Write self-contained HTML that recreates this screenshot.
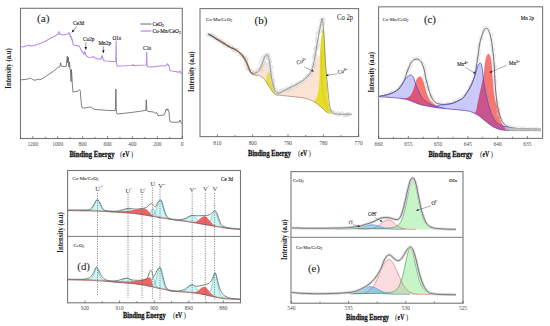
<!DOCTYPE html>
<html><head><meta charset="utf-8"><style>
html,body{margin:0;padding:0;background:#fff;}
svg{display:block;}
text{font-family:"Liberation Serif",serif;}
</style></head><body>
<svg width="550" height="326" viewBox="0 0 550 326">
<rect width="550" height="326" fill="#fff"/>
<rect x="20.5" y="8.3" width="161.8" height="130.2" fill="none" stroke="#777777" stroke-width="1.1"/><line x1="182.2" y1="138.5" x2="182.2" y2="136.1" stroke="#555" stroke-width="0.7"/><line x1="157.3" y1="138.5" x2="157.3" y2="136.1" stroke="#555" stroke-width="0.7"/><line x1="132.4" y1="138.5" x2="132.4" y2="136.1" stroke="#555" stroke-width="0.7"/><line x1="107.5" y1="138.5" x2="107.5" y2="136.1" stroke="#555" stroke-width="0.7"/><line x1="82.6" y1="138.5" x2="82.6" y2="136.1" stroke="#555" stroke-width="0.7"/><line x1="57.7" y1="138.5" x2="57.7" y2="136.1" stroke="#555" stroke-width="0.7"/><line x1="32.8" y1="138.5" x2="32.8" y2="136.1" stroke="#555" stroke-width="0.7"/><line x1="169.75" y1="138.5" x2="169.75" y2="136.9" stroke="#555" stroke-width="0.7"/><line x1="144.85" y1="138.5" x2="144.85" y2="136.9" stroke="#555" stroke-width="0.7"/><line x1="119.95" y1="138.5" x2="119.95" y2="136.9" stroke="#555" stroke-width="0.7"/><line x1="95.05" y1="138.5" x2="95.05" y2="136.9" stroke="#555" stroke-width="0.7"/><line x1="70.15" y1="138.5" x2="70.15" y2="136.9" stroke="#555" stroke-width="0.7"/><line x1="45.25" y1="138.5" x2="45.25" y2="136.9" stroke="#555" stroke-width="0.7"/><line x1="20.35" y1="138.5" x2="20.35" y2="136.9" stroke="#555" stroke-width="0.7"/><text x="182.2" y="145.6" font-size="5.4" text-anchor="middle" font-weight="normal" fill="#4a4a4a" >0</text><text x="157.3" y="145.6" font-size="5.4" text-anchor="middle" font-weight="normal" fill="#4a4a4a" >200</text><text x="132.4" y="145.6" font-size="5.4" text-anchor="middle" font-weight="normal" fill="#4a4a4a" >400</text><text x="107.5" y="145.6" font-size="5.4" text-anchor="middle" font-weight="normal" fill="#4a4a4a" >600</text><text x="82.6" y="145.6" font-size="5.4" text-anchor="middle" font-weight="normal" fill="#4a4a4a" >800</text><text x="57.7" y="145.6" font-size="5.4" text-anchor="middle" font-weight="normal" fill="#4a4a4a" >1000</text><text x="32.8" y="145.6" font-size="5.4" text-anchor="middle" font-weight="normal" fill="#4a4a4a" >1200</text><text x="69.4" y="156.5" font-size="7.3" font-weight="bold" fill="#141414" stroke="#141414" stroke-width="0.28" textLength="45.1" lengthAdjust="spacingAndGlyphs">Binding Energy</text><text x="120.1" y="156.5" font-size="7.3" fill="#333">(</text><text x="122.6" y="156.5" font-size="7.3" font-weight="bold" fill="#141414" stroke="#141414" stroke-width="0.22" textLength="6.7" lengthAdjust="spacingAndGlyphs">eV</text><text x="130.7" y="156.5" font-size="7.3" fill="#333">)</text><text transform="translate(8.3,68.5) rotate(-90)" x="-20.25" font-size="7.4" font-weight="bold" fill="#1a1a1a" dy="0.35em" textLength="40.5" lengthAdjust="spacingAndGlyphs">Intensity (a.u)</text><text x="37" y="22.1" font-size="11.4" fill="#222" stroke="#222" stroke-width="0.05">(a)</text><line x1="140.5" y1="24" x2="151.4" y2="24" stroke="#555" stroke-width="0.9"/><line x1="140.5" y1="31" x2="151.4" y2="31" stroke="#c4a4ee" stroke-width="1.6"/><text x="152.4" y="25.8" font-size="5.3" text-anchor="start" font-weight="normal" fill="#1e1e1e" stroke="#1e1e1e" stroke-width="0.14" >CeO<tspan font-size="3.6" dy="1">2</tspan></text><text x="152.4" y="32.8" font-size="5.3" text-anchor="start" font-weight="normal" fill="#1e1e1e" stroke="#1e1e1e" stroke-width="0.14" >Co-Mn/CeO<tspan font-size="3.6" dy="1">2</tspan></text><path d="M20.6,47 L24,46.6 L27,45.8 L28.5,45 L30,46 L33,45.6 L36,45 L40,43.5 L45,41.5 L50,38.5 L55,36 L58,34 L59,31.5 L59.6,34 L62,34.6 L64,35 L66,34.3 L67.5,34 L68.3,33.8 L69,32.5 L69.6,35 L70,34.2 L70.6,37.5 L71,36.2 L71.6,40 L72.2,39 L72.8,42.5 L73.3,45 L74.5,45.2 L77,45.6 L79.5,46.4 L81,50 L82.5,52 L83.5,53 L84,54.5 L84.6,51.5 L85.3,53 L86,55.5 L88,57 L90,57.5 L92,57.2 L93,56.4 L94,57.4 L96,58.4 L100,59.2 L101,58.5 L101.5,56.5 L102.2,55.5 L102.7,58 L103.2,60 L105,61 L110,61.3 L115,61.6 L115.8,61.5 L116.1,41 L116.5,63 L117.3,66.2 L125,65.8 L132,65.5 L132.7,64.3 L133.3,65.6 L140,65.2 L146.3,65 L146.7,52 L147.1,66.5 L148,67 L155,66.6 L160,66 L165,65.6 L166.5,65.2 L167.3,63.8 L168,64.5 L169.3,67 L169.8,70.5 L172,71 L176,71.6 L179,72.2 L180,71 L180.8,73 L182,74" fill="none" stroke="#b792e8" stroke-width="1.15" stroke-linejoin="round"/><path d="M20.6,79.8 L24,79.6 L26.6,79.2 L28,79 L29.5,78.4 L31,78.2 L32.3,79.6 L35,80.2 L37,79.6 L38.3,79.2 L40,79.8 L44,77.6 L50,73.5 L55,70 L58,67.5 L60,66.5 L60.6,62.8 L61.2,66.2 L64,66.5 L66.2,66.4 L66.8,60 L67.3,56.2 L67.8,63 L68.4,57.5 L68.9,67 L69.5,62 L70,69.5 L70.5,70 L71,81.5 L71.4,69.5 L71.9,76 L72.3,84 L73,92 L75,91.6 L78,91.2 L79.4,89.6 L80.2,90.5 L80.8,98 L81.6,106 L82.5,108 L85,108 L88,107.3 L91,107 L92.5,108.3 L95,109.5 L100,109.8 L105,110.2 L110,110.5 L115.3,110.6 L115.9,89 L116.4,112.5 L117.3,114 L125,113.2 L135,112 L145.8,110.4 L146.3,99.8 L146.8,110.8 L148,111.3 L150,111.6 L153.7,112 L155,113.5 L156.6,112.6 L158,115.6 L160,115.4 L164,115 L165,113 L166.3,109 L167,110.5 L167.6,108.8 L168.4,110 L169,112 L169.8,121.5 L172,122.2 L176,122.3 L179.3,122 L180,120 L180.7,121.8 L181.5,123.5 L182,124" fill="none" stroke="#555" stroke-width="0.75" stroke-linejoin="round"/><text x="73" y="25.3" font-size="5.3" text-anchor="start" font-weight="normal" fill="#222" stroke="#222" stroke-width="0.14" >Ce3d</text><line x1="76.6" y1="26.4" x2="71.8" y2="32.4" stroke="#333" stroke-width="0.5"/><path d="M71.8,32.4 L72.67,29.39 L74.55,30.89 Z" fill="#111"/><text x="83" y="41.4" font-size="5.3" text-anchor="start" font-weight="normal" fill="#222" stroke="#222" stroke-width="0.14" >Co2p</text><line x1="85.8" y1="42.3" x2="85.8" y2="49.8" stroke="#333" stroke-width="0.5"/><path d="M85.8,49.8 L84.55,47 L87.05,47 Z" fill="#111"/><text x="98.4" y="44.8" font-size="5.3" text-anchor="start" font-weight="normal" fill="#222" stroke="#222" stroke-width="0.14" >Mn2p</text><line x1="103.4" y1="46.3" x2="103.4" y2="53" stroke="#333" stroke-width="0.5"/><path d="M103.4,53 L102.15,50.2 L104.65,50.2 Z" fill="#111"/><text x="112.5" y="39.8" font-size="5.3" text-anchor="start" font-weight="normal" fill="#222" stroke="#222" stroke-width="0.14" >O1s</text><text x="142.9" y="50.2" font-size="5.3" text-anchor="start" font-weight="normal" fill="#222" stroke="#222" stroke-width="0.14" >C1s</text>
<rect x="200" y="8.6" width="158.6" height="128" fill="none" stroke="#777777" stroke-width="1.1"/><line x1="358.6" y1="136.6" x2="358.6" y2="134.2" stroke="#555" stroke-width="0.7"/><line x1="323.3" y1="136.6" x2="323.3" y2="134.2" stroke="#555" stroke-width="0.7"/><line x1="288" y1="136.6" x2="288" y2="134.2" stroke="#555" stroke-width="0.7"/><line x1="252.7" y1="136.6" x2="252.7" y2="134.2" stroke="#555" stroke-width="0.7"/><line x1="217.4" y1="136.6" x2="217.4" y2="134.2" stroke="#555" stroke-width="0.7"/><line x1="340.95" y1="136.6" x2="340.95" y2="135" stroke="#555" stroke-width="0.7"/><line x1="305.65" y1="136.6" x2="305.65" y2="135" stroke="#555" stroke-width="0.7"/><line x1="270.35" y1="136.6" x2="270.35" y2="135" stroke="#555" stroke-width="0.7"/><line x1="235.05" y1="136.6" x2="235.05" y2="135" stroke="#555" stroke-width="0.7"/><text x="358.6" y="145.2" font-size="5.4" text-anchor="middle" font-weight="normal" fill="#4a4a4a" >770</text><text x="323.3" y="145.2" font-size="5.4" text-anchor="middle" font-weight="normal" fill="#4a4a4a" >780</text><text x="288" y="145.2" font-size="5.4" text-anchor="middle" font-weight="normal" fill="#4a4a4a" >790</text><text x="252.7" y="145.2" font-size="5.4" text-anchor="middle" font-weight="normal" fill="#4a4a4a" >800</text><text x="217.4" y="145.2" font-size="5.4" text-anchor="middle" font-weight="normal" fill="#4a4a4a" >810</text><text x="248" y="155.9" font-size="7.3" font-weight="bold" fill="#141414" stroke="#141414" stroke-width="0.28" textLength="43" lengthAdjust="spacingAndGlyphs">Binding Energy</text><text x="297.9" y="155.9" font-size="7.3" fill="#333">(</text><text x="300.4" y="155.9" font-size="7.3" font-weight="bold" fill="#141414" stroke="#141414" stroke-width="0.22" textLength="6.7" lengthAdjust="spacingAndGlyphs">eV</text><text x="308.5" y="155.9" font-size="7.3" fill="#333">)</text><text transform="translate(191.8,71.7) rotate(-90)" x="-20.25" font-size="7.4" font-weight="bold" fill="#1a1a1a" dy="0.35em" textLength="40.5" lengthAdjust="spacingAndGlyphs">Intensity (a.u)</text><text x="254.6" y="24" font-size="10.9" fill="#222" stroke="#222" stroke-width="0.14">(b)</text><text x="206" y="21.2" font-size="4.9" text-anchor="start" font-weight="normal" fill="#1e1e1e" stroke="#1e1e1e" stroke-width="0.06" >Co-Mn/CeO<tspan font-size="3.5" dy="1">2</tspan></text><text x="337" y="19.9" font-size="7.3" text-anchor="start" font-weight="normal" fill="#222" stroke="#222" stroke-width="0.04" textLength="16" lengthAdjust="spacingAndGlyphs">Co 2p</text><path d="M253.5,74.3 C254,74.18 255.67,73.88 256.5,73.6 C257.33,73.32 257.87,73.2 258.5,72.6 C259.13,72 259.75,71.02 260.3,70 C260.85,68.98 261.32,67.67 261.8,66.5 C262.28,65.33 262.75,63.92 263.2,63 C263.65,62.08 264.1,61.37 264.5,61 C264.9,60.63 265.27,60.55 265.6,60.8 C265.93,61.05 266.22,61.63 266.5,62.5 C266.78,63.37 267.05,64.58 267.3,66 C267.55,67.42 267.77,69.33 268,71 C268.23,72.67 268.45,73.3 268.7,76 C268.95,78.7 269.87,86.12 269.5,87.2 C269.13,88.28 267.33,83.78 266.5,82.5 C265.67,81.22 265.25,80.42 264.5,79.5 C263.75,78.58 262.98,77.65 262,77 C261.02,76.35 259.6,75.9 258.6,75.6 C257.6,75.3 256.43,75.27 256,75.2 Z" fill="#fbe3d3"/><path d="M275.4,94.6 C275.67,94.4 276.23,93.68 277,93.4 C277.77,93.12 279.08,93.18 280,92.9 C280.92,92.62 281.5,92.2 282.5,91.7 C283.5,91.2 284.75,90.55 286,89.9 C287.25,89.25 288.83,88.38 290,87.8 C291.17,87.22 292,86.87 293,86.4 C294,85.93 295,85.4 296,85 C297,84.6 298,84.43 299,84 C300,83.57 301,83 302,82.4 C303,81.8 304.17,81 305,80.4 C305.83,79.8 306.33,79.42 307,78.8 C307.67,78.18 308.42,77.4 309,76.7 C309.58,76 310,75.42 310.5,74.6 C311,73.78 311.5,72.9 312,71.8 C312.5,70.7 313,69.38 313.5,68 C314,66.62 314.5,64.92 315,63.5 C315.5,62.08 316,60.67 316.5,59.5 C317,58.33 317.53,57.17 318,56.5 C318.47,55.83 318.93,54.92 319.3,55.5 C319.67,56.08 320.02,55.92 320.2,60 C320.38,64.08 320.43,73.33 320.4,80 C320.37,86.67 319.65,95.27 320,100 C320.35,104.73 322.83,107.65 322.5,108.4 C322.17,109.15 319.42,105.63 318,104.5 C316.58,103.37 315.33,102.38 314,101.6 C312.67,100.82 311.5,100.37 310,99.8 C308.5,99.23 306.67,98.6 305,98.2 C303.33,97.8 301.67,97.62 300,97.4 C298.33,97.18 296.67,97.08 295,96.9 C293.33,96.72 291.67,96.48 290,96.3 C288.33,96.12 287,96.02 285,95.8 C283,95.58 279.17,95.13 278,95 Z" fill="#fbe3d3"/><path d="M267.2,73.2 C267.77,73.1 269.87,71.8 270.6,72.6 C271.33,73.4 271.27,76.43 271.6,78 C271.93,79.57 272.27,80.58 272.6,82 C272.93,83.42 273.27,85.08 273.6,86.5 C273.93,87.92 274.27,89.32 274.6,90.5 C274.93,91.68 275.33,92.8 275.6,93.6 C275.87,94.4 276.23,95.13 276.2,95.3 C276.17,95.47 275.95,95.12 275.4,94.6 C274.85,94.08 273.88,93.43 272.9,92.2 C271.92,90.97 270.57,88.82 269.5,87.2 C268.43,85.58 267.02,83.95 266.5,82.5 C265.98,81.05 266.42,79.17 266.4,78.5 Z" fill="#e6de26"/><path d="M323.1,26.5 L322.2,31 L321.1,38 L320.4,46 L320,55 L319.8,65 L319.7,75 L319.4,82 L318.6,90 L317.6,95 L316.2,98.5 L314.8,100.6 L313.6,101.8 L318,104.5 L322.5,108.4 L326,111.5 L328.3,113.2 L332.6,114.3 L331,111.5 L329.5,108 L328.5,102 L327.8,97.5 L327.2,88 L326.6,80 L326,65 L325.4,55 L324.8,42 L324.2,33 L323.7,28.5Z" fill="#e6de26"/><path d="M321.4,50 L321.6,70 L322.2,88 L324.5,101 L328,110 L331,113.6" fill="none" stroke="#c8c018" stroke-width="0.5"/><g fill="none" stroke="#cdcdcd" stroke-width="0.6"><circle cx="207.79" cy="34.82" r="1.6"/><circle cx="210.76" cy="34.77" r="1.6"/><circle cx="212.29" cy="35.88" r="1.6"/><circle cx="212.5" cy="35.85" r="1.6"/><circle cx="214.98" cy="37.27" r="1.6"/><circle cx="216.7" cy="39.13" r="1.6"/><circle cx="218.98" cy="40.39" r="1.6"/><circle cx="220" cy="40.84" r="1.6"/><circle cx="221.6" cy="41.4" r="1.6"/><circle cx="224.37" cy="44.02" r="1.6"/><circle cx="223.68" cy="43.22" r="1.6"/><circle cx="227.22" cy="44.04" r="1.6"/><circle cx="227.29" cy="46.23" r="1.6"/><circle cx="231.39" cy="46.63" r="1.6"/><circle cx="233.25" cy="49.15" r="1.6"/><circle cx="233.62" cy="49.9" r="1.6"/><circle cx="236.06" cy="49.79" r="1.6"/><circle cx="237.26" cy="49.94" r="1.6"/><circle cx="237.65" cy="51.33" r="1.6"/><circle cx="240.76" cy="54.19" r="1.6"/><circle cx="242.19" cy="55.7" r="1.6"/><circle cx="244.38" cy="57.67" r="1.6"/><circle cx="243.97" cy="57.21" r="1.6"/><circle cx="246.01" cy="58.99" r="1.6"/><circle cx="245.86" cy="60.83" r="1.6"/><circle cx="246.71" cy="63.88" r="1.6"/><circle cx="247.95" cy="66.39" r="1.6"/><circle cx="247.86" cy="68.53" r="1.6"/><circle cx="248.51" cy="69.21" r="1.6"/><circle cx="251.24" cy="71" r="1.6"/><circle cx="251.9" cy="71.53" r="1.6"/><circle cx="253.46" cy="73.49" r="1.6"/><circle cx="255.12" cy="72.29" r="1.6"/><circle cx="256.15" cy="73.53" r="1.6"/><circle cx="257.4" cy="70.58" r="1.6"/><circle cx="259.98" cy="69.38" r="1.6"/><circle cx="261.32" cy="69.14" r="1.6"/><circle cx="262" cy="66.02" r="1.6"/><circle cx="261.74" cy="65.36" r="1.6"/><circle cx="263.57" cy="63.28" r="1.6"/><circle cx="263.77" cy="60.95" r="1.6"/><circle cx="265.13" cy="58.05" r="1.6"/><circle cx="264.21" cy="56.38" r="1.6"/><circle cx="266.49" cy="54.53" r="1.6"/><circle cx="268.15" cy="54.83" r="1.6"/><circle cx="267.65" cy="55.65" r="1.6"/><circle cx="268.21" cy="58.14" r="1.6"/><circle cx="270.1" cy="61.34" r="1.6"/><circle cx="268.8" cy="64.64" r="1.6"/><circle cx="269.63" cy="66.39" r="1.6"/><circle cx="271.4" cy="66.99" r="1.6"/><circle cx="270.53" cy="70.27" r="1.6"/><circle cx="269.75" cy="71.71" r="1.6"/><circle cx="271.85" cy="73.35" r="1.6"/><circle cx="271.48" cy="75.39" r="1.6"/><circle cx="272.26" cy="77.84" r="1.6"/><circle cx="272.14" cy="80.02" r="1.6"/><circle cx="273.49" cy="81.11" r="1.6"/><circle cx="272.68" cy="83.19" r="1.6"/><circle cx="273.26" cy="85.46" r="1.6"/><circle cx="272.94" cy="86.59" r="1.6"/><circle cx="273.81" cy="88.91" r="1.6"/><circle cx="276.11" cy="90.61" r="1.6"/><circle cx="276.37" cy="92.73" r="1.6"/><circle cx="278.07" cy="93.4" r="1.6"/><circle cx="280.25" cy="93.02" r="1.6"/><circle cx="280.67" cy="91.08" r="1.6"/><circle cx="281.77" cy="90.46" r="1.6"/><circle cx="283.69" cy="90.23" r="1.6"/><circle cx="286.69" cy="89.93" r="1.6"/><circle cx="288.34" cy="89.4" r="1.6"/><circle cx="289.54" cy="87.95" r="1.6"/><circle cx="290.96" cy="88.27" r="1.6"/><circle cx="292.06" cy="85.38" r="1.6"/><circle cx="295.94" cy="85.7" r="1.6"/><circle cx="296.32" cy="84.8" r="1.6"/><circle cx="297.78" cy="83.14" r="1.6"/><circle cx="300.49" cy="81.87" r="1.6"/><circle cx="301.82" cy="81.94" r="1.6"/><circle cx="304.35" cy="79.81" r="1.6"/><circle cx="304.56" cy="79.4" r="1.6"/><circle cx="306.89" cy="76.78" r="1.6"/><circle cx="307.3" cy="75.7" r="1.6"/><circle cx="309.3" cy="75.02" r="1.6"/><circle cx="310.3" cy="74.14" r="1.6"/><circle cx="311.53" cy="72.61" r="1.6"/><circle cx="310.37" cy="70.72" r="1.6"/><circle cx="312.97" cy="67.85" r="1.6"/><circle cx="313.91" cy="65.94" r="1.6"/><circle cx="313.28" cy="64.95" r="1.6"/><circle cx="314.14" cy="63.11" r="1.6"/><circle cx="314.3" cy="59.68" r="1.6"/><circle cx="315.28" cy="57.6" r="1.6"/><circle cx="314.3" cy="57.14" r="1.6"/><circle cx="314.61" cy="54.58" r="1.6"/><circle cx="315.37" cy="54.16" r="1.6"/><circle cx="315.72" cy="50.53" r="1.6"/><circle cx="315.2" cy="48.87" r="1.6"/><circle cx="317" cy="48.18" r="1.6"/><circle cx="316.48" cy="46.82" r="1.6"/><circle cx="318.01" cy="45.03" r="1.6"/><circle cx="317.15" cy="42.81" r="1.6"/><circle cx="317.37" cy="40.53" r="1.6"/><circle cx="316.93" cy="39.71" r="1.6"/><circle cx="317.45" cy="37.44" r="1.6"/><circle cx="317.77" cy="33.68" r="1.6"/><circle cx="318.32" cy="32.18" r="1.6"/><circle cx="320.52" cy="30.86" r="1.6"/><circle cx="320.76" cy="30.24" r="1.6"/><circle cx="319.39" cy="27.84" r="1.6"/><circle cx="321.15" cy="25.57" r="1.6"/><circle cx="321.52" cy="23.62" r="1.6"/><circle cx="321.34" cy="20.15" r="1.6"/><circle cx="322.65" cy="18.62" r="1.6"/><circle cx="323.28" cy="19.84" r="1.6"/><circle cx="323.26" cy="23.85" r="1.6"/></g><g fill="none" stroke="#dedede" stroke-width="0.55"><circle cx="209.43" cy="35.38" r="1.7"/><circle cx="209.4" cy="34.64" r="1.7"/><circle cx="211.98" cy="38.05" r="1.7"/><circle cx="215.92" cy="37.14" r="1.7"/><circle cx="218.57" cy="39.18" r="1.7"/><circle cx="218.84" cy="40.55" r="1.7"/><circle cx="221.19" cy="41.46" r="1.7"/><circle cx="221.76" cy="42.2" r="1.7"/><circle cx="224.45" cy="45.29" r="1.7"/><circle cx="229.36" cy="45.49" r="1.7"/><circle cx="230.91" cy="49.27" r="1.7"/><circle cx="233.39" cy="48.53" r="1.7"/><circle cx="235.74" cy="50.69" r="1.7"/><circle cx="236.71" cy="50.53" r="1.7"/><circle cx="237.71" cy="53.91" r="1.7"/><circle cx="241.25" cy="55.12" r="1.7"/><circle cx="244.79" cy="57.74" r="1.7"/><circle cx="246.59" cy="58.48" r="1.7"/><circle cx="246.3" cy="62.43" r="1.7"/><circle cx="245.72" cy="63.89" r="1.7"/><circle cx="246.45" cy="66.03" r="1.7"/><circle cx="248.48" cy="68.13" r="1.7"/><circle cx="251.14" cy="72.34" r="1.7"/><circle cx="254.89" cy="72.65" r="1.7"/><circle cx="255.25" cy="74.22" r="1.7"/><circle cx="257.16" cy="72.01" r="1.7"/><circle cx="261.34" cy="68.42" r="1.7"/><circle cx="258.87" cy="68.69" r="1.7"/><circle cx="260.69" cy="64.27" r="1.7"/><circle cx="261.04" cy="61.58" r="1.7"/><circle cx="262.32" cy="59.82" r="1.7"/><circle cx="262.71" cy="57.67" r="1.7"/><circle cx="264.82" cy="57.22" r="1.7"/><circle cx="267.99" cy="55.81" r="1.7"/><circle cx="269.73" cy="57.32" r="1.7"/><circle cx="269.86" cy="61.83" r="1.7"/><circle cx="268.03" cy="63.95" r="1.7"/><circle cx="269.56" cy="62.88" r="1.7"/><circle cx="268.97" cy="68.22" r="1.7"/><circle cx="269.56" cy="70.17" r="1.7"/><circle cx="269.23" cy="71.83" r="1.7"/><circle cx="269.71" cy="74.33" r="1.7"/><circle cx="269.62" cy="78.8" r="1.7"/><circle cx="272.58" cy="80.21" r="1.7"/><circle cx="273.36" cy="82.66" r="1.7"/><circle cx="272.91" cy="83.04" r="1.7"/><circle cx="275.03" cy="86.96" r="1.7"/><circle cx="275.68" cy="89.87" r="1.7"/><circle cx="277.91" cy="94.13" r="1.7"/><circle cx="279.7" cy="93.07" r="1.7"/><circle cx="279.77" cy="92.96" r="1.7"/><circle cx="284.58" cy="91.37" r="1.7"/><circle cx="285.87" cy="88.2" r="1.7"/><circle cx="288.75" cy="89.64" r="1.7"/><circle cx="288.5" cy="88" r="1.7"/><circle cx="292.38" cy="86.71" r="1.7"/><circle cx="296.52" cy="86.7" r="1.7"/><circle cx="298.68" cy="83.17" r="1.7"/></g><g fill="none" stroke="#cdcdcd" stroke-width="0.6"><circle cx="330.06" cy="111.01" r="1.6"/><circle cx="331.65" cy="110.99" r="1.6"/><circle cx="332.94" cy="112.72" r="1.6"/><circle cx="334.6" cy="113.07" r="1.6"/><circle cx="337.24" cy="114.53" r="1.6"/><circle cx="338.6" cy="113.25" r="1.6"/><circle cx="339.74" cy="114.38" r="1.6"/><circle cx="342.05" cy="113.37" r="1.6"/><circle cx="344.05" cy="115.13" r="1.6"/><circle cx="345.8" cy="115.12" r="1.6"/><circle cx="347.58" cy="114.79" r="1.6"/><circle cx="347.77" cy="113.91" r="1.6"/><circle cx="349.45" cy="114.39" r="1.6"/></g><defs><linearGradient id="brg" gradientUnits="userSpaceOnUse" x1="208" y1="0" x2="254" y2="0"><stop offset="0" stop-color="#5a5a5a"/><stop offset="0.3" stop-color="#7a5a44"/><stop offset="1" stop-color="#94643e"/></linearGradient></defs><path d="M253.5,74.3 C253.92,74.45 255.15,74.98 256,75.2 C256.85,75.42 257.6,75.3 258.6,75.6 C259.6,75.9 261.02,76.35 262,77 C262.98,77.65 263.75,78.58 264.5,79.5 C265.25,80.42 265.67,81.22 266.5,82.5 C267.33,83.78 268.43,85.58 269.5,87.2 C270.57,88.82 271.92,90.97 272.9,92.2 C273.88,93.43 274.55,94.13 275.4,94.6 C276.25,95.07 276.4,94.8 278,95 C279.6,95.2 283,95.58 285,95.8 C287,96.02 288.33,96.12 290,96.3 C291.67,96.48 293.33,96.72 295,96.9 C296.67,97.08 298.33,97.18 300,97.4 C301.67,97.62 303.33,97.8 305,98.2 C306.67,98.6 308.5,99.23 310,99.8 C311.5,100.37 312.67,100.82 314,101.6 C315.33,102.38 316.58,103.37 318,104.5 C319.42,105.63 321.17,107.23 322.5,108.4 C323.83,109.57 325.03,110.7 326,111.5 C326.97,112.3 327.92,112.92 328.3,113.2" fill="none" stroke="#a88468" stroke-width="0.75"/><path d="M208.4,34 C209,34.33 210.73,35.23 212,36 C213.27,36.77 214.67,37.77 216,38.6 C217.33,39.43 218.67,40.2 220,41 C221.33,41.8 222.67,42.57 224,43.4 C225.33,44.23 226.67,45.23 228,46 C229.33,46.77 230.67,47.33 232,48 C233.33,48.67 234.67,49.17 236,50 C237.33,50.83 238.83,51.97 240,53 C241.17,54.03 242,54.87 243,56.2 C244,57.53 245.1,59.2 246,61 C246.9,62.8 247.73,65.33 248.4,67 C249.07,68.67 249.47,70 250,71 C250.53,72 251.02,72.45 251.6,73 C252.18,73.55 253.18,74.08 253.5,74.3" fill="none" stroke="url(#brg)" stroke-width="1.45"/><path d="M253.5,73.8 C254.07,73.53 256.02,72.67 256.9,72.2 C257.78,71.73 258.25,71.6 258.8,71 C259.35,70.4 259.75,69.52 260.2,68.6 C260.65,67.68 261.07,66.6 261.5,65.5 C261.93,64.4 262.38,63.17 262.8,62 C263.22,60.83 263.58,59.5 264,58.5 C264.42,57.5 264.93,56.57 265.3,56 C265.67,55.43 265.92,55.27 266.2,55.1 C266.48,54.93 266.73,54.92 267,55 C267.27,55.08 267.52,55.15 267.8,55.6 C268.08,56.05 268.43,56.8 268.7,57.7 C268.97,58.6 269.18,59.75 269.4,61 C269.62,62.25 269.8,63.7 270,65.2 C270.2,66.7 270.4,68.3 270.6,70 C270.8,71.7 270.97,73.73 271.2,75.4 C271.43,77.07 271.72,78.6 272,80 C272.28,81.4 272.57,82.47 272.9,83.8 C273.23,85.13 273.58,86.73 274,88 C274.42,89.27 274.98,90.6 275.4,91.4 C275.82,92.2 276.07,92.5 276.5,92.8 C276.93,93.1 277.42,93.22 278,93.2 C278.58,93.18 279.3,92.98 280,92.7 C280.7,92.42 281.2,92 282.2,91.5 C283.2,91 284.7,90.37 286,89.7 C287.3,89.03 288.83,88.1 290,87.5 C291.17,86.9 292,86.57 293,86.1 C294,85.63 295,85.2 296,84.7 C297,84.2 298,83.7 299,83.1 C300,82.5 301,81.82 302,81.1 C303,80.38 304.17,79.48 305,78.8 C305.83,78.12 306.33,77.67 307,77 C307.67,76.33 308.42,75.55 309,74.8 C309.58,74.05 310,73.38 310.5,72.5 C311,71.62 311.52,70.75 312,69.5 C312.48,68.25 313.03,66.42 313.4,65 C313.77,63.58 313.93,62.43 314.2,61 C314.47,59.57 314.67,58.32 315,56.4 C315.33,54.48 315.82,51.8 316.2,49.5 C316.58,47.2 316.92,44.77 317.3,42.6 C317.68,40.43 318.12,38.55 318.5,36.5 C318.88,34.45 319.22,32.47 319.6,30.3 C319.98,28.13 320.42,25.42 320.8,23.5 C321.18,21.58 321.6,19.3 321.9,18.8 C322.2,18.3 322.4,19.6 322.6,20.5 C322.8,21.4 322.92,22.45 323.1,24.2 C323.28,25.95 323.52,28.7 323.7,31 C323.88,33.3 324.05,35.5 324.2,38 C324.35,40.5 324.48,43.45 324.6,46 C324.72,48.55 324.73,50.13 324.9,53.3 C325.07,56.47 325.35,61.38 325.6,65 C325.85,68.62 326.13,72.17 326.4,75 C326.67,77.83 326.95,79.5 327.2,82 C327.45,84.5 327.67,87.5 327.9,90 C328.13,92.5 328.37,94.83 328.6,97 C328.83,99.17 329.05,101.17 329.3,103 C329.55,104.83 329.82,106.75 330.1,108 C330.38,109.25 330.62,109.78 331,110.5 C331.38,111.22 331.9,111.83 332.4,112.3 C332.9,112.77 333.4,113.03 334,113.3 C334.6,113.57 335,113.75 336,113.9 C337,114.05 337.33,114.13 340,114.2 C342.67,114.27 350,114.28 352,114.3" fill="none" stroke="#858585" stroke-width="0.8"/><text x="297" y="64.4" font-size="5.3" fill="#222" stroke="#222" stroke-width="0.1" transform="rotate(-14,297,64.4)">Co<tspan font-size="3.5" dy="-2.1">2+</tspan></text><line x1="304.2" y1="67" x2="313.8" y2="71.4" stroke="#333" stroke-width="0.4"/><path d="M313.8,71.4 L311.29,71.35 L312.13,69.53 Z" fill="#111"/><text x="337.9" y="73.7" font-size="5.3" fill="#222" stroke="#222" stroke-width="0.1" transform="rotate(-8,337.9,73.7)">Co<tspan font-size="3.5" dy="-2.1">3+</tspan></text><line x1="337.6" y1="73.8" x2="326" y2="75.4" stroke="#333" stroke-width="0.4"/><path d="M326,75.4 L328.14,74.1 L328.42,76.08 Z" fill="#111"/>
<rect x="378.6" y="6.8" width="164" height="131.6" fill="none" stroke="#777777" stroke-width="1.1"/><line x1="527.4" y1="138.4" x2="527.4" y2="136" stroke="#555" stroke-width="0.7"/><line x1="497.64" y1="138.4" x2="497.64" y2="136" stroke="#555" stroke-width="0.7"/><line x1="467.88" y1="138.4" x2="467.88" y2="136" stroke="#555" stroke-width="0.7"/><line x1="438.12" y1="138.4" x2="438.12" y2="136" stroke="#555" stroke-width="0.7"/><line x1="408.36" y1="138.4" x2="408.36" y2="136" stroke="#555" stroke-width="0.7"/><line x1="378.6" y1="138.4" x2="378.6" y2="136" stroke="#555" stroke-width="0.7"/><line x1="512.52" y1="138.4" x2="512.52" y2="136.8" stroke="#555" stroke-width="0.7"/><line x1="482.76" y1="138.4" x2="482.76" y2="136.8" stroke="#555" stroke-width="0.7"/><line x1="453" y1="138.4" x2="453" y2="136.8" stroke="#555" stroke-width="0.7"/><line x1="423.24" y1="138.4" x2="423.24" y2="136.8" stroke="#555" stroke-width="0.7"/><line x1="393.48" y1="138.4" x2="393.48" y2="136.8" stroke="#555" stroke-width="0.7"/><text x="527.4" y="145.6" font-size="5.4" text-anchor="middle" font-weight="normal" fill="#4a4a4a" >635</text><text x="497.64" y="145.6" font-size="5.4" text-anchor="middle" font-weight="normal" fill="#4a4a4a" >640</text><text x="467.88" y="145.6" font-size="5.4" text-anchor="middle" font-weight="normal" fill="#4a4a4a" >645</text><text x="438.12" y="145.6" font-size="5.4" text-anchor="middle" font-weight="normal" fill="#4a4a4a" >650</text><text x="408.36" y="145.6" font-size="5.4" text-anchor="middle" font-weight="normal" fill="#4a4a4a" >655</text><text x="378.6" y="145.6" font-size="5.4" text-anchor="middle" font-weight="normal" fill="#4a4a4a" >660</text><text x="428.4" y="156.7" font-size="7.3" font-weight="bold" fill="#141414" stroke="#141414" stroke-width="0.28" textLength="44.1" lengthAdjust="spacingAndGlyphs">Binding Energy</text><text x="479.9" y="156.7" font-size="7.3" fill="#333">(</text><text x="482.4" y="156.7" font-size="7.3" font-weight="bold" fill="#141414" stroke="#141414" stroke-width="0.22" textLength="6.7" lengthAdjust="spacingAndGlyphs">eV</text><text x="490.5" y="156.7" font-size="7.3" fill="#333">)</text><text transform="translate(371,72.3) rotate(-90)" x="-20.25" font-size="7.4" font-weight="bold" fill="#1a1a1a" dy="0.35em" textLength="40.5" lengthAdjust="spacingAndGlyphs">Intensity (a.u)</text><text x="423.9" y="22.9" font-size="10.9" fill="#222" stroke="#222" stroke-width="0.14">(c)</text><text x="382.4" y="21.2" font-size="4.9" text-anchor="start" font-weight="normal" fill="#1e1e1e" stroke="#1e1e1e" stroke-width="0.06" >Co-Mn/CeO<tspan font-size="3.5" dy="1">2</tspan></text><text x="520.8" y="20.4" font-size="5.3" text-anchor="start" font-weight="normal" fill="#1e1e1e" stroke="#1e1e1e" stroke-width="0.14" textLength="13.1" lengthAdjust="spacingAndGlyphs">Mn 2p</text><defs><clipPath id="bclip"><path d="M379,96.4 L387,94.8 L392,93.2 L395,91.6 L398,89.2 L401.4,85 L404,81 L406,78.3 L408.3,76 L410.3,74.9 L411.8,75.3 L413,76.6 L414,78.6 L414.7,81 L415.5,83.2 L416.3,85.5 L417.4,88.3 L418.6,91 L419.9,93.9 L421.3,96.5 L423.6,99.3 L426.3,101.5 L428.5,103 L430.7,104.2 L434,105.6 L437,106.6 L440,107.4 L445,108.4 L445,108.57 L440,108 L434,107.3 L428,106.2 L422,105 L417,103.4 L411,101 L406,99.2 L400,98.3 L395,97.8 L387,97.2 L379,96.6Z"/><path d="M436,106.6 L440.5,105 L444.5,104.8 L447.9,104.4 L452,103.6 L456.5,101.8 L460,100 L462.9,98.4 L465.5,95 L468.3,90.8 L470.5,87 L473.3,80.5 L475,75.5 L476.2,71.5 L477.6,67 L479.2,63.6 L480.8,63.2 L481.9,66 L482.7,72 L483.4,79 L484.5,86 L485.6,92 L487,98.5 L488.5,104.5 L490,109.5 L492,115.2 L494.5,119.6 L497.1,122.8 L500,124.8 L503.9,126.3 L508,127.2 L515,127.6 L515,130.55 L510,130.5 L505.5,130.3 L501,129.8 L497.5,128.8 L494,127.3 L491,125.4 L487.5,122.8 L484,120 L481,117.4 L478.5,115.6 L476,114 L473.5,112.8 L470.5,111.6 L467,110.8 L462,110.2 L455,109.5 L447,108.8 L440,108 L436,107.53Z"/></clipPath></defs><path d="M379,96.4 L387,94.8 L392,93.2 L395,91.6 L398,89.2 L401.4,85 L404,81 L406,78.3 L408.3,76 L410.3,74.9 L411.8,75.3 L413,76.6 L414,78.6 L414.7,81 L415.5,83.2 L416.3,85.5 L417.4,88.3 L418.6,91 L419.9,93.9 L421.3,96.5 L423.6,99.3 L426.3,101.5 L428.5,103 L430.7,104.2 L434,105.6 L437,106.6 L440,107.4 L445,108.4 L445,108.57 L440,108 L434,107.3 L428,106.2 L422,105 L417,103.4 L411,101 L406,99.2 L400,98.3 L395,97.8 L387,97.2 L379,96.6Z" fill="#cacafa"/><path d="M436,106.6 L440.5,105 L444.5,104.8 L447.9,104.4 L452,103.6 L456.5,101.8 L460,100 L462.9,98.4 L465.5,95 L468.3,90.8 L470.5,87 L473.3,80.5 L475,75.5 L476.2,71.5 L477.6,67 L479.2,63.6 L480.8,63.2 L481.9,66 L482.7,72 L483.4,79 L484.5,86 L485.6,92 L487,98.5 L488.5,104.5 L490,109.5 L492,115.2 L494.5,119.6 L497.1,122.8 L500,124.8 L503.9,126.3 L508,127.2 L515,127.6 L515,130.55 L510,130.5 L505.5,130.3 L501,129.8 L497.5,128.8 L494,127.3 L491,125.4 L487.5,122.8 L484,120 L481,117.4 L478.5,115.6 L476,114 L473.5,112.8 L470.5,111.6 L467,110.8 L462,110.2 L455,109.5 L447,108.8 L440,108 L436,107.53Z" fill="#cacafa"/><path d="M402,98.9 L404.2,98.9 L407.5,98.1 L409.2,96.9 L410.8,95.4 L412,93.6 L413,91.5 L413.9,89 L414.7,86.6 L415.3,84.2 L415.8,82.1 L416.6,80 L417.5,78.3 L418.5,77.2 L419.7,76.8 L420.8,77.2 L421.9,78.6 L422.9,81 L423.8,84 L424.8,87.6 L425.8,91.2 L426.9,94.6 L428.2,97.6 L429.8,100.2 L431.8,102.5 L434,104.4 L436.5,105.9 L439,106.9 L439,107.88 L434,107.3 L428,106.2 L422,105 L417,103.4 L411,101 L406,99.2 L402,98.6Z" fill="#f8786f"/><path d="M473,112.6 L475,113.6 L476.4,111 L477.4,106 L478.6,100 L480,93.5 L481.4,87 L482.3,83 L483.2,78.5 L484,74.6 L484.6,70 L485.2,63.5 L486.2,58.5 L487.3,55.2 L488.4,54 L489.5,55.2 L490.6,58.8 L491.3,64.2 L491.8,70 L492.2,77.5 L492.8,86 L493.6,93 L494.6,99.5 L496,104.5 L497.6,108.5 L498.8,113.5 L499.6,118.4 L500.6,121.8 L502.2,124.6 L503.5,126.6 L505.5,128.8 L508,130.1 L508,130.41 L505.5,130.3 L501,129.8 L497.5,128.8 L494,127.3 L491,125.4 L487.5,122.8 L484,120 L481,117.4 L478.5,115.6 L476,114 L473.5,112.8 L473,112.6Z" fill="#f8786f"/><g clip-path="url(#bclip)"><path d="M402,98.9 L404.2,98.9 L407.5,98.1 L409.2,96.9 L410.8,95.4 L412,93.6 L413,91.5 L413.9,89 L414.7,86.6 L415.3,84.2 L415.8,82.1 L416.6,80 L417.5,78.3 L418.5,77.2 L419.7,76.8 L420.8,77.2 L421.9,78.6 L422.9,81 L423.8,84 L424.8,87.6 L425.8,91.2 L426.9,94.6 L428.2,97.6 L429.8,100.2 L431.8,102.5 L434,104.4 L436.5,105.9 L439,106.9 L439,107.88 L434,107.3 L428,106.2 L422,105 L417,103.4 L411,101 L406,99.2 L402,98.6Z" fill="#dc5478"/><path d="M473,112.6 L475,113.6 L476.4,111 L477.4,106 L478.6,100 L480,93.5 L481.4,87 L482.3,83 L483.2,78.5 L484,74.6 L484.6,70 L485.2,63.5 L486.2,58.5 L487.3,55.2 L488.4,54 L489.5,55.2 L490.6,58.8 L491.3,64.2 L491.8,70 L492.2,77.5 L492.8,86 L493.6,93 L494.6,99.5 L496,104.5 L497.6,108.5 L498.8,113.5 L499.6,118.4 L500.6,121.8 L502.2,124.6 L503.5,126.6 L505.5,128.8 L508,130.1 L508,130.41 L505.5,130.3 L501,129.8 L497.5,128.8 L494,127.3 L491,125.4 L487.5,122.8 L484,120 L481,117.4 L478.5,115.6 L476,114 L473.5,112.8 L473,112.6Z" fill="#c8558c"/></g><g fill="none" stroke="#d6d6d6" stroke-width="0.55"><circle cx="377.98" cy="96.97" r="1.5"/><circle cx="381.62" cy="97.07" r="1.5"/><circle cx="383.3" cy="94.48" r="1.5"/><circle cx="385.16" cy="95.58" r="1.5"/><circle cx="387.35" cy="93.32" r="1.5"/><circle cx="390.45" cy="93.1" r="1.5"/><circle cx="392.52" cy="91.95" r="1.5"/><circle cx="394.71" cy="91.53" r="1.5"/><circle cx="396.67" cy="90.35" r="1.5"/><circle cx="398.25" cy="90.58" r="1.5"/><circle cx="398.47" cy="88.64" r="1.5"/><circle cx="400.44" cy="86.8" r="1.5"/><circle cx="402.67" cy="84.52" r="1.5"/><circle cx="402.58" cy="82.83" r="1.5"/><circle cx="404.36" cy="80.83" r="1.5"/><circle cx="405.36" cy="78.96" r="1.5"/><circle cx="404.91" cy="77.15" r="1.5"/><circle cx="406.08" cy="74.87" r="1.5"/><circle cx="406.71" cy="71.22" r="1.5"/><circle cx="407.99" cy="70.92" r="1.5"/><circle cx="409.45" cy="69" r="1.5"/><circle cx="408.49" cy="67.29" r="1.5"/><circle cx="410.83" cy="66.45" r="1.5"/><circle cx="410.9" cy="63.86" r="1.5"/><circle cx="411.49" cy="61.56" r="1.5"/><circle cx="413.78" cy="59.12" r="1.5"/><circle cx="415.27" cy="58.86" r="1.5"/><circle cx="417.19" cy="59.18" r="1.5"/><circle cx="420.34" cy="60.41" r="1.5"/><circle cx="421.87" cy="62.74" r="1.5"/><circle cx="422.96" cy="65.07" r="1.5"/><circle cx="423.74" cy="64.95" r="1.5"/><circle cx="424.25" cy="68.06" r="1.5"/><circle cx="424.42" cy="68.17" r="1.5"/><circle cx="425.24" cy="70.99" r="1.5"/><circle cx="425.51" cy="74.21" r="1.5"/><circle cx="424.23" cy="75.75" r="1.5"/><circle cx="424.77" cy="78.15" r="1.5"/><circle cx="427.14" cy="81.4" r="1.5"/><circle cx="426.11" cy="82.38" r="1.5"/><circle cx="426.52" cy="83.84" r="1.5"/><circle cx="428.29" cy="86.23" r="1.5"/><circle cx="428.07" cy="87.62" r="1.5"/><circle cx="428.18" cy="88.85" r="1.5"/><circle cx="430.5" cy="91.49" r="1.5"/><circle cx="430.77" cy="95.04" r="1.5"/><circle cx="431.27" cy="96.6" r="1.5"/><circle cx="431.07" cy="96.77" r="1.5"/><circle cx="433.54" cy="98.46" r="1.5"/><circle cx="433.44" cy="99.72" r="1.5"/><circle cx="433.8" cy="102.07" r="1.5"/><circle cx="436.87" cy="102.43" r="1.5"/><circle cx="439.16" cy="104.88" r="1.5"/><circle cx="441.13" cy="103.09" r="1.5"/><circle cx="445.4" cy="104.29" r="1.5"/><circle cx="447.8" cy="104.38" r="1.5"/><circle cx="448.43" cy="103.13" r="1.5"/><circle cx="450.54" cy="104.29" r="1.5"/><circle cx="453.36" cy="101.79" r="1.5"/><circle cx="454.62" cy="101.31" r="1.5"/><circle cx="456.95" cy="100.77" r="1.5"/><circle cx="458.29" cy="99.32" r="1.5"/><circle cx="460.58" cy="98.41" r="1.5"/><circle cx="463.95" cy="96.7" r="1.5"/><circle cx="463.73" cy="95.9" r="1.5"/><circle cx="465.51" cy="95.51" r="1.5"/><circle cx="466.98" cy="93.01" r="1.5"/><circle cx="466.95" cy="91.24" r="1.5"/><circle cx="469.63" cy="87.72" r="1.5"/><circle cx="471.05" cy="86.48" r="1.5"/><circle cx="472.39" cy="85.61" r="1.5"/><circle cx="472.33" cy="81.5" r="1.5"/><circle cx="473.99" cy="80.31" r="1.5"/><circle cx="473.44" cy="77.17" r="1.5"/><circle cx="474.86" cy="74.84" r="1.5"/><circle cx="475.17" cy="73.04" r="1.5"/><circle cx="476.01" cy="72.28" r="1.5"/><circle cx="475.3" cy="69.86" r="1.5"/><circle cx="476.96" cy="67.66" r="1.5"/><circle cx="476.5" cy="65.87" r="1.5"/><circle cx="477.61" cy="63.52" r="1.5"/><circle cx="478.02" cy="60.06" r="1.5"/><circle cx="477.14" cy="59.27" r="1.5"/><circle cx="477.85" cy="57.38" r="1.5"/><circle cx="478.31" cy="54.42" r="1.5"/><circle cx="479" cy="53.41" r="1.5"/><circle cx="479.01" cy="50.18" r="1.5"/><circle cx="478.24" cy="46.68" r="1.5"/><circle cx="479.2" cy="44.94" r="1.5"/><circle cx="479.6" cy="43.56" r="1.5"/><circle cx="480.19" cy="39.25" r="1.5"/><circle cx="482.17" cy="38.27" r="1.5"/><circle cx="481.04" cy="37.77" r="1.5"/><circle cx="482.73" cy="34.27" r="1.5"/><circle cx="483.12" cy="31.42" r="1.5"/><circle cx="483.8" cy="30.53" r="1.5"/><circle cx="484.83" cy="27.62" r="1.5"/><circle cx="486.46" cy="27.88" r="1.5"/><circle cx="489.36" cy="29.12" r="1.5"/><circle cx="488.21" cy="31.46" r="1.5"/><circle cx="491.04" cy="34.46" r="1.5"/><circle cx="491.57" cy="34.95" r="1.5"/><circle cx="490.97" cy="38.97" r="1.5"/><circle cx="491.61" cy="40.37" r="1.5"/><circle cx="492.66" cy="44.11" r="1.5"/><circle cx="491.21" cy="45.19" r="1.5"/><circle cx="492.45" cy="48.63" r="1.5"/><circle cx="493.05" cy="49.37" r="1.5"/><circle cx="492.23" cy="52.17" r="1.5"/><circle cx="492.46" cy="54.93" r="1.5"/><circle cx="494.33" cy="55.89" r="1.5"/><circle cx="494.25" cy="56.34" r="1.5"/><circle cx="492.58" cy="60.45" r="1.5"/><circle cx="493.53" cy="62.88" r="1.5"/><circle cx="494.46" cy="64.54" r="1.5"/><circle cx="495.03" cy="66.64" r="1.5"/><circle cx="494.47" cy="66.86" r="1.5"/><circle cx="493.35" cy="69.93" r="1.5"/><circle cx="495.15" cy="71.54" r="1.5"/><circle cx="494.07" cy="75.86" r="1.5"/><circle cx="493.97" cy="77.87" r="1.5"/><circle cx="495.37" cy="81.03" r="1.5"/><circle cx="494.4" cy="80.94" r="1.5"/><circle cx="494.96" cy="83.69" r="1.5"/><circle cx="494.82" cy="84.99" r="1.5"/><circle cx="494.99" cy="88.21" r="1.5"/><circle cx="494.96" cy="91.42" r="1.5"/><circle cx="495.44" cy="93.4" r="1.5"/><circle cx="495.89" cy="96.78" r="1.5"/><circle cx="496.22" cy="100.08" r="1.5"/><circle cx="496.81" cy="101.78" r="1.5"/><circle cx="497.58" cy="102.8" r="1.5"/><circle cx="497.75" cy="105.42" r="1.5"/><circle cx="499.04" cy="108.85" r="1.5"/><circle cx="498.2" cy="109.95" r="1.5"/><circle cx="498.3" cy="113.93" r="1.5"/><circle cx="499.3" cy="115.2" r="1.5"/><circle cx="501.43" cy="118.82" r="1.5"/><circle cx="501.23" cy="119.64" r="1.5"/><circle cx="502.89" cy="122.69" r="1.5"/><circle cx="504.14" cy="124.63" r="1.5"/><circle cx="506.82" cy="126.53" r="1.5"/><circle cx="507.21" cy="127.71" r="1.5"/><circle cx="509.67" cy="127.16" r="1.5"/><circle cx="513.09" cy="127.49" r="1.5"/><circle cx="515.8" cy="129.04" r="1.5"/><circle cx="515.94" cy="128.07" r="1.5"/><circle cx="518.52" cy="127.81" r="1.5"/><circle cx="521.71" cy="129.42" r="1.5"/><circle cx="521.63" cy="128.46" r="1.5"/><circle cx="524.45" cy="128.19" r="1.5"/><circle cx="526.01" cy="129.71" r="1.5"/><circle cx="528.97" cy="129.39" r="1.5"/><circle cx="531.47" cy="128.64" r="1.5"/><circle cx="534.75" cy="129.7" r="1.5"/><circle cx="535.32" cy="129.09" r="1.5"/><circle cx="537.26" cy="128.88" r="1.5"/><circle cx="539.24" cy="129.89" r="1.5"/></g><path d="M379,96.3 C380,96.12 383,95.7 385,95.2 C387,94.7 389.33,93.9 391,93.3 C392.67,92.7 393.87,92.13 395,91.6 C396.13,91.07 396.97,90.73 397.8,90.1 C398.63,89.47 399.32,88.62 400,87.8 C400.68,86.98 401.35,86.07 401.9,85.2 C402.45,84.33 402.83,83.53 403.3,82.6 C403.77,81.67 404.3,80.62 404.7,79.6 C405.1,78.58 405.37,77.6 405.7,76.5 C406.03,75.4 406.35,74.08 406.7,73 C407.05,71.92 407.45,70.93 407.8,70 C408.15,69.07 408.4,68.35 408.8,67.4 C409.2,66.45 409.73,65.2 410.2,64.3 C410.67,63.4 411.05,62.7 411.6,62 C412.15,61.3 412.7,60.58 413.5,60.1 C414.3,59.62 415.52,59.18 416.4,59.1 C417.28,59.02 418,59.15 418.8,59.6 C419.6,60.05 420.57,60.93 421.2,61.8 C421.83,62.67 422.15,63.67 422.6,64.8 C423.05,65.93 423.53,67.32 423.9,68.6 C424.27,69.88 424.52,71.1 424.8,72.5 C425.08,73.9 425.32,75.58 425.6,77 C425.88,78.42 426.2,79.75 426.5,81 C426.8,82.25 427.08,83.23 427.4,84.5 C427.72,85.77 428.03,87.27 428.4,88.6 C428.77,89.93 429.17,91.23 429.6,92.5 C430.03,93.77 430.5,95.07 431,96.2 C431.5,97.33 432,98.37 432.6,99.3 C433.2,100.23 433.83,101.12 434.6,101.8 C435.37,102.48 436.22,103 437.2,103.4 C438.18,103.8 439.28,104.03 440.5,104.2 C441.72,104.37 443.27,104.43 444.5,104.4 C445.73,104.37 446.65,104.2 447.9,104 C449.15,103.8 450.57,103.63 452,103.2 C453.43,102.77 455.17,102 456.5,101.4 C457.83,100.8 458.93,100.17 460,99.6 C461.07,99.03 461.98,98.85 462.9,98 C463.82,97.15 464.6,95.8 465.5,94.5 C466.4,93.2 467.47,91.58 468.3,90.2 C469.13,88.82 469.78,87.65 470.5,86.2 C471.22,84.75 471.98,82.93 472.6,81.5 C473.22,80.07 473.73,79.08 474.2,77.6 C474.67,76.12 475.03,74.53 475.4,72.6 C475.77,70.67 475.98,68.63 476.4,66 C476.82,63.37 477.35,60.48 477.9,56.8 C478.45,53.12 479.13,47.12 479.7,43.9 C480.27,40.68 480.83,39.18 481.3,37.5 C481.77,35.82 482,35.12 482.5,33.8 C483,32.48 483.68,30.52 484.3,29.6 C484.92,28.68 485.58,28.33 486.2,28.3 C486.82,28.27 487.4,28.48 488,29.4 C488.6,30.32 489.3,32.28 489.8,33.8 C490.3,35.32 490.6,36.5 491,38.5 C491.4,40.5 491.78,42.75 492.2,45.8 C492.62,48.85 493.13,53.12 493.5,56.8 C493.87,60.48 494.17,64.03 494.4,67.9 C494.63,71.77 494.67,75.98 494.9,80 C495.13,84.02 495.45,88.17 495.8,92 C496.15,95.83 496.55,100 497,103 C497.45,106 498.07,108.08 498.5,110 C498.93,111.92 499.13,112.92 499.6,114.5 C500.07,116.08 500.73,118.12 501.3,119.5 C501.87,120.88 502.3,121.82 503,122.8 C503.7,123.78 504.52,124.7 505.5,125.4 C506.48,126.1 507.32,126.52 508.9,127 C510.48,127.48 512.32,128 515,128.3 C517.68,128.6 520.67,128.65 525,128.8 C529.33,128.95 538.33,129.13 541,129.2" fill="none" stroke="#6e6e6e" stroke-width="1.0"/><path d="M402,98.9 C402.37,98.9 403.28,99.03 404.2,98.9 C405.12,98.77 406.67,98.43 407.5,98.1 C408.33,97.77 408.65,97.35 409.2,96.9 C409.75,96.45 410.33,95.95 410.8,95.4 C411.27,94.85 411.63,94.25 412,93.6 C412.37,92.95 412.68,92.27 413,91.5 C413.32,90.73 413.62,89.82 413.9,89 C414.18,88.18 414.47,87.4 414.7,86.6 C414.93,85.8 415.12,84.95 415.3,84.2 C415.48,83.45 415.58,82.8 415.8,82.1 C416.02,81.4 416.32,80.63 416.6,80 C416.88,79.37 417.18,78.77 417.5,78.3 C417.82,77.83 418.13,77.45 418.5,77.2 C418.87,76.95 419.32,76.8 419.7,76.8 C420.08,76.8 420.43,76.9 420.8,77.2 C421.17,77.5 421.55,77.97 421.9,78.6 C422.25,79.23 422.58,80.1 422.9,81 C423.22,81.9 423.48,82.9 423.8,84 C424.12,85.1 424.47,86.4 424.8,87.6 C425.13,88.8 425.45,90.03 425.8,91.2 C426.15,92.37 426.5,93.53 426.9,94.6 C427.3,95.67 427.72,96.67 428.2,97.6 C428.68,98.53 429.2,99.38 429.8,100.2 C430.4,101.02 431.1,101.8 431.8,102.5 C432.5,103.2 433.22,103.83 434,104.4 C434.78,104.97 435.67,105.48 436.5,105.9 C437.33,106.32 438.58,106.73 439,106.9" fill="none" stroke="#e04858" stroke-width="0.5"/><path d="M473,112.6 C473.33,112.77 474.43,113.87 475,113.6 C475.57,113.33 476,112.27 476.4,111 C476.8,109.73 477.03,107.83 477.4,106 C477.77,104.17 478.17,102.08 478.6,100 C479.03,97.92 479.53,95.67 480,93.5 C480.47,91.33 481.02,88.75 481.4,87 C481.78,85.25 482,84.42 482.3,83 C482.6,81.58 482.92,79.9 483.2,78.5 C483.48,77.1 483.77,76.02 484,74.6 C484.23,73.18 484.4,71.85 484.6,70 C484.8,68.15 484.93,65.42 485.2,63.5 C485.47,61.58 485.85,59.88 486.2,58.5 C486.55,57.12 486.93,55.95 487.3,55.2 C487.67,54.45 488.03,54 488.4,54 C488.77,54 489.13,54.4 489.5,55.2 C489.87,56 490.3,57.3 490.6,58.8 C490.9,60.3 491.1,62.33 491.3,64.2 C491.5,66.07 491.65,67.78 491.8,70 C491.95,72.22 492.03,74.83 492.2,77.5 C492.37,80.17 492.57,83.42 492.8,86 C493.03,88.58 493.3,90.75 493.6,93 C493.9,95.25 494.2,97.58 494.6,99.5 C495,101.42 495.5,103 496,104.5 C496.5,106 497.13,107 497.6,108.5 C498.07,110 498.47,111.85 498.8,113.5 C499.13,115.15 499.3,117.02 499.6,118.4 C499.9,119.78 500.17,120.77 500.6,121.8 C501.03,122.83 501.72,123.8 502.2,124.6 C502.68,125.4 502.95,125.9 503.5,126.6 C504.05,127.3 504.75,128.22 505.5,128.8 C506.25,129.38 507.58,129.88 508,130.1" fill="none" stroke="#e04858" stroke-width="0.5"/><path d="M379,96.6 C380.33,96.7 384.33,97 387,97.2 C389.67,97.4 392.83,97.62 395,97.8 C397.17,97.98 398.17,98.07 400,98.3 C401.83,98.53 404.17,98.75 406,99.2 C407.83,99.65 409.17,100.3 411,101 C412.83,101.7 415.17,102.73 417,103.4 C418.83,104.07 420.17,104.53 422,105 C423.83,105.47 426,105.82 428,106.2 C430,106.58 432,107 434,107.3 C436,107.6 437.83,107.75 440,108 C442.17,108.25 444.5,108.55 447,108.8 C449.5,109.05 452.5,109.27 455,109.5 C457.5,109.73 460,109.98 462,110.2 C464,110.42 465.58,110.57 467,110.8 C468.42,111.03 469.42,111.27 470.5,111.6 C471.58,111.93 472.58,112.4 473.5,112.8 C474.42,113.2 475.17,113.53 476,114 C476.83,114.47 477.67,115.03 478.5,115.6 C479.33,116.17 480.08,116.67 481,117.4 C481.92,118.13 482.92,119.1 484,120 C485.08,120.9 486.33,121.9 487.5,122.8 C488.67,123.7 489.92,124.65 491,125.4 C492.08,126.15 492.92,126.73 494,127.3 C495.08,127.87 496.33,128.38 497.5,128.8 C498.67,129.22 499.67,129.55 501,129.8 C502.33,130.05 504,130.18 505.5,130.3 C507,130.42 509.25,130.47 510,130.5" fill="none" stroke="#6a48c8" stroke-width="0.8"/><path d="M505.5,130.3 C506.25,130.33 507.58,130.45 510,130.5 C512.42,130.55 514.83,130.58 520,130.6 C525.17,130.62 537.5,130.6 541,130.6" fill="none" stroke="#909090" stroke-width="0.8"/><path d="M379,96.4 C380.33,96.13 384.83,95.33 387,94.8 C389.17,94.27 390.67,93.73 392,93.2 C393.33,92.67 394,92.27 395,91.6 C396,90.93 396.93,90.3 398,89.2 C399.07,88.1 400.4,86.37 401.4,85 C402.4,83.63 403.23,82.12 404,81 C404.77,79.88 405.28,79.13 406,78.3 C406.72,77.47 407.58,76.57 408.3,76 C409.02,75.43 409.72,75.02 410.3,74.9 C410.88,74.78 411.35,75.02 411.8,75.3 C412.25,75.58 412.63,76.05 413,76.6 C413.37,77.15 413.72,77.87 414,78.6 C414.28,79.33 414.45,80.23 414.7,81 C414.95,81.77 415.23,82.45 415.5,83.2 C415.77,83.95 415.98,84.65 416.3,85.5 C416.62,86.35 417.02,87.38 417.4,88.3 C417.78,89.22 418.18,90.07 418.6,91 C419.02,91.93 419.45,92.98 419.9,93.9 C420.35,94.82 420.68,95.6 421.3,96.5 C421.92,97.4 422.77,98.47 423.6,99.3 C424.43,100.13 425.48,100.88 426.3,101.5 C427.12,102.12 427.77,102.55 428.5,103 C429.23,103.45 429.78,103.77 430.7,104.2 C431.62,104.63 432.95,105.2 434,105.6 C435.05,106 436,106.3 437,106.6 C438,106.9 438.67,107.1 440,107.4 C441.33,107.7 444.17,108.23 445,108.4" fill="none" stroke="#5a4ad8" stroke-width="0.8"/><path d="M436,106.6 C436.75,106.33 439.08,105.3 440.5,105 C441.92,104.7 443.27,104.9 444.5,104.8 C445.73,104.7 446.65,104.6 447.9,104.4 C449.15,104.2 450.57,104.03 452,103.6 C453.43,103.17 455.17,102.4 456.5,101.8 C457.83,101.2 458.93,100.57 460,100 C461.07,99.43 461.98,99.23 462.9,98.4 C463.82,97.57 464.6,96.27 465.5,95 C466.4,93.73 467.47,92.13 468.3,90.8 C469.13,89.47 469.67,88.72 470.5,87 C471.33,85.28 472.55,82.42 473.3,80.5 C474.05,78.58 474.52,77 475,75.5 C475.48,74 475.77,72.92 476.2,71.5 C476.63,70.08 477.1,68.32 477.6,67 C478.1,65.68 478.67,64.23 479.2,63.6 C479.73,62.97 480.35,62.8 480.8,63.2 C481.25,63.6 481.58,64.53 481.9,66 C482.22,67.47 482.45,69.83 482.7,72 C482.95,74.17 483.1,76.67 483.4,79 C483.7,81.33 484.13,83.83 484.5,86 C484.87,88.17 485.18,89.92 485.6,92 C486.02,94.08 486.52,96.42 487,98.5 C487.48,100.58 488,102.67 488.5,104.5 C489,106.33 489.42,107.72 490,109.5 C490.58,111.28 491.25,113.52 492,115.2 C492.75,116.88 493.65,118.33 494.5,119.6 C495.35,120.87 496.18,121.93 497.1,122.8 C498.02,123.67 498.87,124.22 500,124.8 C501.13,125.38 502.57,125.9 503.9,126.3 C505.23,126.7 507.32,127.05 508,127.2" fill="none" stroke="#5a4ad8" stroke-width="0.8"/><path d="M505,128.6 L541,129.6" fill="none" stroke="#bdbdbd" stroke-width="1.6"/><text x="456.9" y="66.1" font-size="5.3" fill="#222" stroke="#222" stroke-width="0.1">Mn<tspan font-size="3.5" dy="-2.1">4+</tspan></text><line x1="465.4" y1="67.4" x2="475.6" y2="73.6" stroke="#333" stroke-width="0.4"/><path d="M475.6,73.6 L473.12,73.26 L474.15,71.55 Z" fill="#111"/><text x="508.7" y="64.6" font-size="5.3" fill="#222" stroke="#222" stroke-width="0.1">Mn<tspan font-size="3.5" dy="-2.1">3+</tspan></text><line x1="506.6" y1="65.4" x2="489.6" y2="72.4" stroke="#333" stroke-width="0.4"/><path d="M489.6,72.4 L491.35,70.6 L492.11,72.45 Z" fill="#111"/>
<rect x="67.6" y="170.5" width="172.9" height="132.3" fill="none" stroke="#777777" stroke-width="1.1"/><line x1="67.6" y1="236.4" x2="240.5" y2="236.4" stroke="#777777" stroke-width="1"/><line x1="223.4" y1="302.8" x2="223.4" y2="300.4" stroke="#555" stroke-width="0.7"/><line x1="188.8" y1="302.8" x2="188.8" y2="300.4" stroke="#555" stroke-width="0.7"/><line x1="154.2" y1="302.8" x2="154.2" y2="300.4" stroke="#555" stroke-width="0.7"/><line x1="119.6" y1="302.8" x2="119.6" y2="300.4" stroke="#555" stroke-width="0.7"/><line x1="85" y1="302.8" x2="85" y2="300.4" stroke="#555" stroke-width="0.7"/><line x1="206.1" y1="302.8" x2="206.1" y2="301.2" stroke="#555" stroke-width="0.7"/><line x1="171.5" y1="302.8" x2="171.5" y2="301.2" stroke="#555" stroke-width="0.7"/><line x1="136.9" y1="302.8" x2="136.9" y2="301.2" stroke="#555" stroke-width="0.7"/><line x1="102.3" y1="302.8" x2="102.3" y2="301.2" stroke="#555" stroke-width="0.7"/><text x="223.4" y="309.6" font-size="5.4" text-anchor="middle" font-weight="normal" fill="#4a4a4a" >880</text><text x="188.8" y="309.6" font-size="5.4" text-anchor="middle" font-weight="normal" fill="#4a4a4a" >890</text><text x="154.2" y="309.6" font-size="5.4" text-anchor="middle" font-weight="normal" fill="#4a4a4a" >900</text><text x="119.6" y="309.6" font-size="5.4" text-anchor="middle" font-weight="normal" fill="#4a4a4a" >910</text><text x="85" y="309.6" font-size="5.4" text-anchor="middle" font-weight="normal" fill="#4a4a4a" >920</text><text x="123" y="318" font-size="7.3" font-weight="bold" fill="#141414" stroke="#141414" stroke-width="0.28" textLength="42.7" lengthAdjust="spacingAndGlyphs">Binding Energy</text><text x="172.9" y="318" font-size="7.3" fill="#333">(</text><text x="175.4" y="318" font-size="7.3" font-weight="bold" fill="#141414" stroke="#141414" stroke-width="0.22" textLength="6.7" lengthAdjust="spacingAndGlyphs">eV</text><text x="183.5" y="318" font-size="7.3" fill="#333">)</text><text transform="translate(60.2,232.4) rotate(-90)" x="-20.25" font-size="7.4" font-weight="bold" fill="#1a1a1a" dy="0.35em" textLength="40.5" lengthAdjust="spacingAndGlyphs">Intensity (a.u)</text><text x="77.3" y="269.5" font-size="10.9" fill="#222" stroke="#222" stroke-width="0.06">(d)</text><text x="72.4" y="180" font-size="4.9" text-anchor="start" font-weight="normal" fill="#1e1e1e" stroke="#1e1e1e" stroke-width="0.06" >Co-Mn/CeO<tspan font-size="3.5" dy="1">2</tspan></text><text x="73.6" y="247" font-size="4.9" text-anchor="start" font-weight="normal" fill="#1e1e1e" stroke="#1e1e1e" stroke-width="0.06" >CeO<tspan font-size="3.5" dy="1">2</tspan></text><text x="221" y="181.2" font-size="5.1" text-anchor="start" font-weight="normal" fill="#1e1e1e" stroke="#1e1e1e" stroke-width="0.14" >Ce 3d</text><path d="M80.4,210.69 L80.73,210.69 L81.07,210.69 L81.4,210.69 L81.73,210.69 L82.06,210.69 L82.4,210.69 L82.73,210.69 L83.06,210.69 L83.39,210.69 L83.73,210.69 L84.06,210.69 L84.39,210.69 L84.72,210.68 L85.06,210.68 L85.39,210.68 L85.72,210.67 L86.06,210.66 L86.39,210.66 L86.72,210.65 L87.05,210.63 L87.39,210.62 L87.72,210.6 L88.05,210.57 L88.38,210.54 L88.72,210.5 L89.05,210.44 L89.38,210.37 L89.71,210.28 L90.05,210.17 L90.38,210.03 L90.71,209.86 L91.05,209.64 L91.38,209.38 L91.71,209.06 L92.04,208.69 L92.38,208.25 L92.71,207.75 L93.04,207.18 L93.37,206.56 L93.71,205.88 L94.04,205.16 L94.37,204.4 L94.7,203.64 L95.04,202.89 L95.37,202.16 L95.7,201.5 L96.04,200.93 L96.37,200.48 L96.7,200.16 L97.03,200 L97.37,200.02 L97.7,200.2 L98.03,200.54 L98.36,201.03 L98.7,201.62 L99.03,202.31 L99.36,203.06 L99.7,203.84 L100.03,204.63 L100.36,205.41 L100.69,206.16 L101.03,206.86 L101.36,207.52 L101.69,208.11 L102.02,208.64 L102.36,209.1 L102.69,209.5 L103.02,209.85 L103.35,210.13 L103.69,210.38 L104.02,210.58 L104.35,210.74 L104.69,210.87 L105.02,210.98 L105.35,211.07 L105.68,211.15 L106.02,211.21 L106.35,211.27 L106.68,211.31 L107.01,211.35 L107.35,211.39 L107.68,211.42 L108.01,211.45 L108.34,211.48 L108.68,211.51 L109.01,211.54 L109.34,211.56 L109.68,211.59 L110.01,211.61 L110.34,211.63 L110.67,211.66 L111.01,211.68 L111.34,211.7 L111.67,211.72 L112,211.74 L112.34,211.77 L112.67,211.79 L113,211.81 L113.33,211.83 L113.67,211.85 L114,211.87 L114,211.95 L113.67,211.93 L113.33,211.92 L113,211.9 L112.67,211.88 L112.34,211.87 L112,211.85 L111.67,211.83 L111.34,211.82 L111.01,211.8 L110.67,211.78 L110.34,211.77 L110.01,211.75 L109.68,211.73 L109.34,211.72 L109.01,211.7 L108.68,211.68 L108.34,211.67 L108.01,211.65 L107.68,211.63 L107.35,211.62 L107.01,211.6 L106.68,211.58 L106.35,211.57 L106.02,211.55 L105.68,211.53 L105.35,211.52 L105.02,211.5 L104.69,211.49 L104.35,211.47 L104.02,211.46 L103.69,211.45 L103.35,211.43 L103.02,211.42 L102.69,211.41 L102.36,211.39 L102.02,211.38 L101.69,211.37 L101.36,211.35 L101.03,211.34 L100.69,211.33 L100.36,211.31 L100.03,211.3 L99.7,211.29 L99.36,211.27 L99.03,211.26 L98.7,211.25 L98.36,211.23 L98.03,211.22 L97.7,211.21 L97.37,211.19 L97.03,211.18 L96.7,211.17 L96.37,211.15 L96.04,211.14 L95.7,211.13 L95.37,211.11 L95.04,211.1 L94.7,211.09 L94.37,211.07 L94.04,211.06 L93.71,211.05 L93.37,211.03 L93.04,211.02 L92.71,211.01 L92.38,211 L92.04,210.98 L91.71,210.97 L91.38,210.96 L91.05,210.94 L90.71,210.93 L90.38,210.92 L90.05,210.9 L89.71,210.9 L89.38,210.89 L89.05,210.89 L88.72,210.88 L88.38,210.88 L88.05,210.87 L87.72,210.87 L87.39,210.86 L87.05,210.86 L86.72,210.86 L86.39,210.85 L86.06,210.85 L85.72,210.84 L85.39,210.84 L85.06,210.83 L84.72,210.83 L84.39,210.82 L84.06,210.82 L83.73,210.82 L83.39,210.81 L83.06,210.81 L82.73,210.8 L82.4,210.8 L82.06,210.79 L81.73,210.79 L81.4,210.78 L81.07,210.78 L80.73,210.78 L80.4,210.77Z" fill="#ccf7f6"/><path d="M110.16,211.76 L110.49,211.77 L110.83,211.79 L111.16,211.81 L111.49,211.82 L111.82,211.84 L112.16,211.85 L112.49,211.87 L112.82,211.88 L113.16,211.9 L113.49,211.91 L113.82,211.92 L114.15,211.94 L114.49,211.95 L114.82,211.96 L115.15,211.97 L115.49,211.98 L115.82,211.99 L116.15,211.99 L116.48,211.99 L116.82,211.99 L117.15,211.98 L117.48,211.97 L117.82,211.95 L118.15,211.92 L118.48,211.89 L118.81,211.84 L119.15,211.79 L119.48,211.72 L119.81,211.65 L120.14,211.56 L120.48,211.46 L120.81,211.36 L121.14,211.23 L121.48,211.1 L121.81,210.96 L122.14,210.8 L122.47,210.64 L122.81,210.47 L123.14,210.3 L123.47,210.12 L123.81,209.94 L124.14,209.77 L124.47,209.59 L124.8,209.43 L125.14,209.28 L125.47,209.14 L125.8,209.02 L126.14,208.92 L126.47,208.84 L126.8,208.78 L127.13,208.74 L127.47,208.74 L127.8,208.75 L128.13,208.8 L128.47,208.86 L128.8,208.96 L129.13,209.08 L129.46,209.22 L129.8,209.38 L130.13,209.56 L130.46,209.76 L130.8,209.96 L131.13,210.18 L131.46,210.41 L131.79,210.64 L132.13,210.87 L132.46,211.1 L132.79,211.33 L133.13,211.55 L133.46,211.77 L133.79,211.97 L134.12,212.17 L134.46,212.35 L134.79,212.53 L135.12,212.7 L135.46,212.87 L135.79,213.02 L136.12,213.17 L136.45,213.3 L136.79,213.43 L137.12,213.54 L137.45,213.65 L137.78,213.75 L138.12,213.84 L138.45,213.92 L138.78,214 L139.12,214.08 L139.45,214.15 L139.78,214.21 L140.11,214.27 L140.45,214.33 L140.78,214.39 L141.11,214.45 L141.45,214.5 L141.78,214.55 L142.11,214.6 L142.44,214.66 L142.78,214.71 L143.11,214.77 L143.44,214.82 L143.78,214.88 L144.11,214.93 L144.44,214.98 L144.77,215.03 L145.11,215.09 L145.44,215.14 L145.44,215.14 L145.11,215.09 L144.77,215.04 L144.44,214.98 L144.11,214.93 L143.78,214.88 L143.44,214.83 L143.11,214.77 L142.78,214.72 L142.44,214.67 L142.11,214.62 L141.78,214.57 L141.45,214.52 L141.11,214.47 L140.78,214.43 L140.45,214.38 L140.11,214.33 L139.78,214.28 L139.45,214.24 L139.12,214.19 L138.78,214.14 L138.45,214.09 L138.12,214.05 L137.78,214 L137.45,213.95 L137.12,213.9 L136.79,213.86 L136.45,213.81 L136.12,213.76 L135.79,213.71 L135.46,213.67 L135.12,213.62 L134.79,213.58 L134.46,213.55 L134.12,213.52 L133.79,213.49 L133.46,213.46 L133.13,213.43 L132.79,213.4 L132.46,213.37 L132.13,213.34 L131.79,213.31 L131.46,213.28 L131.13,213.25 L130.8,213.22 L130.46,213.19 L130.13,213.16 L129.8,213.13 L129.46,213.1 L129.13,213.07 L128.8,213.04 L128.47,213.01 L128.13,212.98 L127.8,212.95 L127.47,212.92 L127.13,212.89 L126.8,212.86 L126.47,212.83 L126.14,212.8 L125.8,212.77 L125.47,212.74 L125.14,212.71 L124.8,212.69 L124.47,212.66 L124.14,212.64 L123.81,212.62 L123.47,212.59 L123.14,212.57 L122.81,212.55 L122.47,212.52 L122.14,212.5 L121.81,212.48 L121.48,212.45 L121.14,212.43 L120.81,212.41 L120.48,212.38 L120.14,212.36 L119.81,212.34 L119.48,212.31 L119.15,212.29 L118.81,212.27 L118.48,212.24 L118.15,212.22 L117.82,212.2 L117.48,212.17 L117.15,212.15 L116.82,212.13 L116.48,212.1 L116.15,212.08 L115.82,212.06 L115.49,212.03 L115.15,212.01 L114.82,211.99 L114.49,211.97 L114.15,211.96 L113.82,211.94 L113.49,211.92 L113.16,211.91 L112.82,211.89 L112.49,211.87 L112.16,211.86 L111.82,211.84 L111.49,211.82 L111.16,211.81 L110.83,211.79 L110.49,211.77 L110.16,211.76Z" fill="#ccf7f6"/><path d="M145.44,215.14 L145.77,215.19 L146.1,215.24 L146.43,215.29 L146.75,215.33 L147.08,215.36 L147.41,215.39 L147.74,215.39 L148.07,215.37 L148.4,215.3 L148.73,215.18 L149.06,214.99 L149.38,214.71 L149.71,214.32 L150.04,213.82 L150.37,213.2 L150.7,212.48 L151.03,211.69 L151.36,210.86 L151.69,210.07 L152.01,209.37 L152.34,208.84 L152.67,208.51 L153,208.44 L153.33,208.64 L153.66,209.08 L153.99,209.74 L154.31,210.56 L154.64,211.47 L154.97,212.42 L155.3,213.34 L155.63,214.18 L155.96,214.92 L156.29,215.54 L156.62,216.04 L156.94,216.44 L157.27,216.74 L157.6,216.97 L157.93,217.14 L158.26,217.27 L158.59,217.38 L158.92,217.46 L159.25,217.54 L159.57,217.6 L159.9,217.66 L160.23,217.72 L160.56,217.78 L160.56,217.78 L160.23,217.72 L159.9,217.67 L159.57,217.61 L159.25,217.56 L158.92,217.5 L158.59,217.44 L158.26,217.39 L157.93,217.33 L157.6,217.27 L157.27,217.22 L156.94,217.16 L156.62,217.11 L156.29,217.05 L155.96,216.99 L155.63,216.93 L155.3,216.87 L154.97,216.81 L154.64,216.75 L154.31,216.69 L153.99,216.63 L153.66,216.56 L153.33,216.5 L153,216.44 L152.67,216.38 L152.34,216.32 L152.01,216.26 L151.69,216.2 L151.36,216.14 L151.03,216.08 L150.7,216.02 L150.37,215.95 L150.04,215.89 L149.71,215.83 L149.38,215.77 L149.06,215.71 L148.73,215.66 L148.4,215.61 L148.07,215.55 L147.74,215.5 L147.41,215.45 L147.08,215.4 L146.75,215.35 L146.43,215.3 L146.1,215.24 L145.77,215.19 L145.44,215.14Z" fill="#ccf7f6"/><path d="M147.92,215.53 L148.25,215.58 L148.58,215.63 L148.91,215.67 L149.24,215.73 L149.57,215.78 L149.9,215.83 L150.22,215.87 L150.55,215.91 L150.88,215.93 L151.21,215.94 L151.54,215.94 L151.87,215.91 L152.2,215.85 L152.53,215.75 L152.86,215.61 L153.19,215.42 L153.52,215.16 L153.85,214.82 L154.17,214.4 L154.5,213.89 L154.83,213.29 L155.16,212.57 L155.49,211.76 L155.82,210.84 L156.15,209.83 L156.48,208.74 L156.81,207.58 L157.14,206.39 L157.47,205.2 L157.8,204.03 L158.12,202.93 L158.45,201.93 L158.78,201.13 L159.11,200.82 L159.44,200.51 L159.77,200.2 L160.1,199.89 L160.43,200.09 L160.76,200.5 L161.09,200.91 L161.42,201.51 L161.75,202.49 L162.08,203.61 L162.4,204.82 L162.73,206.1 L163.06,207.41 L163.39,208.71 L163.72,209.97 L164.05,211.17 L164.38,212.3 L164.71,213.32 L165.04,214.25 L165.37,215.08 L165.7,215.8 L166.03,216.42 L166.35,216.95 L166.68,217.4 L167.01,217.77 L167.34,218.08 L167.67,218.33 L168,218.54 L168.33,218.71 L168.66,218.86 L168.99,218.98 L169.32,219.08 L169.65,219.16 L169.98,219.24 L170.3,219.3 L170.63,219.36 L170.96,219.42 L171.29,219.47 L171.62,219.52 L171.95,219.56 L172.28,219.61 L172.28,219.61 L171.95,219.57 L171.62,219.52 L171.29,219.48 L170.96,219.43 L170.63,219.39 L170.3,219.34 L169.98,219.3 L169.65,219.24 L169.32,219.19 L168.99,219.14 L168.66,219.09 L168.33,219.04 L168,218.99 L167.67,218.94 L167.34,218.88 L167.01,218.83 L166.68,218.78 L166.35,218.73 L166.03,218.68 L165.7,218.63 L165.37,218.58 L165.04,218.52 L164.71,218.47 L164.38,218.42 L164.05,218.37 L163.72,218.32 L163.39,218.26 L163.06,218.21 L162.73,218.15 L162.4,218.1 L162.08,218.04 L161.75,217.98 L161.42,217.93 L161.09,217.87 L160.76,217.81 L160.43,217.76 L160.1,217.7 L159.77,217.65 L159.44,217.59 L159.11,217.53 L158.78,217.48 L158.45,217.42 L158.12,217.36 L157.8,217.31 L157.47,217.25 L157.14,217.19 L156.81,217.14 L156.48,217.08 L156.15,217.03 L155.82,216.97 L155.49,216.91 L155.16,216.84 L154.83,216.78 L154.5,216.72 L154.17,216.66 L153.85,216.6 L153.52,216.54 L153.19,216.48 L152.86,216.42 L152.53,216.36 L152.2,216.29 L151.87,216.23 L151.54,216.17 L151.21,216.11 L150.88,216.05 L150.55,215.99 L150.22,215.93 L149.9,215.87 L149.57,215.81 L149.24,215.74 L148.91,215.69 L148.58,215.63 L148.25,215.58 L147.92,215.53Z" fill="#ccf7f6"/><path d="M174.56,219.93 L174.89,219.97 L175.23,220.02 L175.56,220.06 L175.89,220.11 L176.22,220.15 L176.56,220.19 L176.89,220.24 L177.22,220.28 L177.56,220.32 L177.89,220.36 L178.22,220.4 L178.55,220.44 L178.89,220.48 L179.22,220.51 L179.55,220.54 L179.89,220.57 L180.22,220.59 L180.55,220.61 L180.88,220.62 L181.22,220.62 L181.55,220.62 L181.88,220.6 L182.22,220.58 L182.55,220.54 L182.88,220.49 L183.21,220.42 L183.55,220.34 L183.88,220.24 L184.21,220.12 L184.54,219.99 L184.88,219.83 L185.21,219.66 L185.54,219.46 L185.88,219.25 L186.21,219.02 L186.54,218.77 L186.87,218.51 L187.21,218.24 L187.54,217.95 L187.87,217.66 L188.21,217.38 L188.54,217.1 L188.87,216.82 L189.2,216.56 L189.54,216.32 L189.87,216.2 L190.2,216.09 L190.54,215.97 L190.87,215.86 L191.2,215.74 L191.53,215.63 L191.87,215.51 L192.2,215.45 L192.53,215.53 L192.87,215.64 L193.2,215.8 L193.53,216 L193.86,216.24 L194.2,216.51 L194.53,216.81 L194.86,217.14 L195.2,217.49 L195.53,217.86 L195.86,218.24 L196.19,218.62 L196.53,219.01 L196.86,219.4 L197.19,219.78 L197.53,220.16 L197.86,220.53 L198.19,220.88 L198.52,221.21 L198.86,221.53 L199.19,221.83 L199.52,222.11 L199.86,222.37 L200.19,222.61 L200.52,222.83 L200.85,223.04 L201.19,223.22 L201.52,223.39 L201.85,223.55 L202.18,223.69 L202.52,223.82 L202.85,223.94 L203.18,224.05 L203.52,224.15 L203.85,224.25 L204.18,224.34 L204.51,224.42 L204.85,224.5 L205.18,224.57 L205.51,224.65 L205.85,224.71 L206.18,224.78 L206.51,224.85 L206.84,224.91 L207.18,224.97 L207.51,225.04 L207.84,225.1 L208.18,225.16 L208.51,225.22 L208.84,225.28 L209.17,225.34 L209.51,225.4 L209.84,225.46 L209.84,225.46 L209.51,225.4 L209.17,225.34 L208.84,225.28 L208.51,225.22 L208.18,225.16 L207.84,225.11 L207.51,225.05 L207.18,224.99 L206.84,224.93 L206.51,224.87 L206.18,224.81 L205.85,224.75 L205.51,224.69 L205.18,224.63 L204.85,224.57 L204.51,224.52 L204.18,224.46 L203.85,224.4 L203.52,224.34 L203.18,224.28 L202.85,224.22 L202.52,224.17 L202.18,224.11 L201.85,224.05 L201.52,223.99 L201.19,223.93 L200.85,223.87 L200.52,223.82 L200.19,223.76 L199.86,223.7 L199.52,223.64 L199.19,223.58 L198.86,223.52 L198.52,223.47 L198.19,223.41 L197.86,223.35 L197.53,223.29 L197.19,223.23 L196.86,223.18 L196.53,223.13 L196.19,223.07 L195.86,223.02 L195.53,222.97 L195.2,222.92 L194.86,222.87 L194.53,222.82 L194.2,222.76 L193.86,222.71 L193.53,222.66 L193.2,222.61 L192.87,222.56 L192.53,222.51 L192.2,222.45 L191.87,222.4 L191.53,222.35 L191.2,222.3 L190.87,222.25 L190.54,222.19 L190.2,222.14 L189.87,222.09 L189.54,222.04 L189.2,221.99 L188.87,221.94 L188.54,221.88 L188.21,221.83 L187.87,221.78 L187.54,221.74 L187.21,221.69 L186.87,221.64 L186.54,221.6 L186.21,221.55 L185.88,221.5 L185.54,221.46 L185.21,221.41 L184.88,221.36 L184.54,221.32 L184.21,221.27 L183.88,221.22 L183.55,221.18 L183.21,221.13 L182.88,221.08 L182.55,221.04 L182.22,220.99 L181.88,220.94 L181.55,220.9 L181.22,220.85 L180.88,220.8 L180.55,220.76 L180.22,220.71 L179.89,220.66 L179.55,220.62 L179.22,220.57 L178.89,220.52 L178.55,220.48 L178.22,220.43 L177.89,220.38 L177.56,220.34 L177.22,220.29 L176.89,220.25 L176.56,220.2 L176.22,220.16 L175.89,220.11 L175.56,220.06 L175.23,220.02 L174.89,219.97 L174.56,219.93Z" fill="#ccf7f6"/><path d="M197.8,223.22 L198.13,223.28 L198.47,223.33 L198.8,223.38 L199.13,223.44 L199.46,223.49 L199.8,223.54 L200.13,223.59 L200.46,223.64 L200.79,223.7 L201.13,223.75 L201.46,223.8 L201.79,223.84 L202.12,223.89 L202.46,223.94 L202.79,223.99 L203.12,224.03 L203.46,224.07 L203.79,224.12 L204.12,224.15 L204.45,224.19 L204.79,224.22 L205.12,224.24 L205.45,224.26 L205.78,224.27 L206.12,224.26 L206.45,224.24 L206.78,224.19 L207.11,224.12 L207.45,224.01 L207.78,223.86 L208.11,223.66 L208.45,223.4 L208.78,223.08 L209.11,222.68 L209.44,222.2 L209.78,221.63 L210.11,220.97 L210.44,220.22 L210.77,219.39 L211.11,218.48 L211.44,217.52 L211.77,216.51 L212.1,215.49 L212.44,214.48 L212.77,213.52 L213.1,212.64 L213.44,211.88 L213.77,211.28 L214.1,210.95 L214.43,210.71 L214.77,210.76 L215.1,211.06 L215.43,211.58 L215.76,212.29 L216.1,213.16 L216.43,214.16 L216.76,215.24 L217.1,216.37 L217.43,217.51 L217.76,218.63 L218.09,219.71 L218.43,220.74 L218.76,221.69 L219.09,222.55 L219.42,223.33 L219.76,224.01 L220.09,224.61 L220.42,225.13 L220.75,225.57 L221.09,225.95 L221.42,226.26 L221.75,226.53 L222.09,226.75 L222.42,226.93 L222.75,227.08 L223.08,227.21 L223.42,227.32 L223.75,227.41 L224.08,227.5 L224.41,227.58 L224.75,227.65 L225.08,227.72 L225.41,227.78 L225.74,227.84 L226.08,227.9 L226.41,227.96 L226.74,228.02 L227.08,228.07 L227.41,228.13 L227.74,228.18 L228.07,228.23 L228.41,228.29 L228.74,228.34 L229.07,228.39 L229.4,228.44 L229.74,228.49 L230.07,228.54 L230.4,228.59 L230.73,228.64 L231.07,228.68 L231.4,228.71 L231.4,228.83 L231.07,228.8 L230.73,228.76 L230.4,228.72 L230.07,228.68 L229.74,228.63 L229.4,228.59 L229.07,228.54 L228.74,228.5 L228.41,228.45 L228.07,228.41 L227.74,228.37 L227.41,228.32 L227.08,228.28 L226.74,228.23 L226.41,228.19 L226.08,228.14 L225.74,228.1 L225.41,228.05 L225.08,228.01 L224.75,227.97 L224.41,227.92 L224.08,227.88 L223.75,227.83 L223.42,227.79 L223.08,227.74 L222.75,227.7 L222.42,227.66 L222.09,227.61 L221.75,227.56 L221.42,227.5 L221.09,227.44 L220.75,227.38 L220.42,227.32 L220.09,227.27 L219.76,227.21 L219.42,227.15 L219.09,227.09 L218.76,227.03 L218.43,226.97 L218.09,226.92 L217.76,226.86 L217.43,226.8 L217.1,226.74 L216.76,226.68 L216.43,226.63 L216.1,226.57 L215.76,226.51 L215.43,226.45 L215.1,226.39 L214.77,226.33 L214.43,226.28 L214.1,226.22 L213.77,226.16 L213.44,226.1 L213.1,226.04 L212.77,225.98 L212.44,225.92 L212.1,225.86 L211.77,225.8 L211.44,225.74 L211.11,225.69 L210.77,225.63 L210.44,225.57 L210.11,225.51 L209.78,225.45 L209.44,225.39 L209.11,225.33 L208.78,225.27 L208.45,225.21 L208.11,225.15 L207.78,225.09 L207.45,225.04 L207.11,224.98 L206.78,224.92 L206.45,224.86 L206.12,224.8 L205.78,224.74 L205.45,224.68 L205.12,224.62 L204.79,224.56 L204.45,224.5 L204.12,224.45 L203.79,224.39 L203.46,224.33 L203.12,224.27 L202.79,224.21 L202.46,224.16 L202.12,224.1 L201.79,224.04 L201.46,223.98 L201.13,223.92 L200.79,223.86 L200.46,223.81 L200.13,223.75 L199.8,223.69 L199.46,223.63 L199.13,223.57 L198.8,223.51 L198.47,223.46 L198.13,223.4 L197.8,223.34Z" fill="#ccf7f6"/><path d="M80.4,210.69 L80.73,210.69 L81.07,210.69 L81.4,210.69 L81.73,210.69 L82.06,210.69 L82.4,210.69 L82.73,210.69 L83.06,210.69 L83.39,210.69 L83.73,210.69 L84.06,210.69 L84.39,210.69 L84.72,210.68 L85.06,210.68 L85.39,210.68 L85.72,210.67 L86.06,210.66 L86.39,210.66 L86.72,210.65 L87.05,210.63 L87.39,210.62 L87.72,210.6 L88.05,210.57 L88.38,210.54 L88.72,210.5 L89.05,210.44 L89.38,210.37 L89.71,210.28 L90.05,210.17 L90.38,210.03 L90.71,209.86 L91.05,209.64 L91.38,209.38 L91.71,209.06 L92.04,208.69 L92.38,208.25 L92.71,207.75 L93.04,207.18 L93.37,206.56 L93.71,205.88 L94.04,205.16 L94.37,204.4 L94.7,203.64 L95.04,202.89 L95.37,202.16 L95.7,201.5 L96.04,200.93 L96.37,200.48 L96.7,200.16 L97.03,200 L97.37,200.02 L97.7,200.2 L98.03,200.54 L98.36,201.03 L98.7,201.62 L99.03,202.31 L99.36,203.06 L99.7,203.84 L100.03,204.63 L100.36,205.41 L100.69,206.16 L101.03,206.86 L101.36,207.52 L101.69,208.11 L102.02,208.64 L102.36,209.1 L102.69,209.5 L103.02,209.85 L103.35,210.13 L103.69,210.38 L104.02,210.58 L104.35,210.74 L104.69,210.87 L105.02,210.98 L105.35,211.07 L105.68,211.15 L106.02,211.21 L106.35,211.27 L106.68,211.31 L107.01,211.35 L107.35,211.39 L107.68,211.42 L108.01,211.45 L108.34,211.48 L108.68,211.51 L109.01,211.54 L109.34,211.56 L109.68,211.59 L110.01,211.61 L110.34,211.63 L110.67,211.66 L111.01,211.68 L111.34,211.7 L111.67,211.72 L112,211.74 L112.34,211.77 L112.67,211.79 L113,211.81 L113.33,211.83 L113.67,211.85 L114,211.87" fill="none" stroke="#2f9a9a" stroke-width="0.45"/><path d="M110.16,211.76 L110.49,211.77 L110.83,211.79 L111.16,211.81 L111.49,211.82 L111.82,211.84 L112.16,211.85 L112.49,211.87 L112.82,211.88 L113.16,211.9 L113.49,211.91 L113.82,211.92 L114.15,211.94 L114.49,211.95 L114.82,211.96 L115.15,211.97 L115.49,211.98 L115.82,211.99 L116.15,211.99 L116.48,211.99 L116.82,211.99 L117.15,211.98 L117.48,211.97 L117.82,211.95 L118.15,211.92 L118.48,211.89 L118.81,211.84 L119.15,211.79 L119.48,211.72 L119.81,211.65 L120.14,211.56 L120.48,211.46 L120.81,211.36 L121.14,211.23 L121.48,211.1 L121.81,210.96 L122.14,210.8 L122.47,210.64 L122.81,210.47 L123.14,210.3 L123.47,210.12 L123.81,209.94 L124.14,209.77 L124.47,209.59 L124.8,209.43 L125.14,209.28 L125.47,209.14 L125.8,209.02 L126.14,208.92 L126.47,208.84 L126.8,208.78 L127.13,208.74 L127.47,208.74 L127.8,208.75 L128.13,208.8 L128.47,208.86 L128.8,208.96 L129.13,209.08 L129.46,209.22 L129.8,209.38 L130.13,209.56 L130.46,209.76 L130.8,209.96 L131.13,210.18 L131.46,210.41 L131.79,210.64 L132.13,210.87 L132.46,211.1 L132.79,211.33 L133.13,211.55 L133.46,211.77 L133.79,211.97 L134.12,212.17 L134.46,212.35 L134.79,212.53 L135.12,212.7 L135.46,212.87 L135.79,213.02 L136.12,213.17 L136.45,213.3 L136.79,213.43 L137.12,213.54 L137.45,213.65 L137.78,213.75 L138.12,213.84 L138.45,213.92 L138.78,214 L139.12,214.08 L139.45,214.15 L139.78,214.21 L140.11,214.27 L140.45,214.33 L140.78,214.39 L141.11,214.45 L141.45,214.5 L141.78,214.55 L142.11,214.6 L142.44,214.66 L142.78,214.71 L143.11,214.77 L143.44,214.82 L143.78,214.88 L144.11,214.93 L144.44,214.98 L144.77,215.03 L145.11,215.09 L145.44,215.14" fill="none" stroke="#2f9a9a" stroke-width="0.45"/><path d="M145.44,215.14 L145.77,215.19 L146.1,215.24 L146.43,215.29 L146.75,215.33 L147.08,215.36 L147.41,215.39 L147.74,215.39 L148.07,215.37 L148.4,215.3 L148.73,215.18 L149.06,214.99 L149.38,214.71 L149.71,214.32 L150.04,213.82 L150.37,213.2 L150.7,212.48 L151.03,211.69 L151.36,210.86 L151.69,210.07 L152.01,209.37 L152.34,208.84 L152.67,208.51 L153,208.44 L153.33,208.64 L153.66,209.08 L153.99,209.74 L154.31,210.56 L154.64,211.47 L154.97,212.42 L155.3,213.34 L155.63,214.18 L155.96,214.92 L156.29,215.54 L156.62,216.04 L156.94,216.44 L157.27,216.74 L157.6,216.97 L157.93,217.14 L158.26,217.27 L158.59,217.38 L158.92,217.46 L159.25,217.54 L159.57,217.6 L159.9,217.66 L160.23,217.72 L160.56,217.78" fill="none" stroke="#2f9a9a" stroke-width="0.45"/><path d="M147.92,215.53 L148.25,215.58 L148.58,215.63 L148.91,215.67 L149.24,215.73 L149.57,215.78 L149.9,215.83 L150.22,215.87 L150.55,215.91 L150.88,215.93 L151.21,215.94 L151.54,215.94 L151.87,215.91 L152.2,215.85 L152.53,215.75 L152.86,215.61 L153.19,215.42 L153.52,215.16 L153.85,214.82 L154.17,214.4 L154.5,213.89 L154.83,213.29 L155.16,212.57 L155.49,211.76 L155.82,210.84 L156.15,209.83 L156.48,208.74 L156.81,207.58 L157.14,206.39 L157.47,205.2 L157.8,204.03 L158.12,202.93 L158.45,201.93 L158.78,201.13 L159.11,200.82 L159.44,200.51 L159.77,200.2 L160.1,199.89 L160.43,200.09 L160.76,200.5 L161.09,200.91 L161.42,201.51 L161.75,202.49 L162.08,203.61 L162.4,204.82 L162.73,206.1 L163.06,207.41 L163.39,208.71 L163.72,209.97 L164.05,211.17 L164.38,212.3 L164.71,213.32 L165.04,214.25 L165.37,215.08 L165.7,215.8 L166.03,216.42 L166.35,216.95 L166.68,217.4 L167.01,217.77 L167.34,218.08 L167.67,218.33 L168,218.54 L168.33,218.71 L168.66,218.86 L168.99,218.98 L169.32,219.08 L169.65,219.16 L169.98,219.24 L170.3,219.3 L170.63,219.36 L170.96,219.42 L171.29,219.47 L171.62,219.52 L171.95,219.56 L172.28,219.61" fill="none" stroke="#2f9a9a" stroke-width="0.45"/><path d="M174.56,219.93 L174.89,219.97 L175.23,220.02 L175.56,220.06 L175.89,220.11 L176.22,220.15 L176.56,220.19 L176.89,220.24 L177.22,220.28 L177.56,220.32 L177.89,220.36 L178.22,220.4 L178.55,220.44 L178.89,220.48 L179.22,220.51 L179.55,220.54 L179.89,220.57 L180.22,220.59 L180.55,220.61 L180.88,220.62 L181.22,220.62 L181.55,220.62 L181.88,220.6 L182.22,220.58 L182.55,220.54 L182.88,220.49 L183.21,220.42 L183.55,220.34 L183.88,220.24 L184.21,220.12 L184.54,219.99 L184.88,219.83 L185.21,219.66 L185.54,219.46 L185.88,219.25 L186.21,219.02 L186.54,218.77 L186.87,218.51 L187.21,218.24 L187.54,217.95 L187.87,217.66 L188.21,217.38 L188.54,217.1 L188.87,216.82 L189.2,216.56 L189.54,216.32 L189.87,216.2 L190.2,216.09 L190.54,215.97 L190.87,215.86 L191.2,215.74 L191.53,215.63 L191.87,215.51 L192.2,215.45 L192.53,215.53 L192.87,215.64 L193.2,215.8 L193.53,216 L193.86,216.24 L194.2,216.51 L194.53,216.81 L194.86,217.14 L195.2,217.49 L195.53,217.86 L195.86,218.24 L196.19,218.62 L196.53,219.01 L196.86,219.4 L197.19,219.78 L197.53,220.16 L197.86,220.53 L198.19,220.88 L198.52,221.21 L198.86,221.53 L199.19,221.83 L199.52,222.11 L199.86,222.37 L200.19,222.61 L200.52,222.83 L200.85,223.04 L201.19,223.22 L201.52,223.39 L201.85,223.55 L202.18,223.69 L202.52,223.82 L202.85,223.94 L203.18,224.05 L203.52,224.15 L203.85,224.25 L204.18,224.34 L204.51,224.42 L204.85,224.5 L205.18,224.57 L205.51,224.65 L205.85,224.71 L206.18,224.78 L206.51,224.85 L206.84,224.91 L207.18,224.97 L207.51,225.04 L207.84,225.1 L208.18,225.16 L208.51,225.22 L208.84,225.28 L209.17,225.34 L209.51,225.4 L209.84,225.46" fill="none" stroke="#2f9a9a" stroke-width="0.45"/><path d="M197.8,223.22 L198.13,223.28 L198.47,223.33 L198.8,223.38 L199.13,223.44 L199.46,223.49 L199.8,223.54 L200.13,223.59 L200.46,223.64 L200.79,223.7 L201.13,223.75 L201.46,223.8 L201.79,223.84 L202.12,223.89 L202.46,223.94 L202.79,223.99 L203.12,224.03 L203.46,224.07 L203.79,224.12 L204.12,224.15 L204.45,224.19 L204.79,224.22 L205.12,224.24 L205.45,224.26 L205.78,224.27 L206.12,224.26 L206.45,224.24 L206.78,224.19 L207.11,224.12 L207.45,224.01 L207.78,223.86 L208.11,223.66 L208.45,223.4 L208.78,223.08 L209.11,222.68 L209.44,222.2 L209.78,221.63 L210.11,220.97 L210.44,220.22 L210.77,219.39 L211.11,218.48 L211.44,217.52 L211.77,216.51 L212.1,215.49 L212.44,214.48 L212.77,213.52 L213.1,212.64 L213.44,211.88 L213.77,211.28 L214.1,210.95 L214.43,210.71 L214.77,210.76 L215.1,211.06 L215.43,211.58 L215.76,212.29 L216.1,213.16 L216.43,214.16 L216.76,215.24 L217.1,216.37 L217.43,217.51 L217.76,218.63 L218.09,219.71 L218.43,220.74 L218.76,221.69 L219.09,222.55 L219.42,223.33 L219.76,224.01 L220.09,224.61 L220.42,225.13 L220.75,225.57 L221.09,225.95 L221.42,226.26 L221.75,226.53 L222.09,226.75 L222.42,226.93 L222.75,227.08 L223.08,227.21 L223.42,227.32 L223.75,227.41 L224.08,227.5 L224.41,227.58 L224.75,227.65 L225.08,227.72 L225.41,227.78 L225.74,227.84 L226.08,227.9 L226.41,227.96 L226.74,228.02 L227.08,228.07 L227.41,228.13 L227.74,228.18 L228.07,228.23 L228.41,228.29 L228.74,228.34 L229.07,228.39 L229.4,228.44 L229.74,228.49 L230.07,228.54 L230.4,228.59 L230.73,228.64 L231.07,228.68 L231.4,228.71" fill="none" stroke="#2f9a9a" stroke-width="0.45"/><path d="M82.8,279.89 L83.13,279.89 L83.47,279.88 L83.8,279.87 L84.13,279.87 L84.46,279.86 L84.8,279.85 L85.13,279.84 L85.46,279.82 L85.79,279.81 L86.13,279.79 L86.46,279.77 L86.79,279.75 L87.12,279.73 L87.46,279.7 L87.79,279.67 L88.12,279.63 L88.45,279.59 L88.79,279.53 L89.12,279.47 L89.45,279.39 L89.78,279.3 L90.12,279.19 L90.45,279.05 L90.78,278.88 L91.11,278.67 L91.45,278.39 L91.78,278.06 L92.11,277.64 L92.44,277.14 L92.78,276.55 L93.11,275.85 L93.44,275.06 L93.77,274.17 L94.11,273.2 L94.44,272.17 L94.77,271.1 L95.1,270.05 L95.44,269.08 L95.77,268.25 L96.1,267.64 L96.43,267.33 L96.77,267.35 L97.1,267.7 L97.43,268.35 L97.76,269.22 L98.1,270.23 L98.43,271.32 L98.76,272.42 L99.09,273.5 L99.43,274.51 L99.76,275.44 L100.09,276.27 L100.42,277.01 L100.76,277.64 L101.09,278.18 L101.42,278.63 L101.75,279.01 L102.09,279.32 L102.42,279.58 L102.75,279.79 L103.08,279.96 L103.42,280.11 L103.75,280.23 L104.08,280.34 L104.41,280.43 L104.75,280.51 L105.08,280.58 L105.41,280.66 L105.74,280.73 L106.08,280.79 L106.41,280.86 L106.74,280.92 L107.07,280.97 L107.41,281.03 L107.74,281.08 L108.07,281.13 L108.4,281.18 L108.74,281.23 L109.07,281.28 L109.4,281.32 L109.73,281.37 L110.07,281.41 L110.4,281.46 L110.4,281.7 L110.07,281.67 L109.73,281.64 L109.4,281.61 L109.07,281.58 L108.74,281.55 L108.4,281.52 L108.07,281.49 L107.74,281.46 L107.41,281.42 L107.07,281.39 L106.74,281.36 L106.41,281.33 L106.08,281.3 L105.74,281.27 L105.41,281.24 L105.08,281.21 L104.75,281.18 L104.41,281.16 L104.08,281.14 L103.75,281.12 L103.42,281.11 L103.08,281.09 L102.75,281.07 L102.42,281.05 L102.09,281.03 L101.75,281.01 L101.42,280.99 L101.09,280.97 L100.76,280.95 L100.42,280.93 L100.09,280.91 L99.76,280.89 L99.43,280.87 L99.09,280.85 L98.76,280.83 L98.43,280.81 L98.1,280.79 L97.76,280.77 L97.43,280.75 L97.1,280.73 L96.77,280.71 L96.43,280.69 L96.1,280.67 L95.77,280.65 L95.44,280.63 L95.1,280.61 L94.77,280.59 L94.44,280.57 L94.11,280.55 L93.77,280.53 L93.44,280.51 L93.11,280.49 L92.78,280.47 L92.44,280.45 L92.11,280.43 L91.78,280.41 L91.45,280.39 L91.11,280.37 L90.78,280.35 L90.45,280.33 L90.12,280.31 L89.78,280.3 L89.45,280.29 L89.12,280.28 L88.79,280.27 L88.45,280.27 L88.12,280.26 L87.79,280.25 L87.46,280.24 L87.12,280.24 L86.79,280.23 L86.46,280.22 L86.13,280.21 L85.79,280.21 L85.46,280.2 L85.13,280.19 L84.8,280.18 L84.46,280.18 L84.13,280.17 L83.8,280.16 L83.47,280.15 L83.13,280.15 L82.8,280.14Z" fill="#ccf7f6"/><path d="M110.6,281.72 L110.93,281.75 L111.27,281.78 L111.6,281.81 L111.93,281.84 L112.26,281.87 L112.6,281.9 L112.93,281.93 L113.26,281.96 L113.59,281.99 L113.93,282.02 L114.26,282.04 L114.59,282.07 L114.92,282.09 L115.26,282.11 L115.59,282.12 L115.92,282.14 L116.26,282.15 L116.59,282.15 L116.92,282.15 L117.25,282.14 L117.59,282.13 L117.92,282.1 L118.25,282.07 L118.58,282.03 L118.92,281.97 L119.25,281.9 L119.58,281.82 L119.91,281.72 L120.25,281.61 L120.58,281.47 L120.91,281.33 L121.25,281.16 L121.58,280.98 L121.91,280.79 L122.24,280.59 L122.58,280.38 L122.91,280.16 L123.24,279.93 L123.57,279.7 L123.91,279.48 L124.24,279.26 L124.57,279.05 L124.9,278.85 L125.24,278.67 L125.57,278.51 L125.9,278.38 L126.24,278.34 L126.57,278.3 L126.9,278.26 L127.23,278.22 L127.57,278.26 L127.9,278.39 L128.23,278.52 L128.56,278.65 L128.9,278.78 L129.23,278.9 L129.56,279.03 L129.9,279.23 L130.23,279.47 L130.56,279.73 L130.89,280 L131.23,280.28 L131.56,280.55 L131.89,280.83 L132.22,281.11 L132.56,281.39 L132.89,281.66 L133.22,281.92 L133.55,282.17 L133.89,282.4 L134.22,282.62 L134.55,282.82 L134.89,283 L135.22,283.17 L135.55,283.33 L135.88,283.47 L136.22,283.6 L136.55,283.72 L136.88,283.82 L137.21,283.92 L137.55,284.01 L137.88,284.09 L138.21,284.17 L138.54,284.23 L138.88,284.3 L139.21,284.36 L139.54,284.42 L139.88,284.47 L140.21,284.52 L140.54,284.57 L140.87,284.62 L141.21,284.67 L141.54,284.71 L141.87,284.76 L142.2,284.8 L142.54,284.84 L142.87,284.89 L143.2,284.93 L143.53,284.97 L143.87,285.02 L144.2,285.06 L144.2,285.06 L143.87,285.02 L143.53,284.98 L143.2,284.93 L142.87,284.89 L142.54,284.85 L142.2,284.81 L141.87,284.76 L141.54,284.72 L141.21,284.68 L140.87,284.64 L140.54,284.59 L140.21,284.55 L139.88,284.51 L139.54,284.47 L139.21,284.42 L138.88,284.38 L138.54,284.34 L138.21,284.3 L137.88,284.25 L137.55,284.21 L137.21,284.17 L136.88,284.12 L136.55,284.08 L136.22,284.04 L135.88,284 L135.55,283.95 L135.22,283.91 L134.89,283.87 L134.55,283.83 L134.22,283.78 L133.89,283.74 L133.55,283.7 L133.22,283.66 L132.89,283.61 L132.56,283.57 L132.22,283.53 L131.89,283.49 L131.56,283.47 L131.23,283.44 L130.89,283.42 L130.56,283.39 L130.23,283.37 L129.9,283.34 L129.56,283.32 L129.23,283.29 L128.9,283.27 L128.56,283.24 L128.23,283.22 L127.9,283.19 L127.57,283.17 L127.23,283.14 L126.9,283.12 L126.57,283.09 L126.24,283.07 L125.9,283.04 L125.57,283.02 L125.24,282.99 L124.9,282.97 L124.57,282.94 L124.24,282.92 L123.91,282.89 L123.57,282.87 L123.24,282.84 L122.91,282.82 L122.58,282.79 L122.24,282.77 L121.91,282.74 L121.58,282.72 L121.25,282.69 L120.91,282.67 L120.58,282.64 L120.25,282.62 L119.91,282.59 L119.58,282.56 L119.25,282.53 L118.92,282.5 L118.58,282.47 L118.25,282.44 L117.92,282.41 L117.59,282.37 L117.25,282.34 L116.92,282.31 L116.59,282.28 L116.26,282.25 L115.92,282.22 L115.59,282.19 L115.26,282.16 L114.92,282.13 L114.59,282.1 L114.26,282.06 L113.93,282.03 L113.59,282 L113.26,281.97 L112.93,281.94 L112.6,281.91 L112.26,281.88 L111.93,281.85 L111.6,281.82 L111.27,281.78 L110.93,281.75 L110.6,281.72Z" fill="#ccf7f6"/><path d="M145.96,285.45 L146.29,285.52 L146.62,285.6 L146.96,285.67 L147.29,285.73 L147.62,285.79 L147.95,285.82 L148.28,285.82 L148.62,285.77 L148.95,285.65 L149.28,285.43 L149.61,285.09 L149.95,284.61 L150.28,283.95 L150.61,283.13 L150.94,282.16 L151.27,281.09 L151.61,279.99 L151.94,278.95 L152.27,278.07 L152.6,277.44 L152.93,277.14 L153.27,277.21 L153.6,277.65 L153.93,278.43 L154.26,279.46 L154.59,280.65 L154.93,281.9 L155.26,283.12 L155.59,284.24 L155.92,285.21 L156.25,286.01 L156.59,286.65 L156.92,287.14 L157.25,287.51 L157.58,287.78 L157.92,287.97 L158.25,288.12 L158.58,288.24 L158.91,288.34 L159.24,288.42 L159.58,288.5 L159.91,288.58 L160.24,288.65 L160.24,288.65 L159.91,288.58 L159.58,288.51 L159.24,288.44 L158.91,288.37 L158.58,288.3 L158.25,288.23 L157.92,288.16 L157.58,288.08 L157.25,288.01 L156.92,287.94 L156.59,287.87 L156.25,287.8 L155.92,287.73 L155.59,287.66 L155.26,287.59 L154.93,287.52 L154.59,287.45 L154.26,287.38 L153.93,287.31 L153.6,287.23 L153.27,287.16 L152.93,287.09 L152.6,287.02 L152.27,286.95 L151.94,286.87 L151.61,286.79 L151.27,286.71 L150.94,286.63 L150.61,286.55 L150.28,286.47 L149.95,286.39 L149.61,286.31 L149.28,286.24 L148.95,286.16 L148.62,286.08 L148.28,286 L147.95,285.92 L147.62,285.84 L147.29,285.76 L146.96,285.68 L146.62,285.6 L146.29,285.53 L145.96,285.45Z" fill="#ccf7f6"/><path d="M144.6,284.89 L144.93,284.96 L145.26,285.03 L145.59,285.09 L145.92,285.16 L146.25,285.23 L146.58,285.29 L146.91,285.35 L147.24,285.42 L147.57,285.48 L147.9,285.54 L148.23,285.59 L148.56,285.65 L148.89,285.7 L149.22,285.75 L149.55,285.8 L149.87,285.85 L150.2,285.88 L150.53,285.92 L150.86,285.94 L151.19,285.96 L151.52,285.96 L151.85,285.94 L152.18,285.9 L152.51,285.82 L152.84,285.7 L153.17,285.53 L153.5,285.29 L153.83,284.98 L154.16,284.58 L154.49,284.07 L154.82,283.44 L155.15,282.68 L155.48,281.78 L155.81,280.75 L156.14,279.57 L156.47,278.28 L156.8,276.87 L157.13,275.4 L157.46,273.9 L157.79,272.41 L158.12,271.01 L158.45,269.77 L158.78,268.76 L159.11,268.06 L159.44,267.73 L159.76,267.8 L160.09,268.27 L160.42,269.11 L160.75,270.25 L161.08,271.63 L161.41,273.17 L161.74,274.79 L162.07,276.43 L162.4,278.04 L162.73,279.58 L163.06,281.01 L163.39,282.32 L163.72,283.49 L164.05,284.53 L164.38,285.42 L164.71,286.18 L165.04,286.83 L165.37,287.37 L165.7,287.82 L166.03,288.19 L166.36,288.5 L166.69,288.76 L167.02,288.98 L167.35,289.16 L167.68,289.32 L168.01,289.52 L168.34,289.73 L168.67,289.94 L169,290.15 L169.33,290.37 L169.65,290.58 L169.98,290.79 L170.31,290.83 L170.64,290.87 L170.97,290.9 L171.3,290.94 L171.63,290.97 L171.96,291.01 L172.29,291.04 L172.62,291.08 L172.95,291.11 L173.28,291.15 L173.61,291.18 L173.94,291.21 L174.27,291.25 L174.6,291.28 L174.6,291.15 L174.27,291.11 L173.94,291.07 L173.61,291.03 L173.28,290.99 L172.95,290.95 L172.62,290.91 L172.29,290.88 L171.96,290.84 L171.63,290.8 L171.3,290.76 L170.97,290.72 L170.64,290.68 L170.31,290.64 L169.98,290.6 L169.65,290.53 L169.33,290.47 L169,290.4 L168.67,290.33 L168.34,290.27 L168.01,290.2 L167.68,290.14 L167.35,290.07 L167.02,290 L166.69,289.94 L166.36,289.87 L166.03,289.81 L165.7,289.74 L165.37,289.67 L165.04,289.61 L164.71,289.54 L164.38,289.48 L164.05,289.41 L163.72,289.34 L163.39,289.28 L163.06,289.21 L162.73,289.15 L162.4,289.08 L162.07,289.01 L161.74,288.95 L161.41,288.88 L161.08,288.82 L160.75,288.75 L160.42,288.68 L160.09,288.62 L159.76,288.55 L159.44,288.48 L159.11,288.41 L158.78,288.34 L158.45,288.27 L158.12,288.2 L157.79,288.13 L157.46,288.06 L157.13,287.99 L156.8,287.92 L156.47,287.85 L156.14,287.78 L155.81,287.71 L155.48,287.64 L155.15,287.57 L154.82,287.49 L154.49,287.42 L154.16,287.35 L153.83,287.28 L153.5,287.21 L153.17,287.14 L152.84,287.07 L152.51,287 L152.18,286.92 L151.85,286.85 L151.52,286.77 L151.19,286.69 L150.86,286.61 L150.53,286.53 L150.2,286.45 L149.87,286.38 L149.55,286.3 L149.22,286.22 L148.89,286.14 L148.56,286.06 L148.23,285.99 L147.9,285.91 L147.57,285.83 L147.24,285.75 L146.91,285.67 L146.58,285.59 L146.25,285.52 L145.92,285.44 L145.59,285.36 L145.26,285.28 L144.93,285.2 L144.6,285.12Z" fill="#ccf7f6"/><path d="M174.34,291.26 L174.67,291.29 L175,291.33 L175.33,291.36 L175.67,291.4 L176,291.36 L176.33,291.35 L176.66,291.39 L176.99,291.43 L177.32,291.46 L177.65,291.5 L177.99,291.53 L178.32,291.56 L178.65,291.59 L178.98,291.62 L179.31,291.64 L179.64,291.66 L179.97,291.68 L180.3,291.68 L180.64,291.67 L180.97,291.65 L181.3,291.63 L181.63,291.59 L181.96,291.55 L182.29,291.49 L182.62,291.42 L182.96,291.34 L183.29,291.24 L183.62,291.12 L183.95,290.98 L184.28,290.83 L184.61,290.66 L184.94,290.46 L185.28,290.25 L185.61,290.01 L185.94,289.75 L186.27,289.48 L186.6,289.19 L186.93,288.88 L187.26,288.56 L187.6,288.23 L187.93,287.89 L188.26,287.56 L188.59,287.22 L188.92,286.89 L189.25,286.57 L189.58,286.27 L189.91,285.99 L190.25,285.75 L190.58,285.54 L190.91,285.36 L191.24,285.22 L191.57,285.12 L191.9,285.07 L192.23,285.06 L192.57,285.09 L192.9,285.18 L193.23,285.31 L193.56,285.48 L193.89,285.69 L194.22,285.95 L194.55,286.23 L194.89,286.55 L195.22,286.89 L195.55,287.26 L195.88,287.64 L196.21,288.03 L196.54,288.43 L196.87,288.83 L197.2,289.23 L197.54,289.63 L197.87,290.01 L198.2,290.4 L198.53,290.78 L198.86,291.14 L199.19,291.48 L199.52,291.81 L199.86,292.11 L200.19,292.39 L200.52,292.66 L200.85,292.9 L201.18,293.12 L201.51,293.33 L201.84,293.51 L202.18,293.69 L202.51,293.84 L202.84,293.99 L203.17,294.12 L203.5,294.24 L203.83,294.36 L204.16,294.46 L204.5,294.56 L204.83,294.65 L205.16,294.74 L205.49,294.84 L205.82,294.93 L206.15,295.02 L206.48,295.1 L206.81,295.19 L207.15,295.27 L207.48,295.35 L207.81,295.43 L208.14,295.51 L208.47,295.59 L208.8,295.66 L209.13,295.74 L209.47,295.82 L209.8,295.89 L210.13,295.97 L210.46,296.05 L210.46,296.05 L210.13,295.97 L209.8,295.9 L209.47,295.82 L209.13,295.75 L208.8,295.67 L208.47,295.59 L208.14,295.52 L207.81,295.44 L207.48,295.37 L207.15,295.29 L206.81,295.21 L206.48,295.14 L206.15,295.06 L205.82,294.99 L205.49,294.91 L205.16,294.84 L204.83,294.77 L204.5,294.71 L204.16,294.64 L203.83,294.58 L203.5,294.52 L203.17,294.46 L202.84,294.4 L202.51,294.34 L202.18,294.28 L201.84,294.21 L201.51,294.15 L201.18,294.09 L200.85,294.03 L200.52,293.97 L200.19,293.91 L199.86,293.84 L199.52,293.78 L199.19,293.72 L198.86,293.66 L198.53,293.6 L198.2,293.54 L197.87,293.49 L197.54,293.45 L197.2,293.41 L196.87,293.37 L196.54,293.34 L196.21,293.3 L195.88,293.26 L195.55,293.22 L195.22,293.19 L194.89,293.15 L194.55,293.11 L194.22,293.08 L193.89,293.04 L193.56,293 L193.23,292.96 L192.9,292.93 L192.57,292.89 L192.23,292.85 L191.9,292.81 L191.57,292.78 L191.24,292.74 L190.91,292.7 L190.58,292.66 L190.25,292.63 L189.91,292.59 L189.58,292.57 L189.25,292.54 L188.92,292.51 L188.59,292.49 L188.26,292.46 L187.93,292.43 L187.6,292.41 L187.26,292.38 L186.93,292.35 L186.6,292.33 L186.27,292.3 L185.94,292.28 L185.61,292.25 L185.28,292.22 L184.94,292.2 L184.61,292.17 L184.28,292.14 L183.95,292.12 L183.62,292.09 L183.29,292.06 L182.96,292.04 L182.62,292.01 L182.29,291.98 L181.96,291.96 L181.63,291.93 L181.3,291.9 L180.97,291.88 L180.64,291.85 L180.3,291.82 L179.97,291.8 L179.64,291.76 L179.31,291.72 L178.98,291.68 L178.65,291.64 L178.32,291.6 L177.99,291.56 L177.65,291.52 L177.32,291.48 L176.99,291.44 L176.66,291.4 L176.33,291.36 L176,291.32 L175.67,291.28 L175.33,291.24 L175,291.2 L174.67,291.16 L174.34,291.12Z" fill="#ccf7f6"/><path d="M200.7,293.54 L201.03,293.58 L201.36,293.62 L201.69,293.66 L202.02,293.69 L202.36,293.73 L202.69,293.76 L203.02,293.79 L203.35,293.82 L203.68,293.84 L204.01,293.86 L204.34,293.88 L204.67,293.89 L205,293.9 L205.33,293.92 L205.67,293.93 L206,293.93 L206.33,293.92 L206.66,293.9 L206.99,293.87 L207.32,293.82 L207.65,293.75 L207.98,293.64 L208.31,293.5 L208.64,293.31 L208.98,293.05 L209.31,292.73 L209.64,292.31 L209.97,291.79 L210.3,291.14 L210.63,290.36 L210.96,289.41 L211.29,288.31 L211.62,287.04 L211.96,285.6 L212.29,284 L212.62,282.28 L212.95,280.48 L213.28,278.64 L213.61,276.85 L213.94,275.2 L214.27,274.1 L214.6,273.62 L214.93,273.14 L215.27,273.22 L215.6,273.85 L215.93,274.48 L216.26,275.74 L216.59,277.54 L216.92,279.49 L217.25,281.48 L217.58,283.44 L217.91,285.32 L218.24,287.04 L218.58,288.6 L218.91,290 L219.24,291.23 L219.57,292.29 L219.9,293.2 L220.23,293.97 L220.56,294.62 L220.89,295.16 L221.22,295.61 L221.56,295.98 L221.89,296.3 L222.22,296.56 L222.55,296.79 L222.88,296.99 L223.21,297.16 L223.54,297.32 L223.87,297.46 L224.2,297.59 L224.53,297.71 L224.87,297.82 L225.2,297.91 L225.53,297.99 L225.86,298.06 L226.19,298.13 L226.52,298.19 L226.85,298.25 L227.18,298.31 L227.51,298.37 L227.84,298.42 L228.18,298.47 L228.51,298.52 L228.84,298.57 L229.17,298.62 L229.5,298.66 L229.5,299.12 L229.17,299.1 L228.84,299.07 L228.51,299.05 L228.18,299.03 L227.84,299 L227.51,298.98 L227.18,298.96 L226.85,298.93 L226.52,298.91 L226.19,298.88 L225.86,298.86 L225.53,298.84 L225.2,298.81 L224.87,298.78 L224.53,298.73 L224.2,298.69 L223.87,298.64 L223.54,298.59 L223.21,298.54 L222.88,298.5 L222.55,298.45 L222.22,298.4 L221.89,298.36 L221.56,298.31 L221.22,298.26 L220.89,298.21 L220.56,298.17 L220.23,298.12 L219.9,298.07 L219.57,298.02 L219.24,297.98 L218.91,297.93 L218.58,297.88 L218.24,297.83 L217.91,297.78 L217.58,297.7 L217.25,297.63 L216.92,297.55 L216.59,297.47 L216.26,297.39 L215.93,297.32 L215.6,297.24 L215.27,297.16 L214.93,297.08 L214.6,297.01 L214.27,296.93 L213.94,296.85 L213.61,296.78 L213.28,296.7 L212.95,296.62 L212.62,296.54 L212.29,296.47 L211.96,296.39 L211.62,296.31 L211.29,296.24 L210.96,296.16 L210.63,296.09 L210.3,296.01 L209.97,295.94 L209.64,295.86 L209.31,295.78 L208.98,295.71 L208.64,295.63 L208.31,295.56 L207.98,295.48 L207.65,295.41 L207.32,295.33 L206.99,295.25 L206.66,295.18 L206.33,295.1 L206,295.03 L205.67,294.95 L205.33,294.88 L205,294.8 L204.67,294.74 L204.34,294.68 L204.01,294.62 L203.68,294.55 L203.35,294.49 L203.02,294.43 L202.69,294.37 L202.36,294.31 L202.02,294.25 L201.69,294.19 L201.36,294.12 L201.03,294.06 L200.7,294Z" fill="#ccf7f6"/><path d="M82.8,279.89 L83.13,279.89 L83.47,279.88 L83.8,279.87 L84.13,279.87 L84.46,279.86 L84.8,279.85 L85.13,279.84 L85.46,279.82 L85.79,279.81 L86.13,279.79 L86.46,279.77 L86.79,279.75 L87.12,279.73 L87.46,279.7 L87.79,279.67 L88.12,279.63 L88.45,279.59 L88.79,279.53 L89.12,279.47 L89.45,279.39 L89.78,279.3 L90.12,279.19 L90.45,279.05 L90.78,278.88 L91.11,278.67 L91.45,278.39 L91.78,278.06 L92.11,277.64 L92.44,277.14 L92.78,276.55 L93.11,275.85 L93.44,275.06 L93.77,274.17 L94.11,273.2 L94.44,272.17 L94.77,271.1 L95.1,270.05 L95.44,269.08 L95.77,268.25 L96.1,267.64 L96.43,267.33 L96.77,267.35 L97.1,267.7 L97.43,268.35 L97.76,269.22 L98.1,270.23 L98.43,271.32 L98.76,272.42 L99.09,273.5 L99.43,274.51 L99.76,275.44 L100.09,276.27 L100.42,277.01 L100.76,277.64 L101.09,278.18 L101.42,278.63 L101.75,279.01 L102.09,279.32 L102.42,279.58 L102.75,279.79 L103.08,279.96 L103.42,280.11 L103.75,280.23 L104.08,280.34 L104.41,280.43 L104.75,280.51 L105.08,280.58 L105.41,280.66 L105.74,280.73 L106.08,280.79 L106.41,280.86 L106.74,280.92 L107.07,280.97 L107.41,281.03 L107.74,281.08 L108.07,281.13 L108.4,281.18 L108.74,281.23 L109.07,281.28 L109.4,281.32 L109.73,281.37 L110.07,281.41 L110.4,281.46" fill="none" stroke="#2f9a9a" stroke-width="0.45"/><path d="M110.6,281.72 L110.93,281.75 L111.27,281.78 L111.6,281.81 L111.93,281.84 L112.26,281.87 L112.6,281.9 L112.93,281.93 L113.26,281.96 L113.59,281.99 L113.93,282.02 L114.26,282.04 L114.59,282.07 L114.92,282.09 L115.26,282.11 L115.59,282.12 L115.92,282.14 L116.26,282.15 L116.59,282.15 L116.92,282.15 L117.25,282.14 L117.59,282.13 L117.92,282.1 L118.25,282.07 L118.58,282.03 L118.92,281.97 L119.25,281.9 L119.58,281.82 L119.91,281.72 L120.25,281.61 L120.58,281.47 L120.91,281.33 L121.25,281.16 L121.58,280.98 L121.91,280.79 L122.24,280.59 L122.58,280.38 L122.91,280.16 L123.24,279.93 L123.57,279.7 L123.91,279.48 L124.24,279.26 L124.57,279.05 L124.9,278.85 L125.24,278.67 L125.57,278.51 L125.9,278.38 L126.24,278.34 L126.57,278.3 L126.9,278.26 L127.23,278.22 L127.57,278.26 L127.9,278.39 L128.23,278.52 L128.56,278.65 L128.9,278.78 L129.23,278.9 L129.56,279.03 L129.9,279.23 L130.23,279.47 L130.56,279.73 L130.89,280 L131.23,280.28 L131.56,280.55 L131.89,280.83 L132.22,281.11 L132.56,281.39 L132.89,281.66 L133.22,281.92 L133.55,282.17 L133.89,282.4 L134.22,282.62 L134.55,282.82 L134.89,283 L135.22,283.17 L135.55,283.33 L135.88,283.47 L136.22,283.6 L136.55,283.72 L136.88,283.82 L137.21,283.92 L137.55,284.01 L137.88,284.09 L138.21,284.17 L138.54,284.23 L138.88,284.3 L139.21,284.36 L139.54,284.42 L139.88,284.47 L140.21,284.52 L140.54,284.57 L140.87,284.62 L141.21,284.67 L141.54,284.71 L141.87,284.76 L142.2,284.8 L142.54,284.84 L142.87,284.89 L143.2,284.93 L143.53,284.97 L143.87,285.02 L144.2,285.06" fill="none" stroke="#2f9a9a" stroke-width="0.45"/><path d="M145.96,285.45 L146.29,285.52 L146.62,285.6 L146.96,285.67 L147.29,285.73 L147.62,285.79 L147.95,285.82 L148.28,285.82 L148.62,285.77 L148.95,285.65 L149.28,285.43 L149.61,285.09 L149.95,284.61 L150.28,283.95 L150.61,283.13 L150.94,282.16 L151.27,281.09 L151.61,279.99 L151.94,278.95 L152.27,278.07 L152.6,277.44 L152.93,277.14 L153.27,277.21 L153.6,277.65 L153.93,278.43 L154.26,279.46 L154.59,280.65 L154.93,281.9 L155.26,283.12 L155.59,284.24 L155.92,285.21 L156.25,286.01 L156.59,286.65 L156.92,287.14 L157.25,287.51 L157.58,287.78 L157.92,287.97 L158.25,288.12 L158.58,288.24 L158.91,288.34 L159.24,288.42 L159.58,288.5 L159.91,288.58 L160.24,288.65" fill="none" stroke="#2f9a9a" stroke-width="0.45"/><path d="M144.6,284.89 L144.93,284.96 L145.26,285.03 L145.59,285.09 L145.92,285.16 L146.25,285.23 L146.58,285.29 L146.91,285.35 L147.24,285.42 L147.57,285.48 L147.9,285.54 L148.23,285.59 L148.56,285.65 L148.89,285.7 L149.22,285.75 L149.55,285.8 L149.87,285.85 L150.2,285.88 L150.53,285.92 L150.86,285.94 L151.19,285.96 L151.52,285.96 L151.85,285.94 L152.18,285.9 L152.51,285.82 L152.84,285.7 L153.17,285.53 L153.5,285.29 L153.83,284.98 L154.16,284.58 L154.49,284.07 L154.82,283.44 L155.15,282.68 L155.48,281.78 L155.81,280.75 L156.14,279.57 L156.47,278.28 L156.8,276.87 L157.13,275.4 L157.46,273.9 L157.79,272.41 L158.12,271.01 L158.45,269.77 L158.78,268.76 L159.11,268.06 L159.44,267.73 L159.76,267.8 L160.09,268.27 L160.42,269.11 L160.75,270.25 L161.08,271.63 L161.41,273.17 L161.74,274.79 L162.07,276.43 L162.4,278.04 L162.73,279.58 L163.06,281.01 L163.39,282.32 L163.72,283.49 L164.05,284.53 L164.38,285.42 L164.71,286.18 L165.04,286.83 L165.37,287.37 L165.7,287.82 L166.03,288.19 L166.36,288.5 L166.69,288.76 L167.02,288.98 L167.35,289.16 L167.68,289.32 L168.01,289.52 L168.34,289.73 L168.67,289.94 L169,290.15 L169.33,290.37 L169.65,290.58 L169.98,290.79 L170.31,290.83 L170.64,290.87 L170.97,290.9 L171.3,290.94 L171.63,290.97 L171.96,291.01 L172.29,291.04 L172.62,291.08 L172.95,291.11 L173.28,291.15 L173.61,291.18 L173.94,291.21 L174.27,291.25 L174.6,291.28" fill="none" stroke="#2f9a9a" stroke-width="0.45"/><path d="M174.34,291.26 L174.67,291.29 L175,291.33 L175.33,291.36 L175.67,291.4 L176,291.36 L176.33,291.35 L176.66,291.39 L176.99,291.43 L177.32,291.46 L177.65,291.5 L177.99,291.53 L178.32,291.56 L178.65,291.59 L178.98,291.62 L179.31,291.64 L179.64,291.66 L179.97,291.68 L180.3,291.68 L180.64,291.67 L180.97,291.65 L181.3,291.63 L181.63,291.59 L181.96,291.55 L182.29,291.49 L182.62,291.42 L182.96,291.34 L183.29,291.24 L183.62,291.12 L183.95,290.98 L184.28,290.83 L184.61,290.66 L184.94,290.46 L185.28,290.25 L185.61,290.01 L185.94,289.75 L186.27,289.48 L186.6,289.19 L186.93,288.88 L187.26,288.56 L187.6,288.23 L187.93,287.89 L188.26,287.56 L188.59,287.22 L188.92,286.89 L189.25,286.57 L189.58,286.27 L189.91,285.99 L190.25,285.75 L190.58,285.54 L190.91,285.36 L191.24,285.22 L191.57,285.12 L191.9,285.07 L192.23,285.06 L192.57,285.09 L192.9,285.18 L193.23,285.31 L193.56,285.48 L193.89,285.69 L194.22,285.95 L194.55,286.23 L194.89,286.55 L195.22,286.89 L195.55,287.26 L195.88,287.64 L196.21,288.03 L196.54,288.43 L196.87,288.83 L197.2,289.23 L197.54,289.63 L197.87,290.01 L198.2,290.4 L198.53,290.78 L198.86,291.14 L199.19,291.48 L199.52,291.81 L199.86,292.11 L200.19,292.39 L200.52,292.66 L200.85,292.9 L201.18,293.12 L201.51,293.33 L201.84,293.51 L202.18,293.69 L202.51,293.84 L202.84,293.99 L203.17,294.12 L203.5,294.24 L203.83,294.36 L204.16,294.46 L204.5,294.56 L204.83,294.65 L205.16,294.74 L205.49,294.84 L205.82,294.93 L206.15,295.02 L206.48,295.1 L206.81,295.19 L207.15,295.27 L207.48,295.35 L207.81,295.43 L208.14,295.51 L208.47,295.59 L208.8,295.66 L209.13,295.74 L209.47,295.82 L209.8,295.89 L210.13,295.97 L210.46,296.05" fill="none" stroke="#2f9a9a" stroke-width="0.45"/><path d="M200.7,293.54 L201.03,293.58 L201.36,293.62 L201.69,293.66 L202.02,293.69 L202.36,293.73 L202.69,293.76 L203.02,293.79 L203.35,293.82 L203.68,293.84 L204.01,293.86 L204.34,293.88 L204.67,293.89 L205,293.9 L205.33,293.92 L205.67,293.93 L206,293.93 L206.33,293.92 L206.66,293.9 L206.99,293.87 L207.32,293.82 L207.65,293.75 L207.98,293.64 L208.31,293.5 L208.64,293.31 L208.98,293.05 L209.31,292.73 L209.64,292.31 L209.97,291.79 L210.3,291.14 L210.63,290.36 L210.96,289.41 L211.29,288.31 L211.62,287.04 L211.96,285.6 L212.29,284 L212.62,282.28 L212.95,280.48 L213.28,278.64 L213.61,276.85 L213.94,275.2 L214.27,274.1 L214.6,273.62 L214.93,273.14 L215.27,273.22 L215.6,273.85 L215.93,274.48 L216.26,275.74 L216.59,277.54 L216.92,279.49 L217.25,281.48 L217.58,283.44 L217.91,285.32 L218.24,287.04 L218.58,288.6 L218.91,290 L219.24,291.23 L219.57,292.29 L219.9,293.2 L220.23,293.97 L220.56,294.62 L220.89,295.16 L221.22,295.61 L221.56,295.98 L221.89,296.3 L222.22,296.56 L222.55,296.79 L222.88,296.99 L223.21,297.16 L223.54,297.32 L223.87,297.46 L224.2,297.59 L224.53,297.71 L224.87,297.82 L225.2,297.91 L225.53,297.99 L225.86,298.06 L226.19,298.13 L226.52,298.19 L226.85,298.25 L227.18,298.31 L227.51,298.37 L227.84,298.42 L228.18,298.47 L228.51,298.52 L228.84,298.57 L229.17,298.62 L229.5,298.66" fill="none" stroke="#2f9a9a" stroke-width="0.45"/><path d="M104,211.46 L104.33,211.45 L104.67,211.43 L105,211.42 L105.33,211.41 L105.67,211.39 L106,211.38 L106.33,211.37 L106.66,211.36 L107,211.35 L107.33,211.34 L107.66,211.33 L108,211.32 L108.33,211.31 L108.66,211.29 L109,211.28 L109.33,211.27 L109.66,211.26 L110,211.25 L110.33,211.24 L110.66,211.24 L111,211.23 L111.33,211.23 L111.66,211.22 L111.99,211.22 L112.33,211.21 L112.66,211.21 L112.99,211.2 L113.33,211.19 L113.66,211.19 L113.99,211.18 L114.33,211.18 L114.66,211.17 L114.99,211.17 L115.33,211.17 L115.66,211.17 L115.99,211.17 L116.33,211.17 L116.66,211.17 L116.99,211.17 L117.32,211.16 L117.66,211.16 L117.99,211.16 L118.32,211.16 L118.66,211.16 L118.99,211.16 L119.32,211.15 L119.66,211.15 L119.99,211.15 L120.32,211.15 L120.66,211.15 L120.99,211.15 L121.32,211.14 L121.65,211.14 L121.99,211.14 L122.32,211.14 L122.65,211.14 L122.99,211.14 L123.32,211.13 L123.65,211.13 L123.99,211.13 L124.32,211.1 L124.65,211.07 L124.99,211.04 L125.32,211.01 L125.65,210.99 L125.99,210.96 L126.32,210.94 L126.65,210.91 L126.98,210.89 L127.32,210.86 L127.65,210.84 L127.98,210.81 L128.32,210.79 L128.65,210.77 L128.98,210.74 L129.32,210.72 L129.65,210.69 L129.98,210.67 L130.32,210.64 L130.65,210.62 L130.98,210.55 L131.31,210.48 L131.65,210.41 L131.98,210.33 L132.31,210.26 L132.65,210.19 L132.98,210.12 L133.31,210.04 L133.65,209.97 L133.98,209.9 L134.31,209.83 L134.65,209.75 L134.98,209.68 L135.31,209.63 L135.65,209.57 L135.98,209.52 L136.31,209.46 L136.64,209.41 L136.98,209.35 L137.31,209.3 L137.64,209.24 L137.98,209.19 L138.31,209.14 L138.64,209.08 L138.98,209.03 L139.31,208.98 L139.64,208.92 L139.98,208.87 L140.31,208.82 L140.64,208.77 L140.98,208.71 L141.31,208.66 L141.64,208.62 L141.97,208.59 L142.31,208.57 L142.64,208.55 L142.97,208.53 L143.31,208.51 L143.64,208.49 L143.97,208.47 L144.31,208.45 L144.64,208.43 L144.97,208.57 L145.31,208.75 L145.64,208.93 L145.97,209.11 L146.3,209.29 L146.64,209.47 L146.97,209.72 L147.3,210.05 L147.64,210.37 L147.97,210.7 L148.3,211.02 L148.64,211.35 L148.97,211.67 L149.3,212.06 L149.64,212.45 L149.97,212.85 L150.3,213.24 L150.64,213.64 L150.97,214.03 L151.3,214.4 L151.63,214.75 L151.97,215.1 L152.3,215.45 L152.63,215.8 L152.97,216.15 L153.3,216.5 L153.3,216.5 L152.97,216.44 L152.63,216.37 L152.3,216.31 L151.97,216.25 L151.63,216.19 L151.3,216.13 L150.97,216.07 L150.64,216 L150.3,215.94 L149.97,215.88 L149.64,215.82 L149.3,215.76 L148.97,215.7 L148.64,215.64 L148.3,215.59 L147.97,215.54 L147.64,215.49 L147.3,215.43 L146.97,215.38 L146.64,215.33 L146.3,215.28 L145.97,215.22 L145.64,215.17 L145.31,215.12 L144.97,215.07 L144.64,215.01 L144.31,214.96 L143.97,214.91 L143.64,214.86 L143.31,214.81 L142.97,214.75 L142.64,214.7 L142.31,214.65 L141.97,214.6 L141.64,214.55 L141.31,214.5 L140.98,214.45 L140.64,214.41 L140.31,214.36 L139.98,214.31 L139.64,214.26 L139.31,214.22 L138.98,214.17 L138.64,214.12 L138.31,214.07 L137.98,214.03 L137.64,213.98 L137.31,213.93 L136.98,213.88 L136.64,213.83 L136.31,213.79 L135.98,213.74 L135.65,213.69 L135.31,213.64 L134.98,213.6 L134.65,213.57 L134.31,213.54 L133.98,213.51 L133.65,213.48 L133.31,213.45 L132.98,213.42 L132.65,213.39 L132.31,213.36 L131.98,213.33 L131.65,213.3 L131.31,213.27 L130.98,213.24 L130.65,213.21 L130.32,213.18 L129.98,213.15 L129.65,213.12 L129.32,213.09 L128.98,213.06 L128.65,213.03 L128.32,213 L127.98,212.97 L127.65,212.94 L127.32,212.91 L126.98,212.88 L126.65,212.85 L126.32,212.82 L125.99,212.79 L125.65,212.76 L125.32,212.73 L124.99,212.7 L124.65,212.68 L124.32,212.65 L123.99,212.63 L123.65,212.61 L123.32,212.58 L122.99,212.56 L122.65,212.54 L122.32,212.51 L121.99,212.49 L121.65,212.47 L121.32,212.44 L120.99,212.42 L120.66,212.4 L120.32,212.37 L119.99,212.35 L119.66,212.33 L119.32,212.3 L118.99,212.28 L118.66,212.26 L118.32,212.23 L117.99,212.21 L117.66,212.19 L117.32,212.16 L116.99,212.14 L116.66,212.12 L116.33,212.09 L115.99,212.07 L115.66,212.05 L115.33,212.02 L114.99,212 L114.66,211.98 L114.33,211.97 L113.99,211.95 L113.66,211.93 L113.33,211.92 L112.99,211.9 L112.66,211.88 L112.33,211.87 L111.99,211.85 L111.66,211.83 L111.33,211.82 L111,211.8 L110.66,211.78 L110.33,211.77 L110,211.75 L109.66,211.73 L109.33,211.72 L109,211.7 L108.66,211.68 L108.33,211.67 L108,211.65 L107.66,211.63 L107.33,211.62 L107,211.6 L106.66,211.58 L106.33,211.57 L106,211.55 L105.67,211.53 L105.33,211.52 L105,211.5 L104.67,211.49 L104.33,211.47 L104,211.46Z" fill="#f06464"/><path d="M191,222.17 L191.33,222.2 L191.66,222.23 L191.99,222.25 L192.33,222.26 L192.66,222.27 L192.99,222.27 L193.32,222.25 L193.65,222.23 L193.98,222.2 L194.31,222.16 L194.64,222.1 L194.98,222.03 L195.31,221.94 L195.64,221.83 L195.97,221.71 L196.3,221.57 L196.63,221.41 L196.96,221.23 L197.3,221.03 L197.63,220.82 L197.96,220.59 L198.29,220.34 L198.62,220.08 L198.95,219.8 L199.28,219.51 L199.61,219.21 L199.95,218.9 L200.28,218.59 L200.61,218.29 L200.94,217.98 L201.27,217.69 L201.6,217.41 L201.93,217.15 L202.27,216.9 L202.6,216.69 L202.93,216.51 L203.26,216.35 L203.59,216.24 L203.92,216.16 L204.25,216.13 L204.58,216.14 L204.92,216.19 L205.25,216.28 L205.58,216.42 L205.91,216.6 L206.24,216.82 L206.57,217.08 L206.9,217.37 L207.23,217.7 L207.57,218.05 L207.9,218.42 L208.23,218.81 L208.56,219.22 L208.89,219.64 L209.22,220.06 L209.55,220.49 L209.89,220.91 L210.22,221.33 L210.55,221.74 L210.88,222.14 L211.21,222.52 L211.54,222.89 L211.87,223.25 L212.2,223.58 L212.54,223.9 L212.87,224.19 L213.2,224.47 L213.53,224.73 L213.86,224.97 L214.19,225.19 L214.52,225.39 L214.86,225.58 L215.19,225.75 L215.52,225.91 L215.85,226.05 L216.18,226.19 L216.51,226.31 L216.84,226.42 L217.17,226.53 L217.51,226.63 L217.84,226.72 L218.17,226.81 L218.5,226.89 L218.5,226.99 L218.17,226.93 L217.84,226.87 L217.51,226.81 L217.17,226.76 L216.84,226.7 L216.51,226.64 L216.18,226.58 L215.85,226.52 L215.52,226.47 L215.19,226.41 L214.86,226.35 L214.52,226.29 L214.19,226.23 L213.86,226.18 L213.53,226.12 L213.2,226.06 L212.87,226 L212.54,225.94 L212.2,225.88 L211.87,225.82 L211.54,225.76 L211.21,225.7 L210.88,225.65 L210.55,225.59 L210.22,225.53 L209.89,225.47 L209.55,225.41 L209.22,225.35 L208.89,225.29 L208.56,225.23 L208.23,225.17 L207.9,225.12 L207.57,225.06 L207.23,225 L206.9,224.94 L206.57,224.88 L206.24,224.82 L205.91,224.76 L205.58,224.7 L205.25,224.64 L204.92,224.59 L204.58,224.53 L204.25,224.47 L203.92,224.41 L203.59,224.35 L203.26,224.3 L202.93,224.24 L202.6,224.18 L202.27,224.12 L201.93,224.06 L201.6,224.01 L201.27,223.95 L200.94,223.89 L200.61,223.83 L200.28,223.77 L199.95,223.72 L199.61,223.66 L199.28,223.6 L198.95,223.54 L198.62,223.48 L198.29,223.43 L197.96,223.37 L197.63,223.31 L197.3,223.25 L196.96,223.19 L196.63,223.14 L196.3,223.09 L195.97,223.04 L195.64,222.99 L195.31,222.94 L194.98,222.89 L194.64,222.83 L194.31,222.78 L193.98,222.73 L193.65,222.68 L193.32,222.63 L192.99,222.58 L192.66,222.52 L192.33,222.47 L191.99,222.42 L191.66,222.37 L191.33,222.32 L191,222.27Z" fill="#f06464"/><path d="M104,281.14 L104.33,281.13 L104.66,281.12 L105,281.12 L105.33,281.12 L105.66,281.12 L105.99,281.13 L106.32,281.13 L106.65,281.13 L106.99,281.14 L107.32,281.14 L107.65,281.14 L107.98,281.15 L108.31,281.15 L108.64,281.15 L108.98,281.16 L109.31,281.16 L109.64,281.16 L109.97,281.17 L110.3,281.17 L110.64,281.18 L110.97,281.19 L111.3,281.2 L111.63,281.21 L111.96,281.22 L112.29,281.23 L112.63,281.24 L112.96,281.25 L113.29,281.25 L113.62,281.26 L113.95,281.27 L114.28,281.28 L114.62,281.29 L114.95,281.3 L115.28,281.31 L115.61,281.32 L115.94,281.33 L116.28,281.34 L116.61,281.35 L116.94,281.37 L117.27,281.38 L117.6,281.4 L117.93,281.41 L118.27,281.42 L118.6,281.44 L118.93,281.45 L119.26,281.47 L119.59,281.48 L119.92,281.5 L120.26,281.51 L120.59,281.51 L120.92,281.52 L121.25,281.53 L121.58,281.54 L121.91,281.55 L122.25,281.56 L122.58,281.56 L122.91,281.57 L123.24,281.58 L123.57,281.59 L123.91,281.6 L124.24,281.59 L124.57,281.58 L124.9,281.57 L125.23,281.56 L125.56,281.55 L125.9,281.54 L126.23,281.53 L126.56,281.51 L126.89,281.5 L127.22,281.49 L127.55,281.48 L127.89,281.47 L128.22,281.46 L128.55,281.45 L128.88,281.44 L129.21,281.43 L129.55,281.41 L129.88,281.4 L130.21,281.39 L130.54,281.38 L130.87,281.37 L131.2,281.36 L131.54,281.35 L131.87,281.34 L132.2,281.34 L132.53,281.31 L132.86,281.27 L133.19,281.22 L133.53,281.18 L133.86,281.14 L134.19,281.1 L134.52,281.06 L134.85,281.01 L135.19,280.97 L135.52,280.93 L135.85,280.89 L136.18,280.84 L136.51,280.8 L136.84,280.76 L137.18,280.71 L137.51,280.65 L137.84,280.58 L138.17,280.52 L138.5,280.46 L138.83,280.4 L139.17,280.34 L139.5,280.28 L139.83,280.21 L140.16,280.15 L140.49,280.09 L140.82,280.03 L141.16,279.97 L141.49,279.91 L141.82,279.84 L142.15,279.77 L142.48,279.65 L142.82,279.53 L143.15,279.41 L143.48,279.29 L143.81,279.17 L144.14,279.05 L144.47,278.93 L144.81,278.85 L145.14,278.76 L145.47,278.68 L145.8,278.6 L146.13,278.51 L146.46,278.43 L146.8,278.35 L147.13,278.24 L147.46,278.1 L147.79,277.95 L148.12,277.81 L148.46,277.67 L148.79,277.53 L149.12,277.38 L149.45,277.29 L149.78,277.47 L150.11,277.65 L150.45,277.83 L150.78,278.22 L151.11,279.25 L151.44,280.29 L151.77,281.69 L152.1,283.43 L152.44,284.91 L152.77,286.02 L153.1,287.13 L153.1,287.13 L152.77,287.06 L152.44,286.98 L152.1,286.91 L151.77,286.83 L151.44,286.75 L151.11,286.67 L150.78,286.59 L150.45,286.51 L150.11,286.43 L149.78,286.35 L149.45,286.28 L149.12,286.2 L148.79,286.12 L148.46,286.04 L148.12,285.96 L147.79,285.88 L147.46,285.8 L147.13,285.72 L146.8,285.65 L146.46,285.57 L146.13,285.49 L145.8,285.41 L145.47,285.33 L145.14,285.25 L144.81,285.17 L144.47,285.1 L144.14,285.05 L143.81,285.01 L143.48,284.97 L143.15,284.93 L142.82,284.88 L142.48,284.84 L142.15,284.8 L141.82,284.76 L141.49,284.71 L141.16,284.67 L140.82,284.63 L140.49,284.59 L140.16,284.54 L139.83,284.5 L139.5,284.46 L139.17,284.42 L138.83,284.37 L138.5,284.33 L138.17,284.29 L137.84,284.25 L137.51,284.2 L137.18,284.16 L136.84,284.12 L136.51,284.08 L136.18,284.04 L135.85,283.99 L135.52,283.95 L135.19,283.91 L134.85,283.87 L134.52,283.82 L134.19,283.78 L133.86,283.74 L133.53,283.7 L133.19,283.65 L132.86,283.61 L132.53,283.57 L132.2,283.53 L131.87,283.49 L131.54,283.47 L131.2,283.44 L130.87,283.42 L130.54,283.39 L130.21,283.37 L129.88,283.34 L129.55,283.32 L129.21,283.29 L128.88,283.27 L128.55,283.24 L128.22,283.22 L127.89,283.19 L127.55,283.17 L127.22,283.14 L126.89,283.12 L126.56,283.09 L126.23,283.07 L125.9,283.04 L125.56,283.02 L125.23,282.99 L124.9,282.97 L124.57,282.94 L124.24,282.92 L123.91,282.89 L123.57,282.87 L123.24,282.84 L122.91,282.82 L122.58,282.79 L122.25,282.77 L121.91,282.74 L121.58,282.72 L121.25,282.69 L120.92,282.67 L120.59,282.64 L120.26,282.62 L119.92,282.59 L119.59,282.56 L119.26,282.53 L118.93,282.5 L118.6,282.47 L118.27,282.44 L117.93,282.41 L117.6,282.38 L117.27,282.35 L116.94,282.31 L116.61,282.28 L116.28,282.25 L115.94,282.22 L115.61,282.19 L115.28,282.16 L114.95,282.13 L114.62,282.1 L114.28,282.07 L113.95,282.04 L113.62,282 L113.29,281.97 L112.96,281.94 L112.63,281.91 L112.29,281.88 L111.96,281.85 L111.63,281.82 L111.3,281.79 L110.97,281.76 L110.64,281.73 L110.3,281.69 L109.97,281.66 L109.64,281.63 L109.31,281.6 L108.98,281.57 L108.64,281.54 L108.31,281.51 L107.98,281.48 L107.65,281.45 L107.32,281.42 L106.99,281.39 L106.65,281.35 L106.32,281.32 L105.99,281.29 L105.66,281.26 L105.33,281.23 L105,281.2 L104.66,281.18 L104.33,281.16 L104,281.14Z" fill="#f06464"/><path d="M191,292.61 L191.33,292.62 L191.66,292.63 L191.99,292.63 L192.33,292.63 L192.66,292.62 L192.99,292.6 L193.32,292.57 L193.65,292.53 L193.98,292.48 L194.31,292.41 L194.64,292.34 L194.98,292.25 L195.31,292.14 L195.64,292.01 L195.97,291.87 L196.3,291.72 L196.63,291.54 L196.96,291.35 L197.3,291.13 L197.63,290.9 L197.96,290.66 L198.29,290.42 L198.62,290.17 L198.95,289.91 L199.28,289.64 L199.61,289.36 L199.95,289.08 L200.28,288.8 L200.61,288.53 L200.94,288.26 L201.27,288.01 L201.6,287.77 L201.93,287.55 L202.27,287.36 L202.6,287.19 L202.93,287.06 L203.26,286.96 L203.59,286.89 L203.92,286.86 L204.25,286.87 L204.58,286.92 L204.92,287.02 L205.25,287.16 L205.58,287.34 L205.91,287.57 L206.24,287.82 L206.57,288.11 L206.9,288.43 L207.23,288.77 L207.57,289.14 L207.9,289.52 L208.23,289.92 L208.56,290.33 L208.89,290.74 L209.22,291.16 L209.55,291.58 L209.89,291.99 L210.22,292.39 L210.55,292.78 L210.88,293.16 L211.21,293.53 L211.54,293.88 L211.87,294.21 L212.2,294.53 L212.54,294.83 L212.87,295.11 L213.2,295.37 L213.53,295.62 L213.86,295.85 L214.19,296.06 L214.52,296.26 L214.86,296.45 L215.19,296.62 L215.52,296.78 L215.85,296.93 L216.18,297.07 L216.51,297.19 L216.84,297.32 L217.17,297.43 L217.51,297.54 L217.84,297.65 L218.17,297.73 L218.5,297.8 L218.5,297.87 L218.17,297.82 L217.84,297.76 L217.51,297.68 L217.17,297.61 L216.84,297.53 L216.51,297.45 L216.18,297.38 L215.85,297.3 L215.52,297.22 L215.19,297.14 L214.86,297.07 L214.52,296.99 L214.19,296.91 L213.86,296.83 L213.53,296.76 L213.2,296.68 L212.87,296.6 L212.54,296.53 L212.2,296.45 L211.87,296.37 L211.54,296.3 L211.21,296.22 L210.88,296.14 L210.55,296.07 L210.22,295.99 L209.89,295.92 L209.55,295.84 L209.22,295.77 L208.89,295.69 L208.56,295.61 L208.23,295.54 L207.9,295.46 L207.57,295.39 L207.23,295.31 L206.9,295.24 L206.57,295.16 L206.24,295.08 L205.91,295.01 L205.58,294.93 L205.25,294.86 L204.92,294.78 L204.58,294.72 L204.25,294.66 L203.92,294.6 L203.59,294.54 L203.26,294.48 L202.93,294.42 L202.6,294.35 L202.27,294.29 L201.93,294.23 L201.6,294.17 L201.27,294.11 L200.94,294.05 L200.61,293.98 L200.28,293.92 L199.95,293.86 L199.61,293.8 L199.28,293.74 L198.95,293.68 L198.62,293.62 L198.29,293.55 L197.96,293.5 L197.63,293.46 L197.3,293.42 L196.96,293.38 L196.63,293.35 L196.3,293.31 L195.97,293.27 L195.64,293.23 L195.31,293.2 L194.98,293.16 L194.64,293.12 L194.31,293.09 L193.98,293.05 L193.65,293.01 L193.32,292.97 L192.99,292.94 L192.66,292.9 L192.33,292.86 L191.99,292.82 L191.66,292.79 L191.33,292.75 L191,292.71Z" fill="#f06464"/><path d="M67.6,209.8 L69.05,209.82 L70.51,209.84 L71.96,209.86 L73.41,209.88 L74.86,209.9 L76.32,209.92 L77.77,209.94 L79.22,209.96 L80.68,209.98 L82.13,209.99 L83.58,210.01 L85.04,210.03 L86.49,210.05 L87.94,210.07 L89.39,210.09 L90.85,210.13 L92.3,210.19 L93.75,210.25 L95.21,210.31 L96.66,210.37 L98.11,210.42 L99.56,210.48 L101.02,210.54 L102.47,210.6 L103.92,210.66 L105.38,210.72 L106.83,210.79 L108.28,210.86 L109.74,210.94 L111.19,211.01 L112.64,211.08 L114.09,211.15 L115.55,211.24 L117,211.34 L118.45,211.44 L119.91,211.54 L121.36,211.65 L122.81,211.75 L124.26,211.85 L125.72,211.96 L127.17,212.1 L128.62,212.23 L130.08,212.36 L131.53,212.49 L132.98,212.62 L134.44,212.75 L135.89,212.93 L137.34,213.13 L138.79,213.34 L140.25,213.55 L141.7,213.76 L143.15,213.98 L144.61,214.21 L146.06,214.44 L147.51,214.67 L148.96,214.89 L150.42,215.16 L151.87,215.43 L153.32,215.7 L154.78,215.97 L156.23,216.24 L157.68,216.49 L159.14,216.74 L160.59,216.98 L162.04,217.23 L163.49,217.48 L164.95,217.71 L166.4,217.94 L167.85,218.16 L169.31,218.39 L170.76,218.6 L172.21,218.8 L173.66,219 L175.12,219.2 L176.57,219.4 L178.02,219.6 L179.48,219.81 L180.93,220.01 L182.38,220.21 L183.84,220.42 L185.29,220.62 L186.74,220.82 L188.19,221.03 L189.65,221.26 L191.1,221.48 L192.55,221.71 L194.01,221.93 L195.46,222.16 L196.91,222.39 L198.36,222.64 L199.82,222.89 L201.27,223.15 L202.72,223.4 L204.18,223.66 L205.63,223.91 L207.08,224.17 L208.54,224.43 L209.99,224.69 L211.44,224.95 L212.89,225.2 L214.35,225.46 L215.8,225.71 L217.25,225.97 L218.71,226.22 L220.16,226.48 L221.61,226.73 L223.06,226.94 L224.52,227.14 L225.97,227.33 L227.42,227.52 L228.88,227.72 L230.33,227.91 L231.78,228.05 L233.24,228.14 L234.69,228.23 L236.14,228.32 L237.59,228.42 L239.05,228.51 L240.5,228.6" fill="none" stroke="#8c8c8c" stroke-width="0.45"/><path d="M67.6,210.6 L69.05,210.62 L70.51,210.64 L71.96,210.66 L73.41,210.68 L74.86,210.7 L76.32,210.72 L77.77,210.74 L79.22,210.76 L80.68,210.78 L82.13,210.79 L83.58,210.81 L85.04,210.83 L86.49,210.85 L87.94,210.87 L89.39,210.89 L90.85,210.93 L92.3,210.99 L93.75,211.05 L95.21,211.11 L96.66,211.17 L98.11,211.22 L99.56,211.28 L101.02,211.34 L102.47,211.4 L103.92,211.46 L105.38,211.52 L106.83,211.59 L108.28,211.66 L109.74,211.74 L111.19,211.81 L112.64,211.88 L114.09,211.95 L115.55,212.04 L117,212.14 L118.45,212.24 L119.91,212.34 L121.36,212.45 L122.81,212.55 L124.26,212.65 L125.72,212.76 L127.17,212.9 L128.62,213.03 L130.08,213.16 L131.53,213.29 L132.98,213.42 L134.44,213.55 L135.89,213.73 L137.34,213.93 L138.79,214.14 L140.25,214.35 L141.7,214.56 L143.15,214.78 L144.61,215.01 L146.06,215.24 L147.51,215.47 L148.96,215.69 L150.42,215.96 L151.87,216.23 L153.32,216.5 L154.78,216.77 L156.23,217.04 L157.68,217.29 L159.14,217.54 L160.59,217.78 L162.04,218.03 L163.49,218.28 L164.95,218.51 L166.4,218.74 L167.85,218.96 L169.31,219.19 L170.76,219.4 L172.21,219.6 L173.66,219.8 L175.12,220 L176.57,220.2 L178.02,220.4 L179.48,220.61 L180.93,220.81 L182.38,221.01 L183.84,221.22 L185.29,221.42 L186.74,221.62 L188.19,221.83 L189.65,222.06 L191.1,222.28 L192.55,222.51 L194.01,222.73 L195.46,222.96 L196.91,223.19 L198.36,223.44 L199.82,223.69 L201.27,223.95 L202.72,224.2 L204.18,224.46 L205.63,224.71 L207.08,224.97 L208.54,225.23 L209.99,225.49 L211.44,225.75 L212.89,226 L214.35,226.26 L215.8,226.51 L217.25,226.77 L218.71,227.02 L220.16,227.28 L221.61,227.53 L223.06,227.74 L224.52,227.94 L225.97,228.13 L227.42,228.32 L228.88,228.52 L230.33,228.71 L231.78,228.85 L233.24,228.94 L234.69,229.03 L236.14,229.12 L237.59,229.22 L239.05,229.31 L240.5,229.4" fill="none" stroke="#9c4444" stroke-width="0.75"/><path d="M67.6,279 L69.05,279.03 L70.51,279.06 L71.96,279.1 L73.41,279.13 L74.86,279.16 L76.32,279.19 L77.77,279.23 L79.22,279.26 L80.68,279.29 L82.13,279.32 L83.58,279.36 L85.04,279.39 L86.49,279.42 L87.94,279.45 L89.39,279.49 L90.85,279.55 L92.3,279.64 L93.75,279.73 L95.21,279.81 L96.66,279.9 L98.11,279.99 L99.56,280.07 L101.02,280.16 L102.47,280.25 L103.92,280.34 L105.38,280.44 L106.83,280.57 L108.28,280.71 L109.74,280.84 L111.19,280.98 L112.64,281.11 L114.09,281.25 L115.55,281.38 L117,281.52 L118.45,281.66 L119.91,281.79 L121.36,281.9 L122.81,282.01 L124.26,282.12 L125.72,282.23 L127.17,282.34 L128.62,282.45 L130.08,282.56 L131.53,282.66 L132.98,282.83 L134.44,283.01 L135.89,283.2 L137.34,283.38 L138.79,283.57 L140.25,283.76 L141.7,283.94 L143.15,284.13 L144.61,284.33 L146.06,284.67 L147.51,285.02 L148.96,285.36 L150.42,285.71 L151.87,286.05 L153.32,286.38 L154.78,286.69 L156.23,287 L157.68,287.31 L159.14,287.62 L160.59,287.92 L162.04,288.21 L163.49,288.5 L164.95,288.79 L166.4,289.08 L167.85,289.37 L169.31,289.66 L170.76,289.89 L172.21,290.07 L173.66,290.24 L175.12,290.41 L176.57,290.59 L178.02,290.76 L179.48,290.94 L180.93,291.07 L182.38,291.19 L183.84,291.31 L185.29,291.42 L186.74,291.54 L188.19,291.66 L189.65,291.77 L191.1,291.92 L192.55,292.09 L194.01,292.25 L195.46,292.41 L196.91,292.58 L198.36,292.77 L199.82,293.04 L201.27,293.31 L202.72,293.58 L204.18,293.85 L205.63,294.14 L207.08,294.48 L208.54,294.81 L209.99,295.14 L211.44,295.47 L212.89,295.81 L214.35,296.15 L215.8,296.49 L217.25,296.83 L218.71,297.1 L220.16,297.31 L221.61,297.52 L223.06,297.72 L224.52,297.93 L225.97,298.07 L227.42,298.17 L228.88,298.28 L230.33,298.38 L231.78,298.48 L233.24,298.54 L234.69,298.59 L236.14,298.65 L237.59,298.7 L239.05,298.75 L240.5,298.8" fill="none" stroke="#8c8c8c" stroke-width="0.45"/><path d="M67.6,279.8 L69.05,279.83 L70.51,279.86 L71.96,279.9 L73.41,279.93 L74.86,279.96 L76.32,279.99 L77.77,280.03 L79.22,280.06 L80.68,280.09 L82.13,280.12 L83.58,280.16 L85.04,280.19 L86.49,280.22 L87.94,280.25 L89.39,280.29 L90.85,280.35 L92.3,280.44 L93.75,280.53 L95.21,280.61 L96.66,280.7 L98.11,280.79 L99.56,280.87 L101.02,280.96 L102.47,281.05 L103.92,281.14 L105.38,281.24 L106.83,281.37 L108.28,281.51 L109.74,281.64 L111.19,281.78 L112.64,281.91 L114.09,282.05 L115.55,282.18 L117,282.32 L118.45,282.46 L119.91,282.59 L121.36,282.7 L122.81,282.81 L124.26,282.92 L125.72,283.03 L127.17,283.14 L128.62,283.25 L130.08,283.36 L131.53,283.46 L132.98,283.63 L134.44,283.81 L135.89,284 L137.34,284.18 L138.79,284.37 L140.25,284.56 L141.7,284.74 L143.15,284.93 L144.61,285.13 L146.06,285.47 L147.51,285.82 L148.96,286.16 L150.42,286.51 L151.87,286.85 L153.32,287.18 L154.78,287.49 L156.23,287.8 L157.68,288.11 L159.14,288.42 L160.59,288.72 L162.04,289.01 L163.49,289.3 L164.95,289.59 L166.4,289.88 L167.85,290.17 L169.31,290.46 L170.76,290.69 L172.21,290.87 L173.66,291.04 L175.12,291.21 L176.57,291.39 L178.02,291.56 L179.48,291.74 L180.93,291.87 L182.38,291.99 L183.84,292.11 L185.29,292.22 L186.74,292.34 L188.19,292.46 L189.65,292.57 L191.1,292.72 L192.55,292.89 L194.01,293.05 L195.46,293.21 L196.91,293.38 L198.36,293.57 L199.82,293.84 L201.27,294.11 L202.72,294.38 L204.18,294.65 L205.63,294.94 L207.08,295.28 L208.54,295.61 L209.99,295.94 L211.44,296.27 L212.89,296.61 L214.35,296.95 L215.8,297.29 L217.25,297.63 L218.71,297.9 L220.16,298.11 L221.61,298.32 L223.06,298.52 L224.52,298.73 L225.97,298.87 L227.42,298.97 L228.88,299.08 L230.33,299.18 L231.78,299.28 L233.24,299.34 L234.69,299.39 L236.14,299.45 L237.59,299.5 L239.05,299.55 L240.5,299.6" fill="none" stroke="#9c4444" stroke-width="0.75"/><path d="M67.6,210.1 C69.67,210.1 76.6,210.13 80,210.1 C83.4,210.07 86.25,210.08 88,209.9 C89.75,209.72 89.75,209.48 90.5,209 C91.25,208.52 91.83,207.92 92.5,207 C93.17,206.08 93.92,204.53 94.5,203.5 C95.08,202.47 95.55,201.45 96,200.8 C96.45,200.15 96.78,199.65 97.2,199.6 C97.62,199.55 98.03,199.93 98.5,200.5 C98.97,201.07 99.5,202.05 100,203 C100.5,203.95 101,205.23 101.5,206.2 C102,207.17 102.48,208.13 103,208.8 C103.52,209.47 103.77,209.83 104.6,210.2 C105.43,210.57 106.6,210.8 108,211 C109.4,211.2 111.33,211.4 113,211.4 C114.67,211.4 116.67,211.2 118,211 C119.33,210.8 119.95,210.48 121,210.2 C122.05,209.92 123.03,209.62 124.3,209.3 C125.57,208.98 127.48,208.42 128.6,208.3 C129.72,208.18 130.1,208.47 131,208.6 C131.9,208.73 133,209.02 134,209.1 C135,209.18 136.12,209.15 137,209.1 C137.88,209.05 138.2,208.95 139.3,208.8 C140.4,208.65 142.35,208.47 143.6,208.2 C144.85,207.93 145.9,207.73 146.8,207.2 C147.7,206.67 148.38,205.55 149,205 C149.62,204.45 150.05,204.13 150.5,203.9 C150.95,203.67 151.33,203.53 151.7,203.6 C152.07,203.67 152.17,203.75 152.7,204.3 C153.23,204.85 154.35,206.62 154.9,206.9 C155.45,207.18 155.65,206.48 156,206 C156.35,205.52 156.57,204.78 157,204 C157.43,203.22 158.07,202 158.6,201.3 C159.13,200.6 159.67,199.72 160.2,199.8 C160.73,199.88 161.25,200.57 161.8,201.8 C162.35,203.03 162.97,205.45 163.5,207.2 C164.03,208.95 164.38,210.73 165,212.3 C165.62,213.87 166.37,215.52 167.2,216.6 C168.03,217.68 168.65,218.25 170,218.8 C171.35,219.35 173.63,219.73 175.3,219.9 C176.97,220.07 178.55,219.97 180,219.8 C181.45,219.63 182.87,219.23 184,218.9 C185.13,218.57 185.97,218.2 186.8,217.8 C187.63,217.4 188.1,216.9 189,216.5 C189.9,216.1 191.2,215.55 192.2,215.4 C193.2,215.25 194.2,215.53 195,215.6 C195.8,215.67 196,215.78 197,215.8 C198,215.82 199.62,215.77 201,215.7 C202.38,215.63 204.13,215.48 205.3,215.4 C206.47,215.32 207.15,215.37 208,215.2 C208.85,215.03 209.65,214.87 210.4,214.4 C211.15,213.93 211.8,213.05 212.5,212.4 C213.2,211.75 214.02,210.63 214.6,210.5 C215.18,210.37 215.58,211.08 216,211.6 C216.42,212.12 216.63,212.45 217.1,213.6 C217.57,214.75 218.23,216.9 218.8,218.5 C219.37,220.1 219.88,221.98 220.5,223.2 C221.12,224.42 221.65,225.13 222.5,225.8 C223.35,226.47 224.35,226.8 225.6,227.2 C226.85,227.6 228.43,227.92 230,228.2 C231.57,228.48 233.25,228.73 235,228.9 C236.75,229.07 239.58,229.15 240.5,229.2" fill="none" stroke="#5e6e6e" stroke-width="0.85"/><path d="M67.6,279.4 C69.67,279.4 77.1,279.45 80,279.4 C82.9,279.35 83.67,279.27 85,279.1 C86.33,278.93 87.08,278.75 88,278.4 C88.92,278.05 89.75,277.65 90.5,277 C91.25,276.35 91.83,275.58 92.5,274.5 C93.17,273.42 93.95,271.62 94.5,270.5 C95.05,269.38 95.45,268.37 95.8,267.8 C96.15,267.23 96.3,267.03 96.6,267.1 C96.9,267.17 97.2,267.55 97.6,268.2 C98,268.85 98.52,270 99,271 C99.48,272 99.92,273.17 100.5,274.2 C101.08,275.23 101.75,276.33 102.5,277.2 C103.25,278.07 104.08,278.85 105,279.4 C105.92,279.95 106.67,280.23 108,280.5 C109.33,280.77 111.33,281.02 113,281 C114.67,280.98 116.67,280.63 118,280.4 C119.33,280.17 120,279.9 121,279.6 C122,279.3 122.93,278.83 124,278.6 C125.07,278.37 126.4,278.1 127.4,278.2 C128.4,278.3 129.18,278.9 130,279.2 C130.82,279.5 131.13,279.82 132.3,280 C133.47,280.18 135.37,280.28 137,280.3 C138.63,280.32 140.77,280.22 142.1,280.1 C143.43,279.98 144.18,279.9 145,279.6 C145.82,279.3 146.45,278.9 147,278.3 C147.55,277.7 147.9,276.98 148.3,276 C148.7,275.02 149,273.35 149.4,272.4 C149.8,271.45 150.25,270.32 150.7,270.3 C151.15,270.28 151.65,271.25 152.1,272.3 C152.55,273.35 152.92,276.15 153.4,276.6 C153.88,277.05 154.33,276.13 155,275 C155.67,273.87 156.65,271.07 157.4,269.8 C158.15,268.53 158.88,267.53 159.5,267.4 C160.12,267.27 160.53,267.48 161.1,269 C161.67,270.52 162.28,274 162.9,276.5 C163.52,279 164.08,281.92 164.8,284 C165.52,286.08 166.33,287.87 167.2,289 C168.07,290.13 168.58,290.4 170,290.8 C171.42,291.2 174.03,291.4 175.7,291.4 C177.37,291.4 178.6,291.1 180,290.8 C181.4,290.5 182.93,290.13 184.1,289.6 C185.27,289.07 186.02,288.3 187,287.6 C187.98,286.9 189.1,285.9 190,285.4 C190.9,284.9 191.65,284.57 192.4,284.6 C193.15,284.63 193.75,285.33 194.5,285.6 C195.25,285.87 195.82,286.2 196.9,286.2 C197.98,286.2 199.6,285.87 201,285.6 C202.4,285.33 204.13,284.9 205.3,284.6 C206.47,284.3 207.15,284.23 208,283.8 C208.85,283.37 209.65,282.9 210.4,282 C211.15,281.1 211.87,279.7 212.5,278.4 C213.13,277.1 213.77,275.12 214.2,274.2 C214.63,273.28 214.77,272.77 215.1,272.9 C215.43,273.03 215.87,274.03 216.2,275 C216.53,275.97 216.67,276.95 217.1,278.7 C217.53,280.45 218.23,283.57 218.8,285.5 C219.37,287.43 219.8,288.78 220.5,290.3 C221.2,291.82 221.87,293.45 223,294.6 C224.13,295.75 225.8,296.57 227.3,297.2 C228.8,297.83 229.8,298.07 232,298.4 C234.2,298.73 239.08,299.07 240.5,299.2" fill="none" stroke="#5e6e6e" stroke-width="0.85"/><line x1="97.5" y1="193" x2="97.5" y2="296" stroke="#5a5a5a" stroke-width="0.75" stroke-dasharray="1.1,1.3"/><line x1="128" y1="194" x2="128" y2="298" stroke="#5a5a5a" stroke-width="0.75" stroke-dasharray="1.1,1.3"/><line x1="142" y1="194" x2="142" y2="298" stroke="#5a5a5a" stroke-width="0.75" stroke-dasharray="1.1,1.3"/><line x1="152.4" y1="187.5" x2="152.4" y2="300" stroke="#5a5a5a" stroke-width="0.75" stroke-dasharray="1.1,1.3"/><line x1="160" y1="189" x2="160" y2="300" stroke="#5a5a5a" stroke-width="0.75" stroke-dasharray="1.1,1.3"/><line x1="192.2" y1="193.5" x2="192.2" y2="300" stroke="#5a5a5a" stroke-width="0.75" stroke-dasharray="1.1,1.3"/><line x1="205.3" y1="193" x2="205.3" y2="300" stroke="#5a5a5a" stroke-width="0.75" stroke-dasharray="1.1,1.3"/><line x1="214.6" y1="193" x2="214.6" y2="300" stroke="#5a5a5a" stroke-width="0.75" stroke-dasharray="1.1,1.3"/><text x="95.3" y="190.6" font-size="6.6" fill="#333">U<tspan font-size="4.8" dx="0.15" dy="-1.2" letter-spacing="-0.15">'''</tspan></text><text x="125.4" y="192.6" font-size="6.6" fill="#333">U<tspan font-size="4.8" dx="0.15" dy="-1.2" letter-spacing="-0.15">''</tspan></text><text x="140.1" y="192.6" font-size="6.6" fill="#333">U<tspan font-size="4.8" dx="0.15" dy="-1.2" letter-spacing="-0.15">'</tspan></text><text x="150.6" y="186.3" font-size="6.6" fill="#333">U</text><text x="158.2" y="187.8" font-size="6.6" fill="#333">V<tspan font-size="4.8" dx="0.15" dy="-1.2" letter-spacing="-0.15">'''</tspan></text><text x="189.6" y="192.2" font-size="6.6" fill="#333">V<tspan font-size="4.8" dx="0.15" dy="-1.2" letter-spacing="-0.15">''</tspan></text><text x="203.0" y="190.6" font-size="6.6" fill="#333">V<tspan font-size="4.8" dx="0.15" dy="-1.2" letter-spacing="-0.15">'</tspan></text><text x="212.5" y="190.7" font-size="6.6" fill="#333">V</text>
<rect x="291" y="171.6" width="172" height="131.6" fill="none" stroke="#777777" stroke-width="1.1"/><line x1="291" y1="237.3" x2="463" y2="237.3" stroke="#777777" stroke-width="1"/><line x1="291.4" y1="303.2" x2="291.4" y2="300.8" stroke="#555" stroke-width="0.7"/><line x1="348.6" y1="303.2" x2="348.6" y2="300.8" stroke="#555" stroke-width="0.7"/><line x1="405.8" y1="303.2" x2="405.8" y2="300.8" stroke="#555" stroke-width="0.7"/><line x1="463" y1="303.2" x2="463" y2="300.8" stroke="#555" stroke-width="0.7"/><line x1="320" y1="303.2" x2="320" y2="301.6" stroke="#555" stroke-width="0.7"/><line x1="377.2" y1="303.2" x2="377.2" y2="301.6" stroke="#555" stroke-width="0.7"/><line x1="434.4" y1="303.2" x2="434.4" y2="301.6" stroke="#555" stroke-width="0.7"/><text x="291.4" y="309.9" font-size="5.4" text-anchor="middle" font-weight="normal" fill="#4a4a4a" >540</text><text x="348.6" y="309.9" font-size="5.4" text-anchor="middle" font-weight="normal" fill="#4a4a4a" >535</text><text x="405.8" y="309.9" font-size="5.4" text-anchor="middle" font-weight="normal" fill="#4a4a4a" >530</text><text x="463" y="309.9" font-size="5.4" text-anchor="middle" font-weight="normal" fill="#4a4a4a" >525</text><text x="346.1" y="320.2" font-size="7.3" font-weight="bold" fill="#141414" stroke="#141414" stroke-width="0.28" textLength="42.9" lengthAdjust="spacingAndGlyphs">Binding Energy</text><text x="395.1" y="320.2" font-size="7.3" fill="#333">(</text><text x="397.6" y="320.2" font-size="7.3" font-weight="bold" fill="#141414" stroke="#141414" stroke-width="0.22" textLength="6.7" lengthAdjust="spacingAndGlyphs">eV</text><text x="405.7" y="320.2" font-size="7.3" fill="#333">)</text><text transform="translate(284,239.8) rotate(-90)" x="-20.25" font-size="7.4" font-weight="bold" fill="#1a1a1a" dy="0.35em" textLength="40.5" lengthAdjust="spacingAndGlyphs">Intensity (a.u)</text><text x="307.9" y="272.4" font-size="10.9" fill="#222" stroke="#222" stroke-width="0.04">(e)</text><text x="293" y="182" font-size="4.9" text-anchor="start" font-weight="normal" fill="#1e1e1e" stroke="#1e1e1e" stroke-width="0.06" >CeO<tspan font-size="3.5" dy="1">2</tspan></text><text x="296" y="248.8" font-size="4.9" text-anchor="start" font-weight="normal" fill="#1e1e1e" stroke="#1e1e1e" stroke-width="0.06" >Co-Mn/CeO<tspan font-size="3.5" dy="1">2</tspan></text><text x="449" y="182.4" font-size="5.0" text-anchor="start" font-weight="normal" fill="#1e1e1e" stroke="#1e1e1e" stroke-width="0.14" >O1s</text><path d="M358,229.02 L358.5,229.02 L358.99,229.03 L359.49,229.03 L359.98,229.03 L360.48,229.03 L360.97,229.04 L361.47,229.04 L361.97,229.04 L362.46,229.04 L362.96,229.04 L363.45,229.04 L363.95,229.04 L364.44,229.04 L364.94,229.04 L365.44,229.03 L365.93,229.02 L366.43,229.01 L366.92,229 L367.42,228.99 L367.91,228.97 L368.41,228.94 L368.91,228.91 L369.4,228.87 L369.9,228.83 L370.39,228.77 L370.89,228.71 L371.38,228.63 L371.88,228.55 L372.38,228.44 L372.87,228.33 L373.37,228.19 L373.86,228.04 L374.36,227.87 L374.85,227.68 L375.35,227.47 L375.85,227.24 L376.34,226.98 L376.84,226.7 L377.33,226.4 L377.83,226.08 L378.32,225.74 L378.82,225.38 L379.32,225 L379.81,224.61 L380.31,224.21 L380.8,223.8 L381.3,223.39 L381.79,222.98 L382.29,222.57 L382.79,222.18 L383.28,221.8 L383.78,221.44 L384.27,221.11 L384.77,220.8 L385.26,220.53 L385.76,220.3 L386.26,220.11 L386.75,219.97 L387.25,219.87 L387.74,219.82 L388.24,219.83 L388.74,219.88 L389.23,219.98 L389.73,220.13 L390.22,220.32 L390.72,220.56 L391.21,220.83 L391.71,221.14 L392.21,221.48 L392.7,221.85 L393.2,222.24 L393.69,222.64 L394.19,223.05 L394.68,223.47 L395.18,223.88 L395.68,224.3 L396.17,224.71 L396.67,225.11 L397.16,225.49 L397.66,225.86 L398.15,226.2 L398.65,226.53 L399.15,226.84 L399.64,227.13 L400.14,227.39 L400.63,227.63 L401.13,227.85 L401.62,228.05 L402.12,228.22 L402.62,228.38 L403.11,228.52 L403.61,228.65 L404.1,228.76 L404.6,228.85 L405.09,228.93 L405.59,229 L406.09,229.07 L406.58,229.12 L407.08,229.16 L407.57,229.2 L408.07,229.23 L408.56,229.26 L409.06,229.28 L409.56,229.3 L410.05,229.31 L410.55,229.33 L411.04,229.34 L411.54,229.35 L412.03,229.36 L412.53,229.37 L413.03,229.37 L413.52,229.38 L414.02,229.38 L414.51,229.39 L415.01,229.39 L415.5,229.4 L416,229.4 L416,229.4 L415.5,229.4 L415.01,229.4 L414.51,229.39 L414.02,229.39 L413.52,229.39 L413.03,229.38 L412.53,229.38 L412.03,229.38 L411.54,229.37 L411.04,229.37 L410.55,229.37 L410.05,229.36 L409.56,229.36 L409.06,229.36 L408.56,229.35 L408.07,229.35 L407.57,229.35 L407.08,229.34 L406.58,229.34 L406.09,229.34 L405.59,229.34 L405.09,229.33 L404.6,229.33 L404.1,229.33 L403.61,229.32 L403.11,229.32 L402.62,229.32 L402.12,229.31 L401.62,229.31 L401.13,229.31 L400.63,229.3 L400.14,229.3 L399.64,229.3 L399.15,229.29 L398.65,229.29 L398.15,229.29 L397.66,229.28 L397.16,229.28 L396.67,229.28 L396.17,229.27 L395.68,229.27 L395.18,229.27 L394.68,229.26 L394.19,229.26 L393.69,229.26 L393.2,229.25 L392.7,229.25 L392.21,229.25 L391.71,229.24 L391.21,229.24 L390.72,229.24 L390.22,229.23 L389.73,229.23 L389.23,229.23 L388.74,229.22 L388.24,229.22 L387.74,229.22 L387.25,229.21 L386.75,229.21 L386.26,229.21 L385.76,229.21 L385.26,229.2 L384.77,229.2 L384.27,229.2 L383.78,229.19 L383.28,229.19 L382.79,229.19 L382.29,229.18 L381.79,229.18 L381.3,229.18 L380.8,229.17 L380.31,229.17 L379.81,229.17 L379.32,229.16 L378.82,229.16 L378.32,229.16 L377.83,229.15 L377.33,229.15 L376.84,229.15 L376.34,229.14 L375.85,229.14 L375.35,229.14 L374.85,229.13 L374.36,229.13 L373.86,229.13 L373.37,229.12 L372.87,229.12 L372.38,229.12 L371.88,229.11 L371.38,229.11 L370.89,229.11 L370.39,229.1 L369.9,229.1 L369.4,229.1 L368.91,229.09 L368.41,229.09 L367.91,229.09 L367.42,229.08 L366.92,229.08 L366.43,229.08 L365.93,229.07 L365.44,229.07 L364.94,229.07 L364.44,229.06 L363.95,229.06 L363.45,229.06 L362.96,229.05 L362.46,229.05 L361.97,229.05 L361.47,229.04 L360.97,229.04 L360.48,229.04 L359.98,229.03 L359.49,229.03 L358.99,229.03 L358.5,229.02 L358,229.02Z" fill="rgba(242,150,162,0.33)"/><path d="M335,228.87 L335.5,228.87 L335.99,228.87 L336.49,228.88 L336.99,228.88 L337.48,228.88 L337.98,228.88 L338.48,228.89 L338.97,228.89 L339.47,228.89 L339.96,228.89 L340.46,228.89 L340.96,228.89 L341.45,228.9 L341.95,228.9 L342.45,228.9 L342.94,228.9 L343.44,228.89 L343.94,228.89 L344.43,228.89 L344.93,228.89 L345.43,228.88 L345.92,228.87 L346.42,228.87 L346.91,228.86 L347.41,228.84 L347.91,228.83 L348.4,228.81 L348.9,228.8 L349.4,228.77 L349.89,228.75 L350.39,228.72 L350.89,228.69 L351.38,228.66 L351.88,228.62 L352.38,228.57 L352.87,228.53 L353.37,228.47 L353.87,228.41 L354.36,228.35 L354.86,228.28 L355.35,228.21 L355.85,228.13 L356.35,228.04 L356.84,227.95 L357.34,227.85 L357.84,227.74 L358.33,227.63 L358.83,227.52 L359.33,227.4 L359.82,227.27 L360.32,227.14 L360.82,227.01 L361.31,226.87 L361.81,226.73 L362.3,226.59 L362.8,226.44 L363.3,226.3 L363.79,226.15 L364.29,226.01 L364.79,225.87 L365.28,225.74 L365.78,225.61 L366.28,225.48 L366.77,225.36 L367.27,225.25 L367.77,225.15 L368.26,225.05 L368.76,224.97 L369.26,224.89 L369.75,224.83 L370.25,224.78 L370.74,224.75 L371.24,224.72 L371.74,224.71 L372.23,224.72 L372.73,224.74 L373.23,224.77 L373.72,224.83 L374.22,224.89 L374.72,224.98 L375.21,225.08 L375.71,225.19 L376.21,225.31 L376.7,225.44 L377.2,225.59 L377.7,225.74 L378.19,225.89 L378.69,226.06 L379.18,226.22 L379.68,226.39 L380.18,226.56 L380.67,226.73 L381.17,226.89 L381.67,227.06 L382.16,227.22 L382.66,227.37 L383.16,227.52 L383.65,227.67 L384.15,227.81 L384.65,227.94 L385.14,228.06 L385.64,228.18 L386.13,228.28 L386.63,228.38 L387.13,228.48 L387.62,228.56 L388.12,228.64 L388.62,228.72 L389.11,228.78 L389.61,228.84 L390.11,228.89 L390.6,228.94 L391.1,228.99 L391.6,229.02 L392.09,229.06 L392.59,229.09 L393.09,229.12 L393.58,229.14 L394.08,229.16 L394.57,229.18 L395.07,229.2 L395.57,229.21 L396.06,229.23 L396.56,229.24 L397.06,229.25 L397.55,229.26 L398.05,229.27 L398.55,229.27 L399.04,229.28 L399.54,229.29 L400.04,229.29 L400.53,229.3 L401.03,229.3 L401.52,229.3 L402.02,229.31 L402.52,229.31 L403.01,229.32 L403.51,229.32 L404.01,229.32 L404.5,229.33 L405,229.33 L405,229.33 L404.5,229.33 L404.01,229.33 L403.51,229.32 L403.01,229.32 L402.52,229.32 L402.02,229.31 L401.52,229.31 L401.03,229.31 L400.53,229.3 L400.04,229.3 L399.54,229.3 L399.04,229.29 L398.55,229.29 L398.05,229.29 L397.55,229.28 L397.06,229.28 L396.56,229.28 L396.06,229.27 L395.57,229.27 L395.07,229.27 L394.57,229.26 L394.08,229.26 L393.58,229.26 L393.09,229.25 L392.59,229.25 L392.09,229.25 L391.6,229.24 L391.1,229.24 L390.6,229.24 L390.11,229.23 L389.61,229.23 L389.11,229.23 L388.62,229.22 L388.12,229.22 L387.62,229.22 L387.13,229.21 L386.63,229.21 L386.13,229.21 L385.64,229.2 L385.14,229.2 L384.65,229.2 L384.15,229.19 L383.65,229.19 L383.16,229.19 L382.66,229.18 L382.16,229.18 L381.67,229.18 L381.17,229.17 L380.67,229.17 L380.18,229.17 L379.68,229.16 L379.18,229.16 L378.69,229.16 L378.19,229.15 L377.7,229.15 L377.2,229.15 L376.7,229.14 L376.21,229.14 L375.71,229.14 L375.21,229.13 L374.72,229.13 L374.22,229.13 L373.72,229.12 L373.23,229.12 L372.73,229.12 L372.23,229.11 L371.74,229.11 L371.24,229.11 L370.74,229.1 L370.25,229.1 L369.75,229.1 L369.26,229.1 L368.76,229.09 L368.26,229.09 L367.77,229.09 L367.27,229.08 L366.77,229.08 L366.28,229.08 L365.78,229.07 L365.28,229.07 L364.79,229.07 L364.29,229.06 L363.79,229.06 L363.3,229.06 L362.8,229.05 L362.3,229.05 L361.81,229.05 L361.31,229.04 L360.82,229.04 L360.32,229.04 L359.82,229.03 L359.33,229.03 L358.83,229.03 L358.33,229.02 L357.84,229.02 L357.34,229.02 L356.84,229.01 L356.35,229.01 L355.85,229.01 L355.35,229 L354.86,229 L354.36,229 L353.87,228.99 L353.37,228.99 L352.87,228.99 L352.38,228.98 L351.88,228.98 L351.38,228.98 L350.89,228.97 L350.39,228.97 L349.89,228.97 L349.4,228.96 L348.9,228.96 L348.4,228.96 L347.91,228.95 L347.41,228.95 L346.91,228.95 L346.42,228.94 L345.92,228.94 L345.43,228.94 L344.93,228.93 L344.43,228.93 L343.94,228.93 L343.44,228.92 L342.94,228.92 L342.45,228.92 L341.95,228.91 L341.45,228.91 L340.96,228.91 L340.46,228.9 L339.96,228.9 L339.47,228.9 L338.97,228.89 L338.48,228.89 L337.98,228.89 L337.48,228.88 L336.99,228.88 L336.49,228.88 L335.99,228.88 L335.5,228.87 L335,228.87Z" fill="rgba(120,192,236,0.75)"/><path d="M300,228.59 L300.5,228.6 L301,228.6 L301.5,228.6 L301.99,228.6 L302.49,228.61 L302.99,228.61 L303.49,228.61 L303.99,228.61 L304.49,228.62 L304.98,228.62 L305.48,228.62 L305.98,228.62 L306.48,228.63 L306.98,228.63 L307.48,228.63 L307.97,228.63 L308.47,228.64 L308.97,228.64 L309.47,228.64 L309.97,228.64 L310.47,228.65 L310.96,228.65 L311.46,228.65 L311.96,228.65 L312.46,228.66 L312.96,228.66 L313.46,228.66 L313.96,228.66 L314.45,228.66 L314.95,228.67 L315.45,228.67 L315.95,228.67 L316.45,228.67 L316.95,228.68 L317.44,228.68 L317.94,228.68 L318.44,228.68 L318.94,228.68 L319.44,228.69 L319.94,228.69 L320.43,228.69 L320.93,228.69 L321.43,228.69 L321.93,228.7 L322.43,228.7 L322.93,228.7 L323.42,228.7 L323.92,228.7 L324.42,228.71 L324.92,228.71 L325.42,228.71 L325.92,228.71 L326.42,228.71 L326.91,228.72 L327.41,228.72 L327.91,228.72 L328.41,228.72 L328.91,228.72 L329.41,228.73 L329.9,228.73 L330.4,228.73 L330.9,228.73 L331.4,228.73 L331.9,228.73 L332.4,228.74 L332.89,228.74 L333.39,228.74 L333.89,228.74 L334.39,228.74 L334.89,228.74 L335.39,228.74 L335.88,228.75 L336.38,228.75 L336.88,228.75 L337.38,228.75 L337.88,228.75 L338.38,228.75 L338.88,228.75 L339.37,228.75 L339.87,228.76 L340.37,228.76 L340.87,228.76 L341.37,228.76 L341.87,228.76 L342.36,228.76 L342.86,228.76 L343.36,228.76 L343.86,228.77 L344.36,228.77 L344.86,228.77 L345.35,228.77 L345.85,228.77 L346.35,228.77 L346.85,228.77 L347.35,228.77 L347.85,228.77 L348.35,228.77 L348.84,228.77 L349.34,228.77 L349.84,228.77 L350.34,228.77 L350.84,228.77 L351.34,228.77 L351.83,228.77 L352.33,228.77 L352.83,228.77 L353.33,228.77 L353.83,228.77 L354.33,228.77 L354.82,228.77 L355.32,228.77 L355.82,228.77 L356.32,228.77 L356.82,228.77 L357.32,228.77 L357.81,228.77 L358.31,228.77 L358.81,228.76 L359.31,228.76 L359.81,228.76 L360.31,228.76 L360.81,228.76 L361.3,228.76 L361.8,228.75 L362.3,228.75 L362.8,228.75 L363.3,228.75 L363.8,228.74 L364.29,228.74 L364.79,228.74 L365.29,228.73 L365.79,228.73 L366.29,228.73 L366.79,228.72 L367.28,228.72 L367.78,228.71 L368.28,228.71 L368.78,228.7 L369.28,228.7 L369.78,228.69 L370.27,228.68 L370.77,228.68 L371.27,228.67 L371.77,228.66 L372.27,228.66 L372.77,228.65 L373.27,228.64 L373.76,228.63 L374.26,228.62 L374.76,228.61 L375.26,228.6 L375.76,228.59 L376.26,228.58 L376.75,228.57 L377.25,228.56 L377.75,228.54 L378.25,228.53 L378.75,228.52 L379.25,228.5 L379.74,228.48 L380.24,228.47 L380.74,228.45 L381.24,228.43 L381.74,228.41 L382.24,228.39 L382.73,228.37 L383.23,228.35 L383.73,228.32 L384.23,228.3 L384.73,228.27 L385.23,228.24 L385.73,228.21 L386.22,228.18 L386.72,228.14 L387.22,228.1 L387.72,228.07 L388.22,228.02 L388.72,227.98 L389.21,227.93 L389.71,227.88 L390.21,227.83 L390.71,227.77 L391.21,227.7 L391.71,227.63 L392.2,227.55 L392.7,227.46 L393.2,227.36 L393.7,227.25 L394.2,227.13 L394.7,226.99 L395.19,226.82 L395.69,226.64 L396.19,226.42 L396.69,226.16 L397.19,225.87 L397.69,225.52 L398.19,225.12 L398.68,224.66 L399.18,224.12 L399.68,223.49 L400.18,222.77 L400.68,221.94 L401.18,221 L401.67,219.93 L402.17,218.73 L402.67,217.38 L403.17,215.89 L403.67,214.24 L404.17,212.44 L404.66,210.49 L405.16,208.4 L405.66,206.18 L406.16,203.83 L406.66,201.39 L407.16,198.88 L407.65,196.32 L408.15,193.76 L408.65,191.24 L409.15,188.8 L409.65,186.51 L410.15,184.41 L410.65,182.57 L411.14,181.05 L411.64,179.9 L412.14,179.17 L412.64,178.88 L413.14,179.06 L413.64,179.69 L414.13,180.75 L414.63,182.19 L415.13,183.96 L415.63,186.01 L416.13,188.27 L416.63,190.68 L417.12,193.2 L417.62,195.76 L418.12,198.33 L418.62,200.86 L419.12,203.33 L419.62,205.7 L420.12,207.96 L420.61,210.09 L421.11,212.08 L421.61,213.93 L422.11,215.62 L422.61,217.15 L423.11,218.54 L423.6,219.79 L424.1,220.89 L424.6,221.87 L425.1,222.73 L425.6,223.49 L426.1,224.14 L426.59,224.71 L427.09,225.2 L427.59,225.62 L428.09,225.99 L428.59,226.3 L429.09,226.57 L429.58,226.8 L430.08,227 L430.58,227.18 L431.08,227.33 L431.58,227.47 L432.08,227.59 L432.58,227.69 L433.07,227.79 L433.57,227.88 L434.07,227.96 L434.57,228.03 L435.07,228.1 L435.57,228.16 L436.06,228.22 L436.56,228.27 L437.06,228.33 L437.56,228.38 L438.06,228.42 L438.56,228.46 L439.05,228.51 L439.55,228.55 L440.05,228.58 L440.55,228.62 L441.05,228.65 L441.55,228.69 L442.04,228.72 L442.54,228.75 L443.04,228.78 L443.54,228.8 L444.04,228.83 L444.54,228.86 L445.04,228.88 L445.53,228.9 L446.03,228.93 L446.53,228.95 L447.03,228.97 L447.53,228.99 L448.03,229.01 L448.52,229.03 L449.02,229.05 L449.52,229.07 L450.02,229.08 L450.52,229.1 L451.02,229.12 L451.51,229.13 L452.01,229.15 L452.51,229.16 L453.01,229.18 L453.51,229.19 L454.01,229.2 L454.5,229.22 L455,229.23 L455.5,229.24 L456,229.26 L456,229.66 L455.5,229.65 L455,229.65 L454.5,229.65 L454.01,229.64 L453.51,229.64 L453.01,229.64 L452.51,229.63 L452.01,229.63 L451.51,229.63 L451.02,229.62 L450.52,229.62 L450.02,229.62 L449.52,229.61 L449.02,229.61 L448.52,229.61 L448.03,229.6 L447.53,229.6 L447.03,229.6 L446.53,229.6 L446.03,229.59 L445.53,229.59 L445.04,229.59 L444.54,229.58 L444.04,229.58 L443.54,229.58 L443.04,229.57 L442.54,229.57 L442.04,229.57 L441.55,229.56 L441.05,229.56 L440.55,229.56 L440.05,229.55 L439.55,229.55 L439.05,229.55 L438.56,229.54 L438.06,229.54 L437.56,229.54 L437.06,229.54 L436.56,229.53 L436.06,229.53 L435.57,229.53 L435.07,229.52 L434.57,229.52 L434.07,229.52 L433.57,229.51 L433.07,229.51 L432.58,229.51 L432.08,229.5 L431.58,229.5 L431.08,229.5 L430.58,229.49 L430.08,229.49 L429.58,229.49 L429.09,229.48 L428.59,229.48 L428.09,229.48 L427.59,229.48 L427.09,229.47 L426.59,229.47 L426.1,229.47 L425.6,229.46 L425.1,229.46 L424.6,229.46 L424.1,229.45 L423.6,229.45 L423.11,229.45 L422.61,229.44 L422.11,229.44 L421.61,229.44 L421.11,229.43 L420.61,229.43 L420.12,229.43 L419.62,229.42 L419.12,229.42 L418.62,229.42 L418.12,229.42 L417.62,229.41 L417.12,229.41 L416.63,229.41 L416.13,229.4 L415.63,229.4 L415.13,229.4 L414.63,229.39 L414.13,229.39 L413.64,229.39 L413.14,229.38 L412.64,229.38 L412.14,229.38 L411.64,229.37 L411.14,229.37 L410.65,229.37 L410.15,229.36 L409.65,229.36 L409.15,229.36 L408.65,229.35 L408.15,229.35 L407.65,229.35 L407.16,229.35 L406.66,229.34 L406.16,229.34 L405.66,229.34 L405.16,229.33 L404.66,229.33 L404.17,229.33 L403.67,229.32 L403.17,229.32 L402.67,229.32 L402.17,229.31 L401.67,229.31 L401.18,229.31 L400.68,229.3 L400.18,229.3 L399.68,229.3 L399.18,229.29 L398.68,229.29 L398.19,229.29 L397.69,229.28 L397.19,229.28 L396.69,229.28 L396.19,229.27 L395.69,229.27 L395.19,229.27 L394.7,229.26 L394.2,229.26 L393.7,229.26 L393.2,229.25 L392.7,229.25 L392.2,229.25 L391.71,229.24 L391.21,229.24 L390.71,229.24 L390.21,229.23 L389.71,229.23 L389.21,229.23 L388.72,229.22 L388.22,229.22 L387.72,229.22 L387.22,229.21 L386.72,229.21 L386.22,229.21 L385.73,229.2 L385.23,229.2 L384.73,229.2 L384.23,229.19 L383.73,229.19 L383.23,229.19 L382.73,229.18 L382.24,229.18 L381.74,229.18 L381.24,229.17 L380.74,229.17 L380.24,229.17 L379.74,229.16 L379.25,229.16 L378.75,229.16 L378.25,229.15 L377.75,229.15 L377.25,229.15 L376.75,229.15 L376.26,229.14 L375.76,229.14 L375.26,229.14 L374.76,229.13 L374.26,229.13 L373.76,229.13 L373.27,229.12 L372.77,229.12 L372.27,229.12 L371.77,229.11 L371.27,229.11 L370.77,229.11 L370.27,229.1 L369.78,229.1 L369.28,229.1 L368.78,229.09 L368.28,229.09 L367.78,229.09 L367.28,229.08 L366.79,229.08 L366.29,229.08 L365.79,229.07 L365.29,229.07 L364.79,229.07 L364.29,229.06 L363.8,229.06 L363.3,229.06 L362.8,229.05 L362.3,229.05 L361.8,229.05 L361.3,229.04 L360.81,229.04 L360.31,229.04 L359.81,229.03 L359.31,229.03 L358.81,229.03 L358.31,229.02 L357.81,229.02 L357.32,229.02 L356.82,229.01 L356.32,229.01 L355.82,229.01 L355.32,229 L354.82,229 L354.33,229 L353.83,228.99 L353.33,228.99 L352.83,228.99 L352.33,228.98 L351.83,228.98 L351.34,228.98 L350.84,228.97 L350.34,228.97 L349.84,228.97 L349.34,228.96 L348.84,228.96 L348.35,228.96 L347.85,228.95 L347.35,228.95 L346.85,228.95 L346.35,228.94 L345.85,228.94 L345.35,228.94 L344.86,228.93 L344.36,228.93 L343.86,228.93 L343.36,228.92 L342.86,228.92 L342.36,228.92 L341.87,228.91 L341.37,228.91 L340.87,228.91 L340.37,228.9 L339.87,228.9 L339.37,228.9 L338.88,228.89 L338.38,228.89 L337.88,228.89 L337.38,228.88 L336.88,228.88 L336.38,228.88 L335.88,228.87 L335.39,228.87 L334.89,228.87 L334.39,228.87 L333.89,228.86 L333.39,228.86 L332.89,228.86 L332.4,228.85 L331.9,228.85 L331.4,228.85 L330.9,228.84 L330.4,228.84 L329.9,228.84 L329.41,228.84 L328.91,228.83 L328.41,228.83 L327.91,228.83 L327.41,228.82 L326.91,228.82 L326.42,228.82 L325.92,228.81 L325.42,228.81 L324.92,228.81 L324.42,228.8 L323.92,228.8 L323.42,228.8 L322.93,228.8 L322.43,228.79 L321.93,228.79 L321.43,228.79 L320.93,228.78 L320.43,228.78 L319.94,228.78 L319.44,228.77 L318.94,228.77 L318.44,228.77 L317.94,228.76 L317.44,228.76 L316.95,228.76 L316.45,228.76 L315.95,228.75 L315.45,228.75 L314.95,228.75 L314.45,228.74 L313.96,228.74 L313.46,228.74 L312.96,228.73 L312.46,228.73 L311.96,228.73 L311.46,228.73 L310.96,228.72 L310.47,228.72 L309.97,228.72 L309.47,228.71 L308.97,228.71 L308.47,228.71 L307.97,228.7 L307.48,228.7 L306.98,228.7 L306.48,228.69 L305.98,228.69 L305.48,228.69 L304.98,228.69 L304.49,228.68 L303.99,228.68 L303.49,228.68 L302.99,228.67 L302.49,228.67 L301.99,228.67 L301.5,228.66 L301,228.66 L300.5,228.66 L300,228.66Z" fill="rgba(110,230,110,0.38)"/><path d="M350,293.8 L350.5,293.8 L350.99,293.81 L351.49,293.81 L351.99,293.81 L352.48,293.82 L352.98,293.82 L353.48,293.82 L353.98,293.82 L354.47,293.82 L354.97,293.82 L355.47,293.82 L355.96,293.82 L356.46,293.81 L356.96,293.81 L357.45,293.8 L357.95,293.79 L358.45,293.77 L358.94,293.75 L359.44,293.73 L359.94,293.7 L360.43,293.67 L360.93,293.63 L361.43,293.59 L361.93,293.53 L362.42,293.47 L362.92,293.39 L363.42,293.31 L363.91,293.21 L364.41,293.09 L364.91,292.96 L365.4,292.81 L365.9,292.64 L366.4,292.44 L366.89,292.23 L367.39,291.98 L367.89,291.71 L368.39,291.41 L368.88,291.07 L369.38,290.7 L369.88,290.29 L370.37,289.85 L370.87,289.36 L371.37,288.83 L371.86,288.25 L372.36,287.63 L372.86,286.96 L373.35,286.25 L373.85,285.49 L374.35,284.68 L374.84,283.83 L375.34,282.93 L375.84,281.99 L376.34,281.01 L376.83,279.99 L377.33,278.93 L377.83,277.85 L378.32,276.74 L378.82,275.61 L379.32,274.47 L379.81,273.31 L380.31,272.16 L380.81,271.01 L381.3,269.88 L381.8,268.77 L382.3,267.68 L382.8,266.64 L383.29,265.64 L383.79,264.69 L384.29,263.8 L384.78,262.99 L385.28,262.24 L385.78,261.58 L386.27,261.01 L386.77,260.52 L387.27,260.14 L387.76,259.85 L388.26,259.67 L388.76,259.59 L389.25,259.62 L389.75,259.75 L390.25,259.99 L390.75,260.33 L391.24,260.76 L391.74,261.3 L392.24,261.92 L392.73,262.63 L393.23,263.41 L393.73,264.27 L394.22,265.2 L394.72,266.18 L395.22,267.21 L395.71,268.28 L396.21,269.39 L396.71,270.52 L397.2,271.67 L397.7,272.83 L398.2,273.99 L398.7,275.15 L399.19,276.3 L399.69,277.43 L400.19,278.54 L400.68,279.62 L401.18,280.67 L401.68,281.68 L402.17,282.65 L402.67,283.58 L403.17,284.47 L403.66,285.31 L404.16,286.11 L404.66,286.86 L405.16,287.56 L405.65,288.22 L406.15,288.83 L406.65,289.39 L407.14,289.91 L407.64,290.39 L408.14,290.83 L408.63,291.23 L409.13,291.59 L409.63,291.92 L410.12,292.22 L410.62,292.49 L411.12,292.73 L411.61,292.94 L412.11,293.13 L412.61,293.3 L413.11,293.45 L413.6,293.59 L414.1,293.7 L414.6,293.81 L415.09,293.89 L415.59,293.97 L416.09,294.04 L416.58,294.1 L417.08,294.15 L417.58,294.2 L418.07,294.23 L418.57,294.27 L419.07,294.3 L419.57,294.32 L420.06,294.34 L420.56,294.36 L421.06,294.38 L421.55,294.39 L422.05,294.4 L422.55,294.41 L423.04,294.42 L423.54,294.43 L424.04,294.44 L424.53,294.44 L425.03,294.45 L425.53,294.45 L426.02,294.46 L426.52,294.46 L427.02,294.47 L427.52,294.47 L428.01,294.48 L428.51,294.48 L429.01,294.48 L429.5,294.49 L430,294.49 L430,294.49 L429.5,294.49 L429.01,294.48 L428.51,294.48 L428.01,294.48 L427.52,294.47 L427.02,294.47 L426.52,294.47 L426.02,294.47 L425.53,294.46 L425.03,294.46 L424.53,294.46 L424.04,294.45 L423.54,294.45 L423.04,294.45 L422.55,294.44 L422.05,294.44 L421.55,294.44 L421.06,294.43 L420.56,294.43 L420.06,294.43 L419.57,294.42 L419.07,294.42 L418.57,294.42 L418.07,294.41 L417.58,294.41 L417.08,294.41 L416.58,294.41 L416.09,294.4 L415.59,294.4 L415.09,294.4 L414.6,294.39 L414.1,294.39 L413.6,294.39 L413.11,294.38 L412.61,294.38 L412.11,294.38 L411.61,294.37 L411.12,294.37 L410.62,294.37 L410.12,294.36 L409.63,294.36 L409.13,294.36 L408.63,294.35 L408.14,294.35 L407.64,294.35 L407.14,294.35 L406.65,294.34 L406.15,294.34 L405.65,294.34 L405.16,294.33 L404.66,294.33 L404.16,294.33 L403.66,294.32 L403.17,294.32 L402.67,294.32 L402.17,294.31 L401.68,294.31 L401.18,294.31 L400.68,294.3 L400.19,294.3 L399.69,294.3 L399.19,294.29 L398.7,294.29 L398.2,294.28 L397.7,294.28 L397.2,294.27 L396.71,294.27 L396.21,294.26 L395.71,294.26 L395.22,294.25 L394.72,294.25 L394.22,294.24 L393.73,294.24 L393.23,294.23 L392.73,294.23 L392.24,294.22 L391.74,294.22 L391.24,294.21 L390.75,294.21 L390.25,294.2 L389.75,294.2 L389.25,294.19 L388.76,294.19 L388.26,294.18 L387.76,294.18 L387.27,294.17 L386.77,294.17 L386.27,294.16 L385.78,294.16 L385.28,294.15 L384.78,294.15 L384.29,294.14 L383.79,294.14 L383.29,294.13 L382.8,294.13 L382.3,294.12 L381.8,294.12 L381.3,294.11 L380.81,294.11 L380.31,294.1 L379.81,294.1 L379.32,294.09 L378.82,294.09 L378.32,294.08 L377.83,294.08 L377.33,294.07 L376.83,294.07 L376.34,294.06 L375.84,294.06 L375.34,294.05 L374.84,294.05 L374.35,294.04 L373.85,294.04 L373.35,294.03 L372.86,294.03 L372.36,294.02 L371.86,294.02 L371.37,294.01 L370.87,294.01 L370.37,294 L369.88,294 L369.38,293.99 L368.88,293.99 L368.39,293.98 L367.89,293.98 L367.39,293.97 L366.89,293.97 L366.4,293.96 L365.9,293.96 L365.4,293.95 L364.91,293.95 L364.41,293.94 L363.91,293.94 L363.42,293.93 L362.92,293.93 L362.42,293.92 L361.93,293.92 L361.43,293.91 L360.93,293.91 L360.43,293.9 L359.94,293.9 L359.44,293.89 L358.94,293.89 L358.45,293.88 L357.95,293.88 L357.45,293.87 L356.96,293.87 L356.46,293.86 L355.96,293.86 L355.47,293.85 L354.97,293.85 L354.47,293.84 L353.98,293.84 L353.48,293.83 L352.98,293.83 L352.48,293.82 L351.99,293.82 L351.49,293.81 L350.99,293.81 L350.5,293.8 L350,293.8Z" fill="rgba(242,150,162,0.33)"/><path d="M330,293.6 L330.5,293.6 L330.99,293.61 L331.49,293.61 L331.99,293.61 L332.48,293.62 L332.98,293.62 L333.48,293.63 L333.98,293.63 L334.47,293.63 L334.97,293.64 L335.47,293.64 L335.96,293.64 L336.46,293.64 L336.96,293.64 L337.45,293.64 L337.95,293.64 L338.45,293.64 L338.94,293.64 L339.44,293.63 L339.94,293.63 L340.43,293.62 L340.93,293.62 L341.43,293.61 L341.93,293.59 L342.42,293.58 L342.92,293.56 L343.42,293.55 L343.91,293.52 L344.41,293.5 L344.91,293.47 L345.4,293.44 L345.9,293.4 L346.4,293.36 L346.89,293.31 L347.39,293.26 L347.89,293.2 L348.39,293.14 L348.88,293.07 L349.38,293 L349.88,292.92 L350.37,292.83 L350.87,292.73 L351.37,292.63 L351.86,292.52 L352.36,292.4 L352.86,292.27 L353.35,292.13 L353.85,291.99 L354.35,291.84 L354.84,291.68 L355.34,291.51 L355.84,291.33 L356.34,291.15 L356.83,290.96 L357.33,290.76 L357.83,290.56 L358.32,290.36 L358.82,290.15 L359.32,289.93 L359.81,289.72 L360.31,289.5 L360.81,289.28 L361.3,289.06 L361.8,288.85 L362.3,288.64 L362.8,288.43 L363.29,288.23 L363.79,288.03 L364.29,287.84 L364.78,287.66 L365.28,287.5 L365.78,287.34 L366.27,287.2 L366.77,287.06 L367.27,286.95 L367.76,286.85 L368.26,286.77 L368.76,286.7 L369.25,286.65 L369.75,286.62 L370.25,286.6 L370.75,286.61 L371.24,286.64 L371.74,286.71 L372.24,286.79 L372.73,286.91 L373.23,287.05 L373.73,287.22 L374.22,287.4 L374.72,287.61 L375.22,287.83 L375.71,288.07 L376.21,288.33 L376.71,288.59 L377.2,288.86 L377.7,289.14 L378.2,289.42 L378.7,289.71 L379.19,289.99 L379.69,290.27 L380.19,290.55 L380.68,290.82 L381.18,291.08 L381.68,291.33 L382.17,291.57 L382.67,291.8 L383.17,292.02 L383.66,292.23 L384.16,292.42 L384.66,292.6 L385.16,292.77 L385.65,292.93 L386.15,293.07 L386.65,293.2 L387.14,293.32 L387.64,293.43 L388.14,293.53 L388.63,293.62 L389.13,293.7 L389.63,293.77 L390.12,293.84 L390.62,293.89 L391.12,293.94 L391.61,293.99 L392.11,294.03 L392.61,294.06 L393.11,294.09 L393.6,294.12 L394.1,294.15 L394.6,294.17 L395.09,294.19 L395.59,294.2 L396.09,294.22 L396.58,294.23 L397.08,294.24 L397.58,294.25 L398.07,294.26 L398.57,294.27 L399.07,294.28 L399.57,294.29 L400.06,294.29 L400.56,294.3 L401.06,294.3 L401.55,294.31 L402.05,294.31 L402.55,294.31 L403.04,294.32 L403.54,294.32 L404.04,294.32 L404.53,294.33 L405.03,294.33 L405.53,294.33 L406.02,294.34 L406.52,294.34 L407.02,294.34 L407.52,294.35 L408.01,294.35 L408.51,294.35 L409.01,294.36 L409.5,294.36 L410,294.36 L410,294.36 L409.5,294.36 L409.01,294.36 L408.51,294.35 L408.01,294.35 L407.52,294.35 L407.02,294.34 L406.52,294.34 L406.02,294.34 L405.53,294.34 L405.03,294.33 L404.53,294.33 L404.04,294.33 L403.54,294.32 L403.04,294.32 L402.55,294.32 L402.05,294.31 L401.55,294.31 L401.06,294.31 L400.56,294.3 L400.06,294.3 L399.57,294.3 L399.07,294.29 L398.57,294.29 L398.07,294.28 L397.58,294.28 L397.08,294.27 L396.58,294.27 L396.09,294.26 L395.59,294.26 L395.09,294.25 L394.6,294.25 L394.1,294.24 L393.6,294.24 L393.11,294.23 L392.61,294.23 L392.11,294.22 L391.61,294.22 L391.12,294.21 L390.62,294.21 L390.12,294.2 L389.63,294.2 L389.13,294.19 L388.63,294.19 L388.14,294.18 L387.64,294.18 L387.14,294.17 L386.65,294.17 L386.15,294.16 L385.65,294.16 L385.16,294.15 L384.66,294.15 L384.16,294.14 L383.66,294.14 L383.17,294.13 L382.67,294.13 L382.17,294.12 L381.68,294.12 L381.18,294.11 L380.68,294.11 L380.19,294.1 L379.69,294.1 L379.19,294.09 L378.7,294.09 L378.2,294.08 L377.7,294.08 L377.2,294.07 L376.71,294.07 L376.21,294.06 L375.71,294.06 L375.22,294.05 L374.72,294.05 L374.22,294.04 L373.73,294.04 L373.23,294.03 L372.73,294.03 L372.24,294.02 L371.74,294.02 L371.24,294.01 L370.75,294.01 L370.25,294 L369.75,294 L369.25,293.99 L368.76,293.99 L368.26,293.98 L367.76,293.98 L367.27,293.97 L366.77,293.97 L366.27,293.96 L365.78,293.96 L365.28,293.95 L364.78,293.95 L364.29,293.94 L363.79,293.94 L363.29,293.93 L362.8,293.93 L362.3,293.92 L361.8,293.92 L361.3,293.91 L360.81,293.91 L360.31,293.9 L359.81,293.9 L359.32,293.89 L358.82,293.89 L358.32,293.88 L357.83,293.88 L357.33,293.87 L356.83,293.87 L356.34,293.86 L355.84,293.86 L355.34,293.85 L354.84,293.85 L354.35,293.84 L353.85,293.84 L353.35,293.83 L352.86,293.83 L352.36,293.82 L351.86,293.82 L351.37,293.81 L350.87,293.81 L350.37,293.8 L349.88,293.8 L349.38,293.79 L348.88,293.79 L348.39,293.78 L347.89,293.78 L347.39,293.77 L346.89,293.77 L346.4,293.76 L345.9,293.76 L345.4,293.75 L344.91,293.75 L344.41,293.74 L343.91,293.74 L343.42,293.73 L342.92,293.73 L342.42,293.72 L341.93,293.72 L341.43,293.71 L340.93,293.71 L340.43,293.7 L339.94,293.7 L339.44,293.69 L338.94,293.69 L338.45,293.68 L337.95,293.68 L337.45,293.67 L336.96,293.67 L336.46,293.66 L335.96,293.66 L335.47,293.65 L334.97,293.65 L334.47,293.64 L333.98,293.64 L333.48,293.63 L332.98,293.63 L332.48,293.62 L331.99,293.62 L331.49,293.61 L330.99,293.61 L330.5,293.6 L330,293.6Z" fill="rgba(120,192,236,0.75)"/><path d="M300,293.23 L300.5,293.23 L301,293.23 L301.5,293.24 L301.99,293.24 L302.49,293.25 L302.99,293.25 L303.49,293.26 L303.99,293.26 L304.49,293.27 L304.98,293.27 L305.48,293.27 L305.98,293.28 L306.48,293.28 L306.98,293.29 L307.48,293.29 L307.97,293.3 L308.47,293.3 L308.97,293.31 L309.47,293.31 L309.97,293.31 L310.47,293.32 L310.96,293.32 L311.46,293.33 L311.96,293.33 L312.46,293.34 L312.96,293.34 L313.46,293.34 L313.96,293.35 L314.45,293.35 L314.95,293.36 L315.45,293.36 L315.95,293.36 L316.45,293.37 L316.95,293.37 L317.44,293.38 L317.94,293.38 L318.44,293.38 L318.94,293.39 L319.44,293.39 L319.94,293.4 L320.43,293.4 L320.93,293.4 L321.43,293.41 L321.93,293.41 L322.43,293.42 L322.93,293.42 L323.42,293.42 L323.92,293.43 L324.42,293.43 L324.92,293.44 L325.42,293.44 L325.92,293.44 L326.42,293.45 L326.91,293.45 L327.41,293.45 L327.91,293.46 L328.41,293.46 L328.91,293.47 L329.41,293.47 L329.9,293.47 L330.4,293.48 L330.9,293.48 L331.4,293.48 L331.9,293.49 L332.4,293.49 L332.89,293.49 L333.39,293.5 L333.89,293.5 L334.39,293.5 L334.89,293.51 L335.39,293.51 L335.88,293.51 L336.38,293.52 L336.88,293.52 L337.38,293.52 L337.88,293.53 L338.38,293.53 L338.88,293.53 L339.37,293.53 L339.87,293.54 L340.37,293.54 L340.87,293.54 L341.37,293.55 L341.87,293.55 L342.36,293.55 L342.86,293.55 L343.36,293.56 L343.86,293.56 L344.36,293.56 L344.86,293.56 L345.35,293.56 L345.85,293.57 L346.35,293.57 L346.85,293.57 L347.35,293.57 L347.85,293.57 L348.35,293.58 L348.84,293.58 L349.34,293.58 L349.84,293.58 L350.34,293.58 L350.84,293.58 L351.34,293.58 L351.83,293.59 L352.33,293.59 L352.83,293.59 L353.33,293.59 L353.83,293.59 L354.33,293.59 L354.82,293.59 L355.32,293.59 L355.82,293.59 L356.32,293.59 L356.82,293.59 L357.32,293.59 L357.81,293.59 L358.31,293.59 L358.81,293.59 L359.31,293.59 L359.81,293.59 L360.31,293.59 L360.81,293.59 L361.3,293.58 L361.8,293.58 L362.3,293.58 L362.8,293.58 L363.3,293.58 L363.8,293.57 L364.29,293.57 L364.79,293.57 L365.29,293.56 L365.79,293.56 L366.29,293.56 L366.79,293.55 L367.28,293.55 L367.78,293.54 L368.28,293.54 L368.78,293.53 L369.28,293.53 L369.78,293.52 L370.27,293.51 L370.77,293.51 L371.27,293.5 L371.77,293.49 L372.27,293.48 L372.77,293.47 L373.27,293.46 L373.76,293.45 L374.26,293.44 L374.76,293.43 L375.26,293.42 L375.76,293.41 L376.26,293.39 L376.75,293.38 L377.25,293.36 L377.75,293.35 L378.25,293.33 L378.75,293.31 L379.25,293.3 L379.74,293.28 L380.24,293.25 L380.74,293.23 L381.24,293.21 L381.74,293.18 L382.24,293.16 L382.73,293.13 L383.23,293.1 L383.73,293.07 L384.23,293.03 L384.73,293 L385.23,292.96 L385.73,292.92 L386.22,292.87 L386.72,292.83 L387.22,292.77 L387.72,292.72 L388.22,292.66 L388.72,292.6 L389.21,292.53 L389.71,292.45 L390.21,292.37 L390.71,292.27 L391.21,292.17 L391.71,292.05 L392.2,291.92 L392.7,291.77 L393.2,291.6 L393.7,291.4 L394.2,291.17 L394.7,290.91 L395.19,290.61 L395.69,290.26 L396.19,289.85 L396.69,289.38 L397.19,288.84 L397.69,288.21 L398.19,287.5 L398.68,286.69 L399.18,285.76 L399.68,284.73 L400.18,283.56 L400.68,282.26 L401.18,280.83 L401.67,279.26 L402.17,277.56 L402.67,275.72 L403.17,273.75 L403.67,271.67 L404.17,269.49 L404.66,267.23 L405.16,264.91 L405.66,262.57 L406.16,260.23 L406.66,257.96 L407.16,255.78 L407.65,253.75 L408.15,251.94 L408.65,250.4 L409.15,249.19 L409.65,248.35 L410.15,247.92 L410.65,247.92 L411.14,248.35 L411.64,249.19 L412.14,250.4 L412.64,251.95 L413.14,253.76 L413.64,255.79 L414.13,257.97 L414.63,260.25 L415.13,262.59 L415.63,264.94 L416.13,267.27 L416.63,269.54 L417.12,271.72 L417.62,273.81 L418.12,275.79 L418.62,277.64 L419.12,279.35 L419.62,280.93 L420.12,282.37 L420.61,283.67 L421.11,284.85 L421.61,285.89 L422.11,286.83 L422.61,287.65 L423.11,288.37 L423.6,289.01 L424.1,289.56 L424.6,290.04 L425.1,290.45 L425.6,290.81 L426.1,291.13 L426.59,291.4 L427.09,291.63 L427.59,291.84 L428.09,292.02 L428.59,292.18 L429.09,292.32 L429.58,292.44 L430.08,292.56 L430.58,292.66 L431.08,292.75 L431.58,292.84 L432.08,292.91 L432.58,292.99 L433.07,293.05 L433.57,293.11 L434.07,293.17 L434.57,293.23 L435.07,293.28 L435.57,293.33 L436.06,293.38 L436.56,293.42 L437.06,293.46 L437.56,293.5 L438.06,293.54 L438.56,293.58 L439.05,293.61 L439.55,293.65 L440.05,293.68 L440.55,293.71 L441.05,293.74 L441.55,293.77 L442.04,293.79 L442.54,293.82 L443.04,293.84 L443.54,293.87 L444.04,293.89 L444.54,293.91 L445.04,293.94 L445.53,293.96 L446.03,293.98 L446.53,294 L447.03,294.01 L447.53,294.03 L448.03,294.05 L448.52,294.07 L449.02,294.08 L449.52,294.1 L450.02,294.12 L450.52,294.13 L451.02,294.15 L451.51,294.16 L452.01,294.17 L452.51,294.19 L453.01,294.2 L453.51,294.21 L454.01,294.23 L454.5,294.24 L455,294.25 L455.5,294.26 L456,294.27 L456,294.66 L455.5,294.65 L455,294.65 L454.5,294.65 L454.01,294.64 L453.51,294.64 L453.01,294.64 L452.51,294.63 L452.01,294.63 L451.51,294.63 L451.02,294.62 L450.52,294.62 L450.02,294.62 L449.52,294.61 L449.02,294.61 L448.52,294.61 L448.03,294.6 L447.53,294.6 L447.03,294.6 L446.53,294.6 L446.03,294.59 L445.53,294.59 L445.04,294.59 L444.54,294.58 L444.04,294.58 L443.54,294.58 L443.04,294.57 L442.54,294.57 L442.04,294.57 L441.55,294.56 L441.05,294.56 L440.55,294.56 L440.05,294.55 L439.55,294.55 L439.05,294.55 L438.56,294.54 L438.06,294.54 L437.56,294.54 L437.06,294.54 L436.56,294.53 L436.06,294.53 L435.57,294.53 L435.07,294.52 L434.57,294.52 L434.07,294.52 L433.57,294.51 L433.07,294.51 L432.58,294.51 L432.08,294.5 L431.58,294.5 L431.08,294.5 L430.58,294.49 L430.08,294.49 L429.58,294.49 L429.09,294.48 L428.59,294.48 L428.09,294.48 L427.59,294.48 L427.09,294.47 L426.59,294.47 L426.1,294.47 L425.6,294.46 L425.1,294.46 L424.6,294.46 L424.1,294.45 L423.6,294.45 L423.11,294.45 L422.61,294.44 L422.11,294.44 L421.61,294.44 L421.11,294.43 L420.61,294.43 L420.12,294.43 L419.62,294.42 L419.12,294.42 L418.62,294.42 L418.12,294.42 L417.62,294.41 L417.12,294.41 L416.63,294.41 L416.13,294.4 L415.63,294.4 L415.13,294.4 L414.63,294.39 L414.13,294.39 L413.64,294.39 L413.14,294.38 L412.64,294.38 L412.14,294.38 L411.64,294.37 L411.14,294.37 L410.65,294.37 L410.15,294.36 L409.65,294.36 L409.15,294.36 L408.65,294.35 L408.15,294.35 L407.65,294.35 L407.16,294.35 L406.66,294.34 L406.16,294.34 L405.66,294.34 L405.16,294.33 L404.66,294.33 L404.17,294.33 L403.67,294.32 L403.17,294.32 L402.67,294.32 L402.17,294.31 L401.67,294.31 L401.18,294.31 L400.68,294.3 L400.18,294.3 L399.68,294.3 L399.18,294.29 L398.68,294.29 L398.19,294.28 L397.69,294.28 L397.19,294.27 L396.69,294.27 L396.19,294.26 L395.69,294.26 L395.19,294.25 L394.7,294.25 L394.2,294.24 L393.7,294.24 L393.2,294.23 L392.7,294.23 L392.2,294.22 L391.71,294.22 L391.21,294.21 L390.71,294.21 L390.21,294.2 L389.71,294.2 L389.21,294.19 L388.72,294.19 L388.22,294.18 L387.72,294.18 L387.22,294.17 L386.72,294.17 L386.22,294.16 L385.73,294.16 L385.23,294.15 L384.73,294.15 L384.23,294.14 L383.73,294.14 L383.23,294.13 L382.73,294.13 L382.24,294.12 L381.74,294.12 L381.24,294.11 L380.74,294.11 L380.24,294.1 L379.74,294.1 L379.25,294.09 L378.75,294.09 L378.25,294.08 L377.75,294.08 L377.25,294.07 L376.75,294.07 L376.26,294.06 L375.76,294.06 L375.26,294.05 L374.76,294.05 L374.26,294.04 L373.76,294.04 L373.27,294.03 L372.77,294.03 L372.27,294.02 L371.77,294.02 L371.27,294.01 L370.77,294.01 L370.27,294 L369.78,294 L369.28,293.99 L368.78,293.99 L368.28,293.98 L367.78,293.98 L367.28,293.97 L366.79,293.97 L366.29,293.96 L365.79,293.96 L365.29,293.95 L364.79,293.95 L364.29,293.94 L363.8,293.94 L363.3,293.93 L362.8,293.93 L362.3,293.92 L361.8,293.92 L361.3,293.91 L360.81,293.91 L360.31,293.9 L359.81,293.9 L359.31,293.89 L358.81,293.89 L358.31,293.88 L357.81,293.88 L357.32,293.87 L356.82,293.87 L356.32,293.86 L355.82,293.86 L355.32,293.85 L354.82,293.85 L354.33,293.84 L353.83,293.84 L353.33,293.83 L352.83,293.83 L352.33,293.82 L351.83,293.82 L351.34,293.81 L350.84,293.81 L350.34,293.8 L349.84,293.8 L349.34,293.79 L348.84,293.79 L348.35,293.78 L347.85,293.78 L347.35,293.77 L346.85,293.77 L346.35,293.76 L345.85,293.76 L345.35,293.75 L344.86,293.75 L344.36,293.74 L343.86,293.74 L343.36,293.73 L342.86,293.73 L342.36,293.72 L341.87,293.72 L341.37,293.71 L340.87,293.71 L340.37,293.7 L339.87,293.7 L339.37,293.69 L338.88,293.69 L338.38,293.68 L337.88,293.68 L337.38,293.67 L336.88,293.67 L336.38,293.66 L335.88,293.66 L335.39,293.65 L334.89,293.65 L334.39,293.64 L333.89,293.64 L333.39,293.63 L332.89,293.63 L332.4,293.62 L331.9,293.62 L331.4,293.61 L330.9,293.61 L330.4,293.6 L329.9,293.6 L329.41,293.59 L328.91,293.59 L328.41,293.58 L327.91,293.58 L327.41,293.57 L326.91,293.57 L326.42,293.56 L325.92,293.56 L325.42,293.55 L324.92,293.55 L324.42,293.54 L323.92,293.54 L323.42,293.53 L322.93,293.53 L322.43,293.52 L321.93,293.52 L321.43,293.51 L320.93,293.51 L320.43,293.5 L319.94,293.5 L319.44,293.49 L318.94,293.49 L318.44,293.48 L317.94,293.47 L317.44,293.47 L316.95,293.46 L316.45,293.46 L315.95,293.45 L315.45,293.45 L314.95,293.44 L314.45,293.44 L313.96,293.43 L313.46,293.43 L312.96,293.42 L312.46,293.42 L311.96,293.41 L311.46,293.41 L310.96,293.4 L310.47,293.4 L309.97,293.39 L309.47,293.39 L308.97,293.38 L308.47,293.38 L307.97,293.37 L307.48,293.37 L306.98,293.36 L306.48,293.36 L305.98,293.35 L305.48,293.35 L304.98,293.34 L304.49,293.34 L303.99,293.33 L303.49,293.33 L302.99,293.32 L302.49,293.32 L301.99,293.31 L301.5,293.31 L301,293.3 L300.5,293.3 L300,293.29Z" fill="rgba(110,230,110,0.38)"/><path d="M358,229.02 L358.5,229.02 L358.99,229.03 L359.49,229.03 L359.98,229.03 L360.48,229.03 L360.97,229.04 L361.47,229.04 L361.97,229.04 L362.46,229.04 L362.96,229.04 L363.45,229.04 L363.95,229.04 L364.44,229.04 L364.94,229.04 L365.44,229.03 L365.93,229.02 L366.43,229.01 L366.92,229 L367.42,228.99 L367.91,228.97 L368.41,228.94 L368.91,228.91 L369.4,228.87 L369.9,228.83 L370.39,228.77 L370.89,228.71 L371.38,228.63 L371.88,228.55 L372.38,228.44 L372.87,228.33 L373.37,228.19 L373.86,228.04 L374.36,227.87 L374.85,227.68 L375.35,227.47 L375.85,227.24 L376.34,226.98 L376.84,226.7 L377.33,226.4 L377.83,226.08 L378.32,225.74 L378.82,225.38 L379.32,225 L379.81,224.61 L380.31,224.21 L380.8,223.8 L381.3,223.39 L381.79,222.98 L382.29,222.57 L382.79,222.18 L383.28,221.8 L383.78,221.44 L384.27,221.11 L384.77,220.8 L385.26,220.53 L385.76,220.3 L386.26,220.11 L386.75,219.97 L387.25,219.87 L387.74,219.82 L388.24,219.83 L388.74,219.88 L389.23,219.98 L389.73,220.13 L390.22,220.32 L390.72,220.56 L391.21,220.83 L391.71,221.14 L392.21,221.48 L392.7,221.85 L393.2,222.24 L393.69,222.64 L394.19,223.05 L394.68,223.47 L395.18,223.88 L395.68,224.3 L396.17,224.71 L396.67,225.11 L397.16,225.49 L397.66,225.86 L398.15,226.2 L398.65,226.53 L399.15,226.84 L399.64,227.13 L400.14,227.39 L400.63,227.63 L401.13,227.85 L401.62,228.05 L402.12,228.22 L402.62,228.38 L403.11,228.52 L403.61,228.65 L404.1,228.76 L404.6,228.85 L405.09,228.93 L405.59,229 L406.09,229.07 L406.58,229.12 L407.08,229.16 L407.57,229.2 L408.07,229.23 L408.56,229.26 L409.06,229.28 L409.56,229.3 L410.05,229.31 L410.55,229.33 L411.04,229.34 L411.54,229.35 L412.03,229.36 L412.53,229.37 L413.03,229.37 L413.52,229.38 L414.02,229.38 L414.51,229.39 L415.01,229.39 L415.5,229.4 L416,229.4" fill="none" stroke="#e05868" stroke-width="0.6"/><path d="M335,228.87 L335.5,228.87 L335.99,228.87 L336.49,228.88 L336.99,228.88 L337.48,228.88 L337.98,228.88 L338.48,228.89 L338.97,228.89 L339.47,228.89 L339.96,228.89 L340.46,228.89 L340.96,228.89 L341.45,228.9 L341.95,228.9 L342.45,228.9 L342.94,228.9 L343.44,228.89 L343.94,228.89 L344.43,228.89 L344.93,228.89 L345.43,228.88 L345.92,228.87 L346.42,228.87 L346.91,228.86 L347.41,228.84 L347.91,228.83 L348.4,228.81 L348.9,228.8 L349.4,228.77 L349.89,228.75 L350.39,228.72 L350.89,228.69 L351.38,228.66 L351.88,228.62 L352.38,228.57 L352.87,228.53 L353.37,228.47 L353.87,228.41 L354.36,228.35 L354.86,228.28 L355.35,228.21 L355.85,228.13 L356.35,228.04 L356.84,227.95 L357.34,227.85 L357.84,227.74 L358.33,227.63 L358.83,227.52 L359.33,227.4 L359.82,227.27 L360.32,227.14 L360.82,227.01 L361.31,226.87 L361.81,226.73 L362.3,226.59 L362.8,226.44 L363.3,226.3 L363.79,226.15 L364.29,226.01 L364.79,225.87 L365.28,225.74 L365.78,225.61 L366.28,225.48 L366.77,225.36 L367.27,225.25 L367.77,225.15 L368.26,225.05 L368.76,224.97 L369.26,224.89 L369.75,224.83 L370.25,224.78 L370.74,224.75 L371.24,224.72 L371.74,224.71 L372.23,224.72 L372.73,224.74 L373.23,224.77 L373.72,224.83 L374.22,224.89 L374.72,224.98 L375.21,225.08 L375.71,225.19 L376.21,225.31 L376.7,225.44 L377.2,225.59 L377.7,225.74 L378.19,225.89 L378.69,226.06 L379.18,226.22 L379.68,226.39 L380.18,226.56 L380.67,226.73 L381.17,226.89 L381.67,227.06 L382.16,227.22 L382.66,227.37 L383.16,227.52 L383.65,227.67 L384.15,227.81 L384.65,227.94 L385.14,228.06 L385.64,228.18 L386.13,228.28 L386.63,228.38 L387.13,228.48 L387.62,228.56 L388.12,228.64 L388.62,228.72 L389.11,228.78 L389.61,228.84 L390.11,228.89 L390.6,228.94 L391.1,228.99 L391.6,229.02 L392.09,229.06 L392.59,229.09 L393.09,229.12 L393.58,229.14 L394.08,229.16 L394.57,229.18 L395.07,229.2 L395.57,229.21 L396.06,229.23 L396.56,229.24 L397.06,229.25 L397.55,229.26 L398.05,229.27 L398.55,229.27 L399.04,229.28 L399.54,229.29 L400.04,229.29 L400.53,229.3 L401.03,229.3 L401.52,229.3 L402.02,229.31 L402.52,229.31 L403.01,229.32 L403.51,229.32 L404.01,229.32 L404.5,229.33 L405,229.33" fill="none" stroke="#3c88d8" stroke-width="0.6"/><path d="M300,228.59 L300.5,228.6 L301,228.6 L301.5,228.6 L301.99,228.6 L302.49,228.61 L302.99,228.61 L303.49,228.61 L303.99,228.61 L304.49,228.62 L304.98,228.62 L305.48,228.62 L305.98,228.62 L306.48,228.63 L306.98,228.63 L307.48,228.63 L307.97,228.63 L308.47,228.64 L308.97,228.64 L309.47,228.64 L309.97,228.64 L310.47,228.65 L310.96,228.65 L311.46,228.65 L311.96,228.65 L312.46,228.66 L312.96,228.66 L313.46,228.66 L313.96,228.66 L314.45,228.66 L314.95,228.67 L315.45,228.67 L315.95,228.67 L316.45,228.67 L316.95,228.68 L317.44,228.68 L317.94,228.68 L318.44,228.68 L318.94,228.68 L319.44,228.69 L319.94,228.69 L320.43,228.69 L320.93,228.69 L321.43,228.69 L321.93,228.7 L322.43,228.7 L322.93,228.7 L323.42,228.7 L323.92,228.7 L324.42,228.71 L324.92,228.71 L325.42,228.71 L325.92,228.71 L326.42,228.71 L326.91,228.72 L327.41,228.72 L327.91,228.72 L328.41,228.72 L328.91,228.72 L329.41,228.73 L329.9,228.73 L330.4,228.73 L330.9,228.73 L331.4,228.73 L331.9,228.73 L332.4,228.74 L332.89,228.74 L333.39,228.74 L333.89,228.74 L334.39,228.74 L334.89,228.74 L335.39,228.74 L335.88,228.75 L336.38,228.75 L336.88,228.75 L337.38,228.75 L337.88,228.75 L338.38,228.75 L338.88,228.75 L339.37,228.75 L339.87,228.76 L340.37,228.76 L340.87,228.76 L341.37,228.76 L341.87,228.76 L342.36,228.76 L342.86,228.76 L343.36,228.76 L343.86,228.77 L344.36,228.77 L344.86,228.77 L345.35,228.77 L345.85,228.77 L346.35,228.77 L346.85,228.77 L347.35,228.77 L347.85,228.77 L348.35,228.77 L348.84,228.77 L349.34,228.77 L349.84,228.77 L350.34,228.77 L350.84,228.77 L351.34,228.77 L351.83,228.77 L352.33,228.77 L352.83,228.77 L353.33,228.77 L353.83,228.77 L354.33,228.77 L354.82,228.77 L355.32,228.77 L355.82,228.77 L356.32,228.77 L356.82,228.77 L357.32,228.77 L357.81,228.77 L358.31,228.77 L358.81,228.76 L359.31,228.76 L359.81,228.76 L360.31,228.76 L360.81,228.76 L361.3,228.76 L361.8,228.75 L362.3,228.75 L362.8,228.75 L363.3,228.75 L363.8,228.74 L364.29,228.74 L364.79,228.74 L365.29,228.73 L365.79,228.73 L366.29,228.73 L366.79,228.72 L367.28,228.72 L367.78,228.71 L368.28,228.71 L368.78,228.7 L369.28,228.7 L369.78,228.69 L370.27,228.68 L370.77,228.68 L371.27,228.67 L371.77,228.66 L372.27,228.66 L372.77,228.65 L373.27,228.64 L373.76,228.63 L374.26,228.62 L374.76,228.61 L375.26,228.6 L375.76,228.59 L376.26,228.58 L376.75,228.57 L377.25,228.56 L377.75,228.54 L378.25,228.53 L378.75,228.52 L379.25,228.5 L379.74,228.48 L380.24,228.47 L380.74,228.45 L381.24,228.43 L381.74,228.41 L382.24,228.39 L382.73,228.37 L383.23,228.35 L383.73,228.32 L384.23,228.3 L384.73,228.27 L385.23,228.24 L385.73,228.21 L386.22,228.18 L386.72,228.14 L387.22,228.1 L387.72,228.07 L388.22,228.02 L388.72,227.98 L389.21,227.93 L389.71,227.88 L390.21,227.83 L390.71,227.77 L391.21,227.7 L391.71,227.63 L392.2,227.55 L392.7,227.46 L393.2,227.36 L393.7,227.25 L394.2,227.13 L394.7,226.99 L395.19,226.82 L395.69,226.64 L396.19,226.42 L396.69,226.16 L397.19,225.87 L397.69,225.52 L398.19,225.12 L398.68,224.66 L399.18,224.12 L399.68,223.49 L400.18,222.77 L400.68,221.94 L401.18,221 L401.67,219.93 L402.17,218.73 L402.67,217.38 L403.17,215.89 L403.67,214.24 L404.17,212.44 L404.66,210.49 L405.16,208.4 L405.66,206.18 L406.16,203.83 L406.66,201.39 L407.16,198.88 L407.65,196.32 L408.15,193.76 L408.65,191.24 L409.15,188.8 L409.65,186.51 L410.15,184.41 L410.65,182.57 L411.14,181.05 L411.64,179.9 L412.14,179.17 L412.64,178.88 L413.14,179.06 L413.64,179.69 L414.13,180.75 L414.63,182.19 L415.13,183.96 L415.63,186.01 L416.13,188.27 L416.63,190.68 L417.12,193.2 L417.62,195.76 L418.12,198.33 L418.62,200.86 L419.12,203.33 L419.62,205.7 L420.12,207.96 L420.61,210.09 L421.11,212.08 L421.61,213.93 L422.11,215.62 L422.61,217.15 L423.11,218.54 L423.6,219.79 L424.1,220.89 L424.6,221.87 L425.1,222.73 L425.6,223.49 L426.1,224.14 L426.59,224.71 L427.09,225.2 L427.59,225.62 L428.09,225.99 L428.59,226.3 L429.09,226.57 L429.58,226.8 L430.08,227 L430.58,227.18 L431.08,227.33 L431.58,227.47 L432.08,227.59 L432.58,227.69 L433.07,227.79 L433.57,227.88 L434.07,227.96 L434.57,228.03 L435.07,228.1 L435.57,228.16 L436.06,228.22 L436.56,228.27 L437.06,228.33 L437.56,228.38 L438.06,228.42 L438.56,228.46 L439.05,228.51 L439.55,228.55 L440.05,228.58 L440.55,228.62 L441.05,228.65 L441.55,228.69 L442.04,228.72 L442.54,228.75 L443.04,228.78 L443.54,228.8 L444.04,228.83 L444.54,228.86 L445.04,228.88 L445.53,228.9 L446.03,228.93 L446.53,228.95 L447.03,228.97 L447.53,228.99 L448.03,229.01 L448.52,229.03 L449.02,229.05 L449.52,229.07 L450.02,229.08 L450.52,229.1 L451.02,229.12 L451.51,229.13 L452.01,229.15 L452.51,229.16 L453.01,229.18 L453.51,229.19 L454.01,229.2 L454.5,229.22 L455,229.23 L455.5,229.24 L456,229.26" fill="none" stroke="#3c8a3c" stroke-width="0.6"/><path d="M350,293.8 L350.5,293.8 L350.99,293.81 L351.49,293.81 L351.99,293.81 L352.48,293.82 L352.98,293.82 L353.48,293.82 L353.98,293.82 L354.47,293.82 L354.97,293.82 L355.47,293.82 L355.96,293.82 L356.46,293.81 L356.96,293.81 L357.45,293.8 L357.95,293.79 L358.45,293.77 L358.94,293.75 L359.44,293.73 L359.94,293.7 L360.43,293.67 L360.93,293.63 L361.43,293.59 L361.93,293.53 L362.42,293.47 L362.92,293.39 L363.42,293.31 L363.91,293.21 L364.41,293.09 L364.91,292.96 L365.4,292.81 L365.9,292.64 L366.4,292.44 L366.89,292.23 L367.39,291.98 L367.89,291.71 L368.39,291.41 L368.88,291.07 L369.38,290.7 L369.88,290.29 L370.37,289.85 L370.87,289.36 L371.37,288.83 L371.86,288.25 L372.36,287.63 L372.86,286.96 L373.35,286.25 L373.85,285.49 L374.35,284.68 L374.84,283.83 L375.34,282.93 L375.84,281.99 L376.34,281.01 L376.83,279.99 L377.33,278.93 L377.83,277.85 L378.32,276.74 L378.82,275.61 L379.32,274.47 L379.81,273.31 L380.31,272.16 L380.81,271.01 L381.3,269.88 L381.8,268.77 L382.3,267.68 L382.8,266.64 L383.29,265.64 L383.79,264.69 L384.29,263.8 L384.78,262.99 L385.28,262.24 L385.78,261.58 L386.27,261.01 L386.77,260.52 L387.27,260.14 L387.76,259.85 L388.26,259.67 L388.76,259.59 L389.25,259.62 L389.75,259.75 L390.25,259.99 L390.75,260.33 L391.24,260.76 L391.74,261.3 L392.24,261.92 L392.73,262.63 L393.23,263.41 L393.73,264.27 L394.22,265.2 L394.72,266.18 L395.22,267.21 L395.71,268.28 L396.21,269.39 L396.71,270.52 L397.2,271.67 L397.7,272.83 L398.2,273.99 L398.7,275.15 L399.19,276.3 L399.69,277.43 L400.19,278.54 L400.68,279.62 L401.18,280.67 L401.68,281.68 L402.17,282.65 L402.67,283.58 L403.17,284.47 L403.66,285.31 L404.16,286.11 L404.66,286.86 L405.16,287.56 L405.65,288.22 L406.15,288.83 L406.65,289.39 L407.14,289.91 L407.64,290.39 L408.14,290.83 L408.63,291.23 L409.13,291.59 L409.63,291.92 L410.12,292.22 L410.62,292.49 L411.12,292.73 L411.61,292.94 L412.11,293.13 L412.61,293.3 L413.11,293.45 L413.6,293.59 L414.1,293.7 L414.6,293.81 L415.09,293.89 L415.59,293.97 L416.09,294.04 L416.58,294.1 L417.08,294.15 L417.58,294.2 L418.07,294.23 L418.57,294.27 L419.07,294.3 L419.57,294.32 L420.06,294.34 L420.56,294.36 L421.06,294.38 L421.55,294.39 L422.05,294.4 L422.55,294.41 L423.04,294.42 L423.54,294.43 L424.04,294.44 L424.53,294.44 L425.03,294.45 L425.53,294.45 L426.02,294.46 L426.52,294.46 L427.02,294.47 L427.52,294.47 L428.01,294.48 L428.51,294.48 L429.01,294.48 L429.5,294.49 L430,294.49" fill="none" stroke="#e05868" stroke-width="0.6"/><path d="M330,293.6 L330.5,293.6 L330.99,293.61 L331.49,293.61 L331.99,293.61 L332.48,293.62 L332.98,293.62 L333.48,293.63 L333.98,293.63 L334.47,293.63 L334.97,293.64 L335.47,293.64 L335.96,293.64 L336.46,293.64 L336.96,293.64 L337.45,293.64 L337.95,293.64 L338.45,293.64 L338.94,293.64 L339.44,293.63 L339.94,293.63 L340.43,293.62 L340.93,293.62 L341.43,293.61 L341.93,293.59 L342.42,293.58 L342.92,293.56 L343.42,293.55 L343.91,293.52 L344.41,293.5 L344.91,293.47 L345.4,293.44 L345.9,293.4 L346.4,293.36 L346.89,293.31 L347.39,293.26 L347.89,293.2 L348.39,293.14 L348.88,293.07 L349.38,293 L349.88,292.92 L350.37,292.83 L350.87,292.73 L351.37,292.63 L351.86,292.52 L352.36,292.4 L352.86,292.27 L353.35,292.13 L353.85,291.99 L354.35,291.84 L354.84,291.68 L355.34,291.51 L355.84,291.33 L356.34,291.15 L356.83,290.96 L357.33,290.76 L357.83,290.56 L358.32,290.36 L358.82,290.15 L359.32,289.93 L359.81,289.72 L360.31,289.5 L360.81,289.28 L361.3,289.06 L361.8,288.85 L362.3,288.64 L362.8,288.43 L363.29,288.23 L363.79,288.03 L364.29,287.84 L364.78,287.66 L365.28,287.5 L365.78,287.34 L366.27,287.2 L366.77,287.06 L367.27,286.95 L367.76,286.85 L368.26,286.77 L368.76,286.7 L369.25,286.65 L369.75,286.62 L370.25,286.6 L370.75,286.61 L371.24,286.64 L371.74,286.71 L372.24,286.79 L372.73,286.91 L373.23,287.05 L373.73,287.22 L374.22,287.4 L374.72,287.61 L375.22,287.83 L375.71,288.07 L376.21,288.33 L376.71,288.59 L377.2,288.86 L377.7,289.14 L378.2,289.42 L378.7,289.71 L379.19,289.99 L379.69,290.27 L380.19,290.55 L380.68,290.82 L381.18,291.08 L381.68,291.33 L382.17,291.57 L382.67,291.8 L383.17,292.02 L383.66,292.23 L384.16,292.42 L384.66,292.6 L385.16,292.77 L385.65,292.93 L386.15,293.07 L386.65,293.2 L387.14,293.32 L387.64,293.43 L388.14,293.53 L388.63,293.62 L389.13,293.7 L389.63,293.77 L390.12,293.84 L390.62,293.89 L391.12,293.94 L391.61,293.99 L392.11,294.03 L392.61,294.06 L393.11,294.09 L393.6,294.12 L394.1,294.15 L394.6,294.17 L395.09,294.19 L395.59,294.2 L396.09,294.22 L396.58,294.23 L397.08,294.24 L397.58,294.25 L398.07,294.26 L398.57,294.27 L399.07,294.28 L399.57,294.29 L400.06,294.29 L400.56,294.3 L401.06,294.3 L401.55,294.31 L402.05,294.31 L402.55,294.31 L403.04,294.32 L403.54,294.32 L404.04,294.32 L404.53,294.33 L405.03,294.33 L405.53,294.33 L406.02,294.34 L406.52,294.34 L407.02,294.34 L407.52,294.35 L408.01,294.35 L408.51,294.35 L409.01,294.36 L409.5,294.36 L410,294.36" fill="none" stroke="#3c88d8" stroke-width="0.6"/><path d="M300,293.23 L300.5,293.23 L301,293.23 L301.5,293.24 L301.99,293.24 L302.49,293.25 L302.99,293.25 L303.49,293.26 L303.99,293.26 L304.49,293.27 L304.98,293.27 L305.48,293.27 L305.98,293.28 L306.48,293.28 L306.98,293.29 L307.48,293.29 L307.97,293.3 L308.47,293.3 L308.97,293.31 L309.47,293.31 L309.97,293.31 L310.47,293.32 L310.96,293.32 L311.46,293.33 L311.96,293.33 L312.46,293.34 L312.96,293.34 L313.46,293.34 L313.96,293.35 L314.45,293.35 L314.95,293.36 L315.45,293.36 L315.95,293.36 L316.45,293.37 L316.95,293.37 L317.44,293.38 L317.94,293.38 L318.44,293.38 L318.94,293.39 L319.44,293.39 L319.94,293.4 L320.43,293.4 L320.93,293.4 L321.43,293.41 L321.93,293.41 L322.43,293.42 L322.93,293.42 L323.42,293.42 L323.92,293.43 L324.42,293.43 L324.92,293.44 L325.42,293.44 L325.92,293.44 L326.42,293.45 L326.91,293.45 L327.41,293.45 L327.91,293.46 L328.41,293.46 L328.91,293.47 L329.41,293.47 L329.9,293.47 L330.4,293.48 L330.9,293.48 L331.4,293.48 L331.9,293.49 L332.4,293.49 L332.89,293.49 L333.39,293.5 L333.89,293.5 L334.39,293.5 L334.89,293.51 L335.39,293.51 L335.88,293.51 L336.38,293.52 L336.88,293.52 L337.38,293.52 L337.88,293.53 L338.38,293.53 L338.88,293.53 L339.37,293.53 L339.87,293.54 L340.37,293.54 L340.87,293.54 L341.37,293.55 L341.87,293.55 L342.36,293.55 L342.86,293.55 L343.36,293.56 L343.86,293.56 L344.36,293.56 L344.86,293.56 L345.35,293.56 L345.85,293.57 L346.35,293.57 L346.85,293.57 L347.35,293.57 L347.85,293.57 L348.35,293.58 L348.84,293.58 L349.34,293.58 L349.84,293.58 L350.34,293.58 L350.84,293.58 L351.34,293.58 L351.83,293.59 L352.33,293.59 L352.83,293.59 L353.33,293.59 L353.83,293.59 L354.33,293.59 L354.82,293.59 L355.32,293.59 L355.82,293.59 L356.32,293.59 L356.82,293.59 L357.32,293.59 L357.81,293.59 L358.31,293.59 L358.81,293.59 L359.31,293.59 L359.81,293.59 L360.31,293.59 L360.81,293.59 L361.3,293.58 L361.8,293.58 L362.3,293.58 L362.8,293.58 L363.3,293.58 L363.8,293.57 L364.29,293.57 L364.79,293.57 L365.29,293.56 L365.79,293.56 L366.29,293.56 L366.79,293.55 L367.28,293.55 L367.78,293.54 L368.28,293.54 L368.78,293.53 L369.28,293.53 L369.78,293.52 L370.27,293.51 L370.77,293.51 L371.27,293.5 L371.77,293.49 L372.27,293.48 L372.77,293.47 L373.27,293.46 L373.76,293.45 L374.26,293.44 L374.76,293.43 L375.26,293.42 L375.76,293.41 L376.26,293.39 L376.75,293.38 L377.25,293.36 L377.75,293.35 L378.25,293.33 L378.75,293.31 L379.25,293.3 L379.74,293.28 L380.24,293.25 L380.74,293.23 L381.24,293.21 L381.74,293.18 L382.24,293.16 L382.73,293.13 L383.23,293.1 L383.73,293.07 L384.23,293.03 L384.73,293 L385.23,292.96 L385.73,292.92 L386.22,292.87 L386.72,292.83 L387.22,292.77 L387.72,292.72 L388.22,292.66 L388.72,292.6 L389.21,292.53 L389.71,292.45 L390.21,292.37 L390.71,292.27 L391.21,292.17 L391.71,292.05 L392.2,291.92 L392.7,291.77 L393.2,291.6 L393.7,291.4 L394.2,291.17 L394.7,290.91 L395.19,290.61 L395.69,290.26 L396.19,289.85 L396.69,289.38 L397.19,288.84 L397.69,288.21 L398.19,287.5 L398.68,286.69 L399.18,285.76 L399.68,284.73 L400.18,283.56 L400.68,282.26 L401.18,280.83 L401.67,279.26 L402.17,277.56 L402.67,275.72 L403.17,273.75 L403.67,271.67 L404.17,269.49 L404.66,267.23 L405.16,264.91 L405.66,262.57 L406.16,260.23 L406.66,257.96 L407.16,255.78 L407.65,253.75 L408.15,251.94 L408.65,250.4 L409.15,249.19 L409.65,248.35 L410.15,247.92 L410.65,247.92 L411.14,248.35 L411.64,249.19 L412.14,250.4 L412.64,251.95 L413.14,253.76 L413.64,255.79 L414.13,257.97 L414.63,260.25 L415.13,262.59 L415.63,264.94 L416.13,267.27 L416.63,269.54 L417.12,271.72 L417.62,273.81 L418.12,275.79 L418.62,277.64 L419.12,279.35 L419.62,280.93 L420.12,282.37 L420.61,283.67 L421.11,284.85 L421.61,285.89 L422.11,286.83 L422.61,287.65 L423.11,288.37 L423.6,289.01 L424.1,289.56 L424.6,290.04 L425.1,290.45 L425.6,290.81 L426.1,291.13 L426.59,291.4 L427.09,291.63 L427.59,291.84 L428.09,292.02 L428.59,292.18 L429.09,292.32 L429.58,292.44 L430.08,292.56 L430.58,292.66 L431.08,292.75 L431.58,292.84 L432.08,292.91 L432.58,292.99 L433.07,293.05 L433.57,293.11 L434.07,293.17 L434.57,293.23 L435.07,293.28 L435.57,293.33 L436.06,293.38 L436.56,293.42 L437.06,293.46 L437.56,293.5 L438.06,293.54 L438.56,293.58 L439.05,293.61 L439.55,293.65 L440.05,293.68 L440.55,293.71 L441.05,293.74 L441.55,293.77 L442.04,293.79 L442.54,293.82 L443.04,293.84 L443.54,293.87 L444.04,293.89 L444.54,293.91 L445.04,293.94 L445.53,293.96 L446.03,293.98 L446.53,294 L447.03,294.01 L447.53,294.03 L448.03,294.05 L448.52,294.07 L449.02,294.08 L449.52,294.1 L450.02,294.12 L450.52,294.13 L451.02,294.15 L451.51,294.16 L452.01,294.17 L452.51,294.19 L453.01,294.2 L453.51,294.21 L454.01,294.23 L454.5,294.24 L455,294.25 L455.5,294.26 L456,294.27" fill="none" stroke="#3c8a3c" stroke-width="0.6"/><path d="M291,227.9 C291.83,227.92 293.67,227.95 296,228 C298.33,228.05 301,228.15 305,228.2 C309,228.25 315,228.32 320,228.3 C325,228.28 330.83,228.17 335,228.1 C339.17,228.03 342.5,228.02 345,227.9 C347.5,227.78 348.32,227.57 350,227.4 C351.68,227.23 353.47,227.1 355.1,226.9 C356.73,226.7 358.12,226.6 359.8,226.2 C361.48,225.8 363.4,225.07 365.2,224.5 C367,223.93 368.97,223.38 370.6,222.8 C372.23,222.22 373.93,221.48 375,221 C376.07,220.52 376.25,220.3 377,219.9 C377.75,219.5 378.68,218.93 379.5,218.6 C380.32,218.27 380.8,218.08 381.9,217.9 C383,217.72 385,217.55 386.1,217.5 C387.2,217.45 387.68,217.48 388.5,217.6 C389.32,217.72 390.17,217.97 391,218.2 C391.83,218.43 392.67,218.77 393.5,219 C394.33,219.23 395.17,219.57 396,219.6 C396.83,219.63 397.73,219.7 398.5,219.2 C399.27,218.7 399.92,217.93 400.6,216.6 C401.28,215.27 402.03,212.97 402.6,211.2 C403.17,209.43 403.55,207.78 404,206 C404.45,204.22 404.87,202.42 405.3,200.5 C405.73,198.58 406.1,196.67 406.6,194.5 C407.1,192.33 407.77,189.62 408.3,187.5 C408.83,185.38 409.32,183.22 409.8,181.8 C410.28,180.38 410.72,179.67 411.2,179 C411.68,178.33 412.2,177.8 412.7,177.8 C413.2,177.8 413.75,178.3 414.2,179 C414.65,179.7 414.97,180.58 415.4,182 C415.83,183.42 416.3,185.2 416.8,187.5 C417.3,189.8 417.87,193.13 418.4,195.8 C418.93,198.47 419.47,201 420,203.5 C420.53,206 421.02,208.63 421.6,210.8 C422.18,212.97 422.78,214.55 423.5,216.5 C424.22,218.45 425.07,220.98 425.9,222.5 C426.73,224.02 427.65,224.85 428.5,225.6 C429.35,226.35 430.02,226.57 431,227 C431.98,227.43 432.9,227.9 434.4,228.2 C435.9,228.5 437.4,228.63 440,228.8 C442.6,228.97 447.37,229.1 450,229.2 C452.63,229.3 454.83,229.37 455.8,229.4" fill="none" stroke="#d6d6d6" stroke-width="2.6" stroke-linejoin="round"/><path d="M291,227.9 C291.83,227.92 293.67,227.95 296,228 C298.33,228.05 301,228.15 305,228.2 C309,228.25 315,228.32 320,228.3 C325,228.28 330.83,228.17 335,228.1 C339.17,228.03 342.5,228.02 345,227.9 C347.5,227.78 348.32,227.57 350,227.4 C351.68,227.23 353.47,227.1 355.1,226.9 C356.73,226.7 358.12,226.6 359.8,226.2 C361.48,225.8 363.4,225.07 365.2,224.5 C367,223.93 368.97,223.38 370.6,222.8 C372.23,222.22 373.93,221.48 375,221 C376.07,220.52 376.25,220.3 377,219.9 C377.75,219.5 378.68,218.93 379.5,218.6 C380.32,218.27 380.8,218.08 381.9,217.9 C383,217.72 385,217.55 386.1,217.5 C387.2,217.45 387.68,217.48 388.5,217.6 C389.32,217.72 390.17,217.97 391,218.2 C391.83,218.43 392.67,218.77 393.5,219 C394.33,219.23 395.17,219.57 396,219.6 C396.83,219.63 397.73,219.7 398.5,219.2 C399.27,218.7 399.92,217.93 400.6,216.6 C401.28,215.27 402.03,212.97 402.6,211.2 C403.17,209.43 403.55,207.78 404,206 C404.45,204.22 404.87,202.42 405.3,200.5 C405.73,198.58 406.1,196.67 406.6,194.5 C407.1,192.33 407.77,189.62 408.3,187.5 C408.83,185.38 409.32,183.22 409.8,181.8 C410.28,180.38 410.72,179.67 411.2,179 C411.68,178.33 412.2,177.8 412.7,177.8 C413.2,177.8 413.75,178.3 414.2,179 C414.65,179.7 414.97,180.58 415.4,182 C415.83,183.42 416.3,185.2 416.8,187.5 C417.3,189.8 417.87,193.13 418.4,195.8 C418.93,198.47 419.47,201 420,203.5 C420.53,206 421.02,208.63 421.6,210.8 C422.18,212.97 422.78,214.55 423.5,216.5 C424.22,218.45 425.07,220.98 425.9,222.5 C426.73,224.02 427.65,224.85 428.5,225.6 C429.35,226.35 430.02,226.57 431,227 C431.98,227.43 432.9,227.9 434.4,228.2 C435.9,228.5 437.4,228.63 440,228.8 C442.6,228.97 447.37,229.1 450,229.2 C452.63,229.3 454.83,229.37 455.8,229.4" fill="none" stroke="#727272" stroke-width="0.95"/><path d="M291,292.4 C292.5,292.53 296.83,293 300,293.2 C303.17,293.4 306.67,293.5 310,293.6 C313.33,293.7 315.83,293.83 320,293.8 C324.17,293.77 330.83,293.57 335,293.4 C339.17,293.23 342.17,293.02 345,292.8 C347.83,292.58 349.83,292.5 352,292.1 C354.17,291.7 356,291.17 358,290.4 C360,289.63 362.33,288.42 364,287.5 C365.67,286.58 366.67,285.9 368,284.9 C369.33,283.9 370.67,282.83 372,281.5 C373.33,280.17 374.67,278.72 376,276.9 C377.33,275.08 379,272.4 380,270.6 C381,268.8 381.35,267.72 382,266.1 C382.65,264.48 383.23,262.4 383.9,260.9 C384.57,259.4 385.17,258.12 386,257.1 C386.83,256.08 387.98,254.97 388.9,254.8 C389.82,254.63 390.67,255.5 391.5,256.1 C392.33,256.7 393.07,257.72 393.9,258.4 C394.73,259.08 395.67,259.83 396.5,260.2 C397.33,260.57 398.08,260.87 398.9,260.6 C399.72,260.33 400.57,259.52 401.4,258.6 C402.23,257.68 403.13,256.3 403.9,255.1 C404.67,253.9 405.33,252.48 406,251.4 C406.67,250.32 407.18,249.37 407.9,248.6 C408.62,247.83 409.62,246.88 410.3,246.8 C410.98,246.72 411.57,247.6 412,248.1 C412.43,248.6 412.43,248.63 412.9,249.8 C413.37,250.97 414.15,252.97 414.8,255.1 C415.45,257.23 416.1,259.77 416.8,262.6 C417.5,265.43 418.17,269.02 419,272.1 C419.83,275.18 420.88,278.55 421.8,281.1 C422.72,283.65 423.5,285.62 424.5,287.4 C425.5,289.18 426.72,290.78 427.8,291.8 C428.88,292.82 429.63,293.1 431,293.5 C432.37,293.9 433.67,294.02 436,294.2 C438.33,294.38 441.7,294.5 445,294.6 C448.3,294.7 454,294.77 455.8,294.8" fill="none" stroke="#d6d6d6" stroke-width="2.6" stroke-linejoin="round"/><path d="M291,292.4 C292.5,292.53 296.83,293 300,293.2 C303.17,293.4 306.67,293.5 310,293.6 C313.33,293.7 315.83,293.83 320,293.8 C324.17,293.77 330.83,293.57 335,293.4 C339.17,293.23 342.17,293.02 345,292.8 C347.83,292.58 349.83,292.5 352,292.1 C354.17,291.7 356,291.17 358,290.4 C360,289.63 362.33,288.42 364,287.5 C365.67,286.58 366.67,285.9 368,284.9 C369.33,283.9 370.67,282.83 372,281.5 C373.33,280.17 374.67,278.72 376,276.9 C377.33,275.08 379,272.4 380,270.6 C381,268.8 381.35,267.72 382,266.1 C382.65,264.48 383.23,262.4 383.9,260.9 C384.57,259.4 385.17,258.12 386,257.1 C386.83,256.08 387.98,254.97 388.9,254.8 C389.82,254.63 390.67,255.5 391.5,256.1 C392.33,256.7 393.07,257.72 393.9,258.4 C394.73,259.08 395.67,259.83 396.5,260.2 C397.33,260.57 398.08,260.87 398.9,260.6 C399.72,260.33 400.57,259.52 401.4,258.6 C402.23,257.68 403.13,256.3 403.9,255.1 C404.67,253.9 405.33,252.48 406,251.4 C406.67,250.32 407.18,249.37 407.9,248.6 C408.62,247.83 409.62,246.88 410.3,246.8 C410.98,246.72 411.57,247.6 412,248.1 C412.43,248.6 412.43,248.63 412.9,249.8 C413.37,250.97 414.15,252.97 414.8,255.1 C415.45,257.23 416.1,259.77 416.8,262.6 C417.5,265.43 418.17,269.02 419,272.1 C419.83,275.18 420.88,278.55 421.8,281.1 C422.72,283.65 423.5,285.62 424.5,287.4 C425.5,289.18 426.72,290.78 427.8,291.8 C428.88,292.82 429.63,293.1 431,293.5 C432.37,293.9 433.67,294.02 436,294.2 C438.33,294.38 441.7,294.5 445,294.6 C448.3,294.7 454,294.77 455.8,294.8" fill="none" stroke="#727272" stroke-width="0.95"/><text x="348.9" y="224.4" font-size="5.3" fill="#222" stroke="#222" stroke-width="0.1" transform="rotate(-10,348.9,224.4)">O<tspan font-size="3.5" dy="-2.1">-</tspan></text><line x1="353.2" y1="224.6" x2="360" y2="226.6" stroke="#333" stroke-width="0.4"/><path d="M360,226.6 L357.51,226.91 L358.08,224.99 Z" fill="#111"/><text x="368.1" y="215.6" font-size="5.3" fill="#222" stroke="#222" stroke-width="0.1">OH<tspan font-size="3.5" dy="-2.1">-</tspan></text><line x1="374.6" y1="217.6" x2="382.4" y2="221.6" stroke="#333" stroke-width="0.4"/><path d="M382.4,221.6 L379.9,221.44 L380.81,219.66 Z" fill="#111"/><text x="432" y="205.6" font-size="5.3" fill="#222" stroke="#222" stroke-width="0.1" transform="rotate(-18,432,205.6)">O<tspan font-size="3.5" dy="-2.1">2-</tspan></text><line x1="431" y1="205.8" x2="416.2" y2="210.6" stroke="#333" stroke-width="0.4"/><path d="M416.2,210.6 L418.08,208.94 L418.7,210.84 Z" fill="#111"/>
</svg>
</body></html>
